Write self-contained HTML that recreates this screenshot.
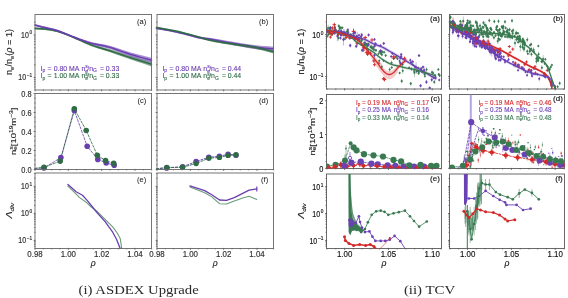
<!DOCTYPE html>
<html><head><meta charset="utf-8"><style>
html,body{margin:0;padding:0;background:#fff;width:568px;height:298px;overflow:hidden}
svg{display:block;filter:blur(0.4px)}
text{font-family:"Liberation Sans", sans-serif}
</style></head><body>
<svg width="568" height="298" viewBox="0 0 568 298">
<defs>
<clipPath id="cTa"><rect x="326.5" y="14.5" width="115" height="74.5"/></clipPath>
<clipPath id="cTb"><rect x="449.5" y="14.5" width="115" height="74.5"/></clipPath>
<clipPath id="cTc"><rect x="326.5" y="94.5" width="115" height="74"/></clipPath>
<clipPath id="cTd"><rect x="449.5" y="94.5" width="115" height="74"/></clipPath>
<clipPath id="cTe"><rect x="326.5" y="174" width="115" height="74.5"/></clipPath>
<clipPath id="cTf"><rect x="449.5" y="174" width="115" height="74.5"/></clipPath>
</defs>
<rect width="568" height="298" fill="#fff"/>
<polygon points="35.00,27.50 36.08,27.56 37.56,27.64 39.31,27.74 41.22,27.86 43.16,28.01 45.00,28.20 46.78,28.41 48.59,28.65 50.44,28.91 52.30,29.22 54.16,29.58 56.00,30.00 57.83,30.50 59.67,31.06 61.50,31.67 63.33,32.32 65.17,33.00 67.00,33.70 68.84,34.43 70.68,35.20 72.52,35.99 74.36,36.80 76.19,37.61 78.00,38.40 79.83,39.19 81.68,39.98 83.53,40.76 85.32,41.51 87.02,42.22 88.60,42.84 89.94,43.36 91.06,43.78 92.09,44.15 93.16,44.52 94.42,44.92 96.00,45.41 97.88,45.96 99.96,46.53 102.21,47.14 104.64,47.81 107.24,48.54 110.00,49.35 112.97,50.27 116.17,51.29 119.53,52.37 123.00,53.49 126.51,54.60 130.00,55.68 133.75,56.81 137.85,58.02 142.00,59.23 145.87,60.36 149.14,61.31 151.50,61.99 151.50,66.41 149.14,65.64 145.87,64.57 142.00,63.30 137.85,61.94 133.75,60.58 130.00,59.32 126.51,58.11 123.00,56.86 119.53,55.62 116.17,54.41 112.97,53.28 110.00,52.25 107.24,51.34 104.64,50.51 102.21,49.76 99.96,49.06 97.88,48.41 96.00,47.79 94.42,47.25 93.16,46.80 92.09,46.40 91.06,45.99 89.94,45.52 88.60,44.96 87.02,44.27 85.32,43.51 83.53,42.69 81.68,41.84 79.83,40.99 78.00,40.20 76.19,39.41 74.36,38.60 72.52,37.79 70.68,37.00 68.84,36.23 67.00,35.50 65.17,34.80 63.33,34.12 61.50,33.47 59.67,32.86 57.83,32.30 56.00,31.80 54.16,31.38 52.30,31.02 50.44,30.71 48.59,30.45 46.78,30.21 45.00,30.00 43.16,29.81 41.22,29.66 39.31,29.54 37.56,29.44 36.08,29.36 35.00,29.30" fill="#2f6b45" fill-opacity="0.4" stroke="none"/>
<polyline points="35.00,27.86 36.08,27.92 37.56,28.00 39.31,28.10 41.22,28.22 43.16,28.37 45.00,28.56 46.78,28.77 48.59,29.01 50.44,29.27 52.30,29.58 54.16,29.94 56.00,30.36 57.83,30.86 59.67,31.42 61.50,32.03 63.33,32.68 65.17,33.36 67.00,34.06 68.84,34.79 70.68,35.56 72.52,36.35 74.36,37.16 76.19,37.97 78.00,38.76 79.83,39.55 81.68,40.35 83.53,41.15 85.32,41.91 87.02,42.63 88.60,43.27 89.94,43.79 91.06,44.22 92.09,44.60 93.16,44.97 94.42,45.39 96.00,45.88 97.88,46.45 99.96,47.04 102.21,47.67 104.64,48.35 107.24,49.10 110.00,49.93 112.97,50.87 116.17,51.91 119.53,53.02 123.00,54.16 126.51,55.30 130.00,56.41 133.75,57.56 137.85,58.81 142.00,60.05 145.87,61.20 149.14,62.17 151.50,62.87" fill="none" stroke="#2f6b45" stroke-width="0.8" stroke-linejoin="round" stroke-linecap="round" stroke-opacity="0.45"/>
<polyline points="35.00,28.94 36.08,29.00 37.56,29.08 39.31,29.18 41.22,29.30 43.16,29.45 45.00,29.64 46.78,29.85 48.59,30.09 50.44,30.35 52.30,30.66 54.16,31.02 56.00,31.44 57.83,31.94 59.67,32.50 61.50,33.11 63.33,33.76 65.17,34.44 67.00,35.14 68.84,35.87 70.68,36.64 72.52,37.43 74.36,38.24 76.19,39.05 78.00,39.84 79.83,40.63 81.68,41.47 83.53,42.30 85.32,43.11 87.02,43.86 88.60,44.53 89.94,45.09 91.06,45.55 92.09,45.95 93.16,46.34 94.42,46.78 96.00,47.32 97.88,47.92 99.96,48.56 102.21,49.23 104.64,49.97 107.24,50.78 110.00,51.67 112.97,52.67 116.17,53.79 119.53,54.97 123.00,56.19 126.51,57.41 130.00,58.59 133.75,59.82 137.85,61.16 142.00,62.49 145.87,63.73 149.14,64.77 151.50,65.53" fill="none" stroke="#2f6b45" stroke-width="0.8" stroke-linejoin="round" stroke-linecap="round" stroke-opacity="0.45"/>
<polygon points="35.00,24.20 36.08,24.47 37.56,24.84 39.31,25.29 41.22,25.77 43.16,26.25 45.00,26.70 46.78,27.11 48.59,27.50 50.44,27.89 52.30,28.31 54.16,28.77 56.00,29.30 57.83,29.91 59.67,30.58 61.50,31.29 63.33,32.03 65.17,32.78 67.00,33.50 68.84,34.22 70.68,34.95 72.52,35.68 74.36,36.41 76.19,37.12 78.00,37.80 79.83,38.47 81.68,39.11 83.53,39.72 85.32,40.30 87.02,40.84 88.60,41.31 89.94,41.68 91.06,41.97 92.09,42.22 93.16,42.45 94.42,42.71 96.00,43.04 97.88,43.40 99.96,43.76 102.21,44.14 104.64,44.59 107.24,45.14 110.00,45.82 112.97,46.69 116.17,47.71 119.53,48.83 123.00,49.99 126.51,51.12 130.00,52.17 133.75,53.20 137.85,54.28 142.00,55.33 145.87,56.29 149.14,57.10 151.50,57.69 151.50,62.71 149.14,62.01 145.87,61.06 142.00,59.92 137.85,58.69 133.75,57.43 130.00,56.23 126.51,55.02 123.00,53.72 119.53,52.41 116.17,51.14 112.97,49.97 110.00,48.98 107.24,48.17 104.64,47.50 102.21,46.94 99.96,46.46 97.88,46.01 96.00,45.56 94.42,45.16 93.16,44.84 92.09,44.56 91.06,44.27 89.94,43.93 88.60,43.49 87.02,42.95 85.32,42.34 83.53,41.68 81.68,40.98 79.83,40.27 78.00,39.60 76.19,38.92 74.36,38.21 72.52,37.48 70.68,36.75 68.84,36.02 67.00,35.30 65.17,34.58 63.33,33.83 61.50,33.09 59.67,32.38 57.83,31.71 56.00,31.10 54.16,30.57 52.30,30.11 50.44,29.69 48.59,29.30 46.78,28.91 45.00,28.50 43.16,28.05 41.22,27.57 39.31,27.09 37.56,26.64 36.08,26.27 35.00,26.00" fill="#6a3db0" fill-opacity="0.4" stroke="none"/>
<polyline points="35.00,24.56 36.08,24.83 37.56,25.20 39.31,25.65 41.22,26.13 43.16,26.61 45.00,27.06 46.78,27.47 48.59,27.86 50.44,28.25 52.30,28.67 54.16,29.13 56.00,29.66 57.83,30.27 59.67,30.94 61.50,31.65 63.33,32.39 65.17,33.14 67.00,33.86 68.84,34.58 70.68,35.31 72.52,36.04 74.36,36.77 76.19,37.48 78.00,38.16 79.83,38.83 81.68,39.48 83.53,40.11 85.32,40.71 87.02,41.26 88.60,41.74 89.94,42.13 91.06,42.43 92.09,42.68 93.16,42.93 94.42,43.20 96.00,43.54 97.88,43.92 99.96,44.30 102.21,44.70 104.64,45.17 107.24,45.75 110.00,46.45 112.97,47.34 116.17,48.39 119.53,49.54 123.00,50.73 126.51,51.90 130.00,52.98 133.75,54.05 137.85,55.16 142.00,56.25 145.87,57.24 149.14,58.08 151.50,58.69" fill="none" stroke="#6a3db0" stroke-width="0.8" stroke-linejoin="round" stroke-linecap="round" stroke-opacity="0.45"/>
<polyline points="35.00,25.64 36.08,25.91 37.56,26.28 39.31,26.73 41.22,27.21 43.16,27.69 45.00,28.14 46.78,28.55 48.59,28.94 50.44,29.33 52.30,29.75 54.16,30.21 56.00,30.74 57.83,31.35 59.67,32.02 61.50,32.73 63.33,33.47 65.17,34.22 67.00,34.94 68.84,35.66 70.68,36.39 72.52,37.12 74.36,37.85 76.19,38.56 78.00,39.24 79.83,39.91 81.68,40.61 83.53,41.29 85.32,41.93 87.02,42.53 88.60,43.06 89.94,43.48 91.06,43.81 92.09,44.09 93.16,44.36 94.42,44.67 96.00,45.06 97.88,45.49 99.96,45.92 102.21,46.38 104.64,46.92 107.24,47.56 110.00,48.35 112.97,49.31 116.17,50.45 119.53,51.69 123.00,52.98 126.51,54.24 130.00,55.42 133.75,56.58 137.85,57.80 142.00,59.00 145.87,60.10 149.14,61.03 151.50,61.71" fill="none" stroke="#6a3db0" stroke-width="0.8" stroke-linejoin="round" stroke-linecap="round" stroke-opacity="0.45"/>
<polyline points="35.00,28.40 36.08,28.46 37.56,28.54 39.31,28.64 41.22,28.76 43.16,28.91 45.00,29.10 46.78,29.31 48.59,29.55 50.44,29.81 52.30,30.12 54.16,30.48 56.00,30.90 57.83,31.40 59.67,31.96 61.50,32.57 63.33,33.22 65.17,33.90 67.00,34.60 68.84,35.33 70.68,36.10 72.52,36.89 74.36,37.70 76.19,38.51 78.00,39.30 79.83,40.09 81.68,40.91 83.53,41.73 85.32,42.51 87.02,43.24 88.60,43.90 89.94,44.44 91.06,44.89 92.09,45.27 93.16,45.66 94.42,46.09 96.00,46.60 97.88,47.18 99.96,47.80 102.21,48.45 104.64,49.16 107.24,49.94 110.00,50.80 112.97,51.77 116.17,52.85 119.53,53.99 123.00,55.17 126.51,56.35 130.00,57.50 133.75,58.69 137.85,59.98 142.00,61.27 145.87,62.46 149.14,63.47 151.50,64.20" fill="none" stroke="#2f6b45" stroke-width="1.5" stroke-linejoin="round" stroke-linecap="round" />
<polyline points="35.00,25.10 36.08,25.37 37.56,25.74 39.31,26.19 41.22,26.67 43.16,27.15 45.00,27.60 46.78,28.01 48.59,28.40 50.44,28.79 52.30,29.21 54.16,29.67 56.00,30.20 57.83,30.81 59.67,31.48 61.50,32.19 63.33,32.93 65.17,33.68 67.00,34.40 68.84,35.12 70.68,35.85 72.52,36.58 74.36,37.31 76.19,38.02 78.00,38.70 79.83,39.37 81.68,40.04 83.53,40.70 85.32,41.32 87.02,41.89 88.60,42.40 89.94,42.81 91.06,43.12 92.09,43.39 93.16,43.64 94.42,43.93 96.00,44.30 97.88,44.70 99.96,45.11 102.21,45.54 104.64,46.05 107.24,46.66 110.00,47.40 112.97,48.33 116.17,49.42 119.53,50.62 123.00,51.86 126.51,53.07 130.00,54.20 133.75,55.32 137.85,56.48 142.00,57.63 145.87,58.67 149.14,59.56 151.50,60.20" fill="none" stroke="#6a3db0" stroke-width="1.5" stroke-linejoin="round" stroke-linecap="round" />
<polygon points="156.50,27.40 157.64,27.58 159.20,27.82 161.06,28.11 163.07,28.43 165.10,28.76 167.00,29.10 168.80,29.44 170.63,29.81 172.47,30.19 174.31,30.58 176.16,30.99 178.00,31.40 179.83,31.83 181.67,32.27 183.50,32.72 185.33,33.18 187.17,33.64 189.00,34.10 190.82,34.56 192.63,35.02 194.44,35.49 196.26,35.94 198.11,36.36 200.00,36.73 201.83,37.02 203.56,37.23 205.31,37.41 207.22,37.61 209.41,37.86 212.00,38.23 215.09,38.73 218.59,39.32 222.38,39.98 226.30,40.66 230.22,41.33 234.00,41.96 237.72,42.56 241.50,43.18 245.29,43.78 249.01,44.35 252.60,44.86 256.00,45.29 259.37,45.62 262.79,45.89 266.07,46.10 269.06,46.26 271.56,46.39 273.40,46.49 273.40,51.11 271.56,50.94 269.06,50.73 266.07,50.46 262.79,50.15 259.37,49.76 256.00,49.31 252.60,48.77 249.01,48.14 245.29,47.45 241.50,46.71 237.72,45.97 234.00,45.24 230.22,44.49 226.30,43.69 222.38,42.87 218.59,42.09 215.09,41.37 212.00,40.77 209.41,40.32 207.22,39.99 205.31,39.73 203.56,39.49 201.83,39.22 200.00,38.87 198.11,38.43 196.26,37.95 194.44,37.44 192.63,36.91 190.82,36.39 189.00,35.90 187.17,35.44 185.33,34.98 183.50,34.52 181.67,34.07 179.83,33.63 178.00,33.20 176.16,32.79 174.31,32.38 172.47,31.99 170.63,31.61 168.80,31.24 167.00,30.90 165.10,30.56 163.07,30.23 161.06,29.91 159.20,29.62 157.64,29.38 156.50,29.20" fill="#6a3db0" fill-opacity="0.4" stroke="none"/>
<polyline points="156.50,27.76 157.64,27.94 159.20,28.18 161.06,28.47 163.07,28.79 165.10,29.12 167.00,29.46 168.80,29.80 170.63,30.17 172.47,30.55 174.31,30.94 176.16,31.35 178.00,31.76 179.83,32.19 181.67,32.63 183.50,33.08 185.33,33.54 187.17,34.00 189.00,34.46 190.82,34.93 192.63,35.40 194.44,35.88 196.26,36.34 198.11,36.77 200.00,37.16 201.83,37.46 203.56,37.68 205.31,37.87 207.22,38.08 209.41,38.35 212.00,38.74 215.09,39.26 218.59,39.87 222.38,40.56 226.30,41.27 230.22,41.97 234.00,42.61 237.72,43.24 241.50,43.88 245.29,44.51 249.01,45.11 252.60,45.64 256.00,46.09 259.37,46.45 262.79,46.74 266.07,46.97 269.06,47.15 271.56,47.30 273.40,47.42" fill="none" stroke="#6a3db0" stroke-width="0.8" stroke-linejoin="round" stroke-linecap="round" stroke-opacity="0.45"/>
<polyline points="156.50,28.84 157.64,29.02 159.20,29.26 161.06,29.55 163.07,29.87 165.10,30.20 167.00,30.54 168.80,30.88 170.63,31.25 172.47,31.63 174.31,32.02 176.16,32.43 178.00,32.84 179.83,33.27 181.67,33.71 183.50,34.16 185.33,34.62 187.17,35.08 189.00,35.54 190.82,36.02 192.63,36.53 194.44,37.05 196.26,37.55 198.11,38.02 200.00,38.44 201.83,38.78 203.56,39.04 205.31,39.26 207.22,39.51 209.41,39.83 212.00,40.26 215.09,40.84 218.59,41.53 222.38,42.29 226.30,43.08 230.22,43.86 234.00,44.59 237.72,45.29 241.50,46.01 245.29,46.71 249.01,47.38 252.60,47.99 256.00,48.51 259.37,48.94 262.79,49.30 266.07,49.59 269.06,49.83 271.56,50.03 273.40,50.18" fill="none" stroke="#6a3db0" stroke-width="0.8" stroke-linejoin="round" stroke-linecap="round" stroke-opacity="0.45"/>
<polygon points="156.50,26.80 157.64,27.00 159.20,27.29 161.06,27.62 163.07,27.98 165.10,28.35 167.00,28.70 168.80,29.03 170.63,29.36 172.47,29.69 174.31,30.04 176.16,30.41 178.00,30.80 179.83,31.22 181.67,31.67 183.50,32.14 185.33,32.63 187.17,33.11 189.00,33.60 190.82,34.08 192.63,34.55 194.44,35.03 196.26,35.52 198.11,36.01 200.00,36.50 201.83,37.00 203.56,37.51 205.31,38.01 207.22,38.53 209.41,39.05 212.00,39.59 215.09,40.14 218.59,40.71 222.38,41.28 226.30,41.86 230.22,42.43 234.00,42.98 237.72,43.50 241.50,43.99 245.29,44.47 249.01,44.97 252.60,45.49 256.00,46.06 259.37,46.74 262.79,47.52 266.07,48.32 269.06,49.09 271.56,49.73 273.40,50.20 273.40,53.40 271.56,52.91 269.06,52.21 266.07,51.39 262.79,50.52 259.37,49.68 256.00,48.94 252.60,48.30 249.01,47.71 245.29,47.14 241.50,46.58 237.72,46.02 234.00,45.42 230.22,44.80 226.30,44.16 222.38,43.51 218.59,42.86 215.09,42.22 212.00,41.61 209.41,41.03 207.22,40.46 205.31,39.91 203.56,39.37 201.83,38.83 200.00,38.30 198.11,37.76 196.26,37.24 194.44,36.72 192.63,36.20 190.82,35.69 189.00,35.20 187.17,34.71 185.33,34.23 183.50,33.74 181.67,33.27 179.83,32.82 178.00,32.40 176.16,32.01 174.31,31.64 172.47,31.29 170.63,30.96 168.80,30.63 167.00,30.30 165.10,29.95 163.07,29.58 161.06,29.22 159.20,28.89 157.64,28.60 156.50,28.40" fill="#2f6b45" fill-opacity="0.4" stroke="none"/>
<polyline points="156.50,27.12 157.64,27.32 159.20,27.61 161.06,27.94 163.07,28.30 165.10,28.67 167.00,29.02 168.80,29.35 170.63,29.68 172.47,30.01 174.31,30.36 176.16,30.73 178.00,31.12 179.83,31.54 181.67,31.99 183.50,32.46 185.33,32.95 187.17,33.43 189.00,33.92 190.82,34.40 192.63,34.88 194.44,35.37 196.26,35.86 198.11,36.36 200.00,36.86 201.83,37.37 203.56,37.88 205.31,38.39 207.22,38.92 209.41,39.45 212.00,39.99 215.09,40.56 218.59,41.14 222.38,41.73 226.30,42.32 230.22,42.90 234.00,43.47 237.72,44.00 241.50,44.51 245.29,45.01 249.01,45.52 252.60,46.05 256.00,46.64 259.37,47.33 262.79,48.12 266.07,48.94 269.06,49.71 271.56,50.37 273.40,50.84" fill="none" stroke="#2f6b45" stroke-width="0.8" stroke-linejoin="round" stroke-linecap="round" stroke-opacity="0.45"/>
<polyline points="156.50,28.08 157.64,28.28 159.20,28.57 161.06,28.90 163.07,29.26 165.10,29.63 167.00,29.98 168.80,30.31 170.63,30.64 172.47,30.97 174.31,31.32 176.16,31.69 178.00,32.08 179.83,32.50 181.67,32.95 183.50,33.42 185.33,33.91 187.17,34.39 189.00,34.88 190.82,35.37 192.63,35.87 194.44,36.38 196.26,36.89 198.11,37.41 200.00,37.94 201.83,38.47 203.56,39.00 205.31,39.53 207.22,40.08 209.41,40.63 212.00,41.21 215.09,41.81 218.59,42.43 222.38,43.06 226.30,43.70 230.22,44.33 234.00,44.93 237.72,45.51 241.50,46.06 245.29,46.61 249.01,47.16 252.60,47.74 256.00,48.36 259.37,49.09 262.79,49.92 266.07,50.78 269.06,51.59 271.56,52.27 273.40,52.76" fill="none" stroke="#2f6b45" stroke-width="0.8" stroke-linejoin="round" stroke-linecap="round" stroke-opacity="0.45"/>
<polyline points="156.50,28.30 157.64,28.48 159.20,28.72 161.06,29.01 163.07,29.33 165.10,29.66 167.00,30.00 168.80,30.34 170.63,30.71 172.47,31.09 174.31,31.48 176.16,31.89 178.00,32.30 179.83,32.73 181.67,33.17 183.50,33.62 185.33,34.08 187.17,34.54 189.00,35.00 190.82,35.47 192.63,35.97 194.44,36.46 196.26,36.94 198.11,37.40 200.00,37.80 201.83,38.12 203.56,38.36 205.31,38.57 207.22,38.80 209.41,39.09 212.00,39.50 215.09,40.05 218.59,40.70 222.38,41.42 226.30,42.17 230.22,42.91 234.00,43.60 237.72,44.27 241.50,44.94 245.29,45.61 249.01,46.24 252.60,46.82 256.00,47.30 259.37,47.69 262.79,48.02 266.07,48.28 269.06,48.49 271.56,48.66 273.40,48.80" fill="none" stroke="#6a3db0" stroke-width="1.5" stroke-linejoin="round" stroke-linecap="round" />
<polyline points="156.50,27.60 157.64,27.80 159.20,28.09 161.06,28.42 163.07,28.78 165.10,29.15 167.00,29.50 168.80,29.83 170.63,30.16 172.47,30.49 174.31,30.84 176.16,31.21 178.00,31.60 179.83,32.02 181.67,32.47 183.50,32.94 185.33,33.43 187.17,33.91 189.00,34.40 190.82,34.89 192.63,35.38 194.44,35.87 196.26,36.38 198.11,36.89 200.00,37.40 201.83,37.92 203.56,38.44 205.31,38.96 207.22,39.50 209.41,40.04 212.00,40.60 215.09,41.18 218.59,41.78 222.38,42.39 226.30,43.01 230.22,43.61 234.00,44.20 237.72,44.76 241.50,45.29 245.29,45.81 249.01,46.34 252.60,46.90 256.00,47.50 259.37,48.21 262.79,49.02 266.07,49.86 269.06,50.65 271.56,51.32 273.40,51.80" fill="none" stroke="#2f6b45" stroke-width="1.5" stroke-linejoin="round" stroke-linecap="round" />
<polyline points="35.00,168.50 44.00,168.00 60.90,157.60 74.30,110.60 87.20,146.30 97.80,159.40 106.20,163.00 114.20,165.30" fill="none" stroke="#6a3db0" stroke-width="0.9" stroke-linejoin="round" stroke-linecap="round" stroke-dasharray="2.2,1.6" stroke-opacity="0.9"/>
<polyline points="35.00,168.30 44.00,167.30 60.20,161.10 74.30,108.70 86.20,130.50 97.30,155.20 105.50,160.60 113.70,163.40" fill="none" stroke="#2f6b45" stroke-width="0.9" stroke-linejoin="round" stroke-linecap="round" stroke-dasharray="2.2,1.6" stroke-opacity="0.9"/>
<circle cx="44.0" cy="168.0" r="2.8" fill="#6a3db0"/>
<circle cx="60.9" cy="157.6" r="2.8" fill="#6a3db0"/>
<circle cx="74.3" cy="110.6" r="2.8" fill="#6a3db0"/>
<circle cx="87.2" cy="146.3" r="2.8" fill="#6a3db0"/>
<circle cx="97.8" cy="159.4" r="2.8" fill="#6a3db0"/>
<circle cx="106.2" cy="163.0" r="2.8" fill="#6a3db0"/>
<circle cx="114.2" cy="165.3" r="2.8" fill="#6a3db0"/>
<circle cx="44.0" cy="167.3" r="2.8" fill="#2f6b45"/>
<circle cx="60.2" cy="161.1" r="2.8" fill="#2f6b45"/>
<circle cx="74.3" cy="108.7" r="2.8" fill="#2f6b45"/>
<circle cx="86.2" cy="130.5" r="2.8" fill="#2f6b45"/>
<circle cx="97.3" cy="155.2" r="2.8" fill="#2f6b45"/>
<circle cx="105.5" cy="160.6" r="2.8" fill="#2f6b45"/>
<circle cx="113.7" cy="163.4" r="2.8" fill="#2f6b45"/>
<polyline points="156.50,168.80 166.80,167.90 182.60,166.80 196.10,161.60 208.80,157.20 219.40,156.40 228.10,154.20 236.00,155.20" fill="none" stroke="#6a3db0" stroke-width="0.9" stroke-linejoin="round" stroke-linecap="round" stroke-dasharray="2.2,1.6"/>
<polyline points="156.50,168.80 166.80,167.40 182.60,167.30 196.10,163.50 208.80,158.20 219.40,157.40 228.10,155.40 236.00,154.70" fill="none" stroke="#2f6b45" stroke-width="0.9" stroke-linejoin="round" stroke-linecap="round" stroke-dasharray="2.2,1.6"/>
<circle cx="166.8" cy="167.9" r="2.8" fill="#6a3db0"/>
<circle cx="182.6" cy="166.8" r="2.8" fill="#6a3db0"/>
<circle cx="196.1" cy="161.6" r="2.8" fill="#6a3db0"/>
<circle cx="208.8" cy="157.2" r="2.8" fill="#6a3db0"/>
<circle cx="219.4" cy="156.4" r="2.8" fill="#6a3db0"/>
<circle cx="228.1" cy="154.2" r="2.8" fill="#6a3db0"/>
<circle cx="236.0" cy="155.2" r="2.8" fill="#6a3db0"/>
<circle cx="166.8" cy="167.4" r="2.7" fill="#2f6b45"/>
<circle cx="182.6" cy="167.3" r="2.7" fill="#2f6b45"/>
<circle cx="196.1" cy="163.5" r="2.7" fill="#2f6b45"/>
<circle cx="208.8" cy="158.2" r="2.7" fill="#2f6b45"/>
<circle cx="219.4" cy="157.4" r="2.7" fill="#2f6b45"/>
<circle cx="228.1" cy="155.4" r="2.7" fill="#2f6b45"/>
<circle cx="236.0" cy="154.7" r="2.7" fill="#2f6b45"/>
<polyline points="67.90,186.10 73.70,191.70 79.60,197.60 85.50,201.70 91.30,207.00 97.60,211.80 105.10,219.40 112.70,226.90 117.20,233.00 120.20,238.50 121.70,248.40" fill="none" stroke="#6a9a7c" stroke-width="1.1" stroke-linejoin="round" stroke-linecap="round" />
<polyline points="67.90,184.50 71.40,187.60 76.10,191.70 82.50,195.30 87.80,201.10 92.50,207.00 97.60,213.30 105.10,221.60 112.70,232.20 116.40,239.00 120.20,248.40" fill="none" stroke="#6a3db0" stroke-width="1.3" stroke-linejoin="round" stroke-linecap="round" />
<polyline points="189.90,187.00 204.70,192.70 211.80,196.90 219.50,203.70 226.50,204.00 234.30,201.10 242.70,198.00 249.10,196.20 256.80,199.40" fill="none" stroke="#6a9a7c" stroke-width="1.1" stroke-linejoin="round" stroke-linecap="round" />
<polyline points="189.90,185.90 204.70,190.60 211.80,194.80 219.50,200.00 226.50,200.40 234.30,197.60 242.70,193.40 249.10,190.10 256.80,188.90" fill="none" stroke="#6a3db0" stroke-width="1.3" stroke-linejoin="round" stroke-linecap="round" />
<line x1="256.80" y1="186.60" x2="256.80" y2="191.40" stroke="#6a3db0" stroke-width="1.1" />
<text font-size="6.9" fill="#6a3db0" stroke="#6a3db0" stroke-width="0.12" class="lg"><tspan x="40.50" y="70.80">I</tspan><tspan font-size="4.97" y="72.32">p</tspan><tspan x="47.50" y="70.80">=</tspan><tspan x="53.70" y="70.80">0.80</tspan><tspan x="69.00" y="70.80">MA</tspan><tspan x="81.40" y="70.80">n</tspan><tspan font-size="4.97" y="68.32">s</tspan><tspan font-size="4.97" x="85.24" y="72.59">e</tspan><tspan x="87.30" y="70.80">/n</tspan><tspan font-size="4.97" y="72.32">G</tspan><tspan x="100.10" y="70.80">=</tspan><tspan x="105.80" y="70.80">0.33</tspan></text>
<text font-size="6.9" fill="#2f6b45" stroke="#2f6b45" stroke-width="0.12" class="lg"><tspan x="40.50" y="78.40">I</tspan><tspan font-size="4.97" y="79.92">p</tspan><tspan x="47.50" y="78.40">=</tspan><tspan x="53.70" y="78.40">1.00</tspan><tspan x="69.00" y="78.40">MA</tspan><tspan x="81.40" y="78.40">n</tspan><tspan font-size="4.97" y="75.92">s</tspan><tspan font-size="4.97" x="85.24" y="80.19">e</tspan><tspan x="87.30" y="78.40">/n</tspan><tspan font-size="4.97" y="79.92">G</tspan><tspan x="100.10" y="78.40">=</tspan><tspan x="105.80" y="78.40">0.33</tspan></text>
<text font-size="6.9" fill="#6a3db0" stroke="#6a3db0" stroke-width="0.12" class="lg"><tspan x="162.40" y="70.80">I</tspan><tspan font-size="4.97" y="72.32">p</tspan><tspan x="169.40" y="70.80">=</tspan><tspan x="175.60" y="70.80">0.80</tspan><tspan x="190.90" y="70.80">MA</tspan><tspan x="203.30" y="70.80">n</tspan><tspan font-size="4.97" y="68.32">s</tspan><tspan font-size="4.97" x="207.14" y="72.59">e</tspan><tspan x="209.20" y="70.80">/n</tspan><tspan font-size="4.97" y="72.32">G</tspan><tspan x="222.00" y="70.80">=</tspan><tspan x="227.70" y="70.80">0.44</tspan></text>
<text font-size="6.9" fill="#2f6b45" stroke="#2f6b45" stroke-width="0.12" class="lg"><tspan x="162.40" y="78.40">I</tspan><tspan font-size="4.97" y="79.92">p</tspan><tspan x="169.40" y="78.40">=</tspan><tspan x="175.60" y="78.40">1.00</tspan><tspan x="190.90" y="78.40">MA</tspan><tspan x="203.30" y="78.40">n</tspan><tspan font-size="4.97" y="75.92">s</tspan><tspan font-size="4.97" x="207.14" y="80.19">e</tspan><tspan x="209.20" y="78.40">/n</tspan><tspan font-size="4.97" y="79.92">G</tspan><tspan x="222.00" y="78.40">=</tspan><tspan x="227.70" y="78.40">0.44</tspan></text>
<line x1="34.09" y1="86.93" x2="35.39" y2="86.93" stroke="#555" stroke-width="0.8" />
<line x1="34.09" y1="84.08" x2="35.39" y2="84.08" stroke="#555" stroke-width="0.8" />
<line x1="34.09" y1="81.62" x2="35.39" y2="81.62" stroke="#555" stroke-width="0.8" />
<line x1="34.09" y1="79.44" x2="35.39" y2="79.44" stroke="#555" stroke-width="0.8" />
<line x1="33.60" y1="77.50" x2="35.60" y2="77.50" stroke="#555" stroke-width="0.8" />
<line x1="34.09" y1="64.71" x2="35.39" y2="64.71" stroke="#555" stroke-width="0.8" />
<line x1="34.09" y1="57.22" x2="35.39" y2="57.22" stroke="#555" stroke-width="0.8" />
<line x1="34.09" y1="51.91" x2="35.39" y2="51.91" stroke="#555" stroke-width="0.8" />
<line x1="34.09" y1="47.79" x2="35.39" y2="47.79" stroke="#555" stroke-width="0.8" />
<line x1="34.09" y1="44.43" x2="35.39" y2="44.43" stroke="#555" stroke-width="0.8" />
<line x1="34.09" y1="41.58" x2="35.39" y2="41.58" stroke="#555" stroke-width="0.8" />
<line x1="34.09" y1="39.12" x2="35.39" y2="39.12" stroke="#555" stroke-width="0.8" />
<line x1="34.09" y1="36.94" x2="35.39" y2="36.94" stroke="#555" stroke-width="0.8" />
<line x1="33.60" y1="35.00" x2="35.60" y2="35.00" stroke="#555" stroke-width="0.8" />
<line x1="34.09" y1="22.21" x2="35.39" y2="22.21" stroke="#555" stroke-width="0.8" />
<text transform="translate(32.20,37.50) scale(1,1.2)" font-size="7.0" text-anchor="end" fill="#333" stroke="#333" stroke-width="0.16">10<tspan font-size="4.8" dx="0.7" dy="-2.7">0</tspan></text>
<text transform="translate(32.20,80.00) scale(1,1.2)" font-size="7.0" text-anchor="end" fill="#333" stroke="#333" stroke-width="0.16">10<tspan font-size="4.8" dx="0.7" dy="-2.7">&#8722;1</tspan></text>
<line x1="35.00" y1="91.40" x2="35.00" y2="89.40" stroke="#555" stroke-width="0.8" />
<line x1="43.33" y1="90.91" x2="43.33" y2="89.61" stroke="#555" stroke-width="0.8" />
<line x1="51.67" y1="90.91" x2="51.67" y2="89.61" stroke="#555" stroke-width="0.8" />
<line x1="60.00" y1="90.91" x2="60.00" y2="89.61" stroke="#555" stroke-width="0.8" />
<line x1="68.33" y1="91.40" x2="68.33" y2="89.40" stroke="#555" stroke-width="0.8" />
<line x1="76.67" y1="90.91" x2="76.67" y2="89.61" stroke="#555" stroke-width="0.8" />
<line x1="85.00" y1="90.91" x2="85.00" y2="89.61" stroke="#555" stroke-width="0.8" />
<line x1="93.33" y1="90.91" x2="93.33" y2="89.61" stroke="#555" stroke-width="0.8" />
<line x1="101.67" y1="91.40" x2="101.67" y2="89.40" stroke="#555" stroke-width="0.8" />
<line x1="110.00" y1="90.91" x2="110.00" y2="89.61" stroke="#555" stroke-width="0.8" />
<line x1="118.33" y1="90.91" x2="118.33" y2="89.61" stroke="#555" stroke-width="0.8" />
<line x1="126.67" y1="90.91" x2="126.67" y2="89.61" stroke="#555" stroke-width="0.8" />
<line x1="135.00" y1="91.40" x2="135.00" y2="89.40" stroke="#555" stroke-width="0.8" />
<line x1="143.33" y1="90.91" x2="143.33" y2="89.61" stroke="#555" stroke-width="0.8" />
<line x1="151.67" y1="90.91" x2="151.67" y2="89.61" stroke="#555" stroke-width="0.8" />
<rect x="35.0" y="14.5" width="116.50" height="75.50" fill="none" stroke="#666" stroke-width="0.9"/>
<line x1="33.60" y1="169.50" x2="35.60" y2="169.50" stroke="#555" stroke-width="0.8" />
<text transform="translate(31.60,172.90) scale(1,1.2)" font-size="7.4" text-anchor="end" fill="#333" stroke="#333" stroke-width="0.16" >0.0</text>
<line x1="34.09" y1="164.75" x2="35.39" y2="164.75" stroke="#555" stroke-width="0.8" />
<line x1="34.09" y1="160.00" x2="35.39" y2="160.00" stroke="#555" stroke-width="0.8" />
<line x1="34.09" y1="155.25" x2="35.39" y2="155.25" stroke="#555" stroke-width="0.8" />
<line x1="33.60" y1="150.50" x2="35.60" y2="150.50" stroke="#555" stroke-width="0.8" />
<text transform="translate(31.60,153.90) scale(1,1.2)" font-size="7.4" text-anchor="end" fill="#333" stroke="#333" stroke-width="0.16" >0.2</text>
<line x1="34.09" y1="145.75" x2="35.39" y2="145.75" stroke="#555" stroke-width="0.8" />
<line x1="34.09" y1="141.00" x2="35.39" y2="141.00" stroke="#555" stroke-width="0.8" />
<line x1="34.09" y1="136.25" x2="35.39" y2="136.25" stroke="#555" stroke-width="0.8" />
<line x1="33.60" y1="131.50" x2="35.60" y2="131.50" stroke="#555" stroke-width="0.8" />
<text transform="translate(31.60,134.90) scale(1,1.2)" font-size="7.4" text-anchor="end" fill="#333" stroke="#333" stroke-width="0.16" >0.4</text>
<line x1="34.09" y1="126.75" x2="35.39" y2="126.75" stroke="#555" stroke-width="0.8" />
<line x1="34.09" y1="122.00" x2="35.39" y2="122.00" stroke="#555" stroke-width="0.8" />
<line x1="34.09" y1="117.25" x2="35.39" y2="117.25" stroke="#555" stroke-width="0.8" />
<line x1="33.60" y1="112.50" x2="35.60" y2="112.50" stroke="#555" stroke-width="0.8" />
<text transform="translate(31.60,115.90) scale(1,1.2)" font-size="7.4" text-anchor="end" fill="#333" stroke="#333" stroke-width="0.16" >0.6</text>
<line x1="34.09" y1="107.75" x2="35.39" y2="107.75" stroke="#555" stroke-width="0.8" />
<line x1="34.09" y1="103.00" x2="35.39" y2="103.00" stroke="#555" stroke-width="0.8" />
<line x1="34.09" y1="98.25" x2="35.39" y2="98.25" stroke="#555" stroke-width="0.8" />
<line x1="33.60" y1="93.50" x2="35.60" y2="93.50" stroke="#555" stroke-width="0.8" />
<text transform="translate(31.60,96.90) scale(1,1.2)" font-size="7.4" text-anchor="end" fill="#333" stroke="#333" stroke-width="0.16" >0.8</text>
<line x1="35.00" y1="170.90" x2="35.00" y2="168.90" stroke="#555" stroke-width="0.8" />
<line x1="43.33" y1="170.41" x2="43.33" y2="169.11" stroke="#555" stroke-width="0.8" />
<line x1="51.67" y1="170.41" x2="51.67" y2="169.11" stroke="#555" stroke-width="0.8" />
<line x1="60.00" y1="170.41" x2="60.00" y2="169.11" stroke="#555" stroke-width="0.8" />
<line x1="68.33" y1="170.90" x2="68.33" y2="168.90" stroke="#555" stroke-width="0.8" />
<line x1="76.67" y1="170.41" x2="76.67" y2="169.11" stroke="#555" stroke-width="0.8" />
<line x1="85.00" y1="170.41" x2="85.00" y2="169.11" stroke="#555" stroke-width="0.8" />
<line x1="93.33" y1="170.41" x2="93.33" y2="169.11" stroke="#555" stroke-width="0.8" />
<line x1="101.67" y1="170.90" x2="101.67" y2="168.90" stroke="#555" stroke-width="0.8" />
<line x1="110.00" y1="170.41" x2="110.00" y2="169.11" stroke="#555" stroke-width="0.8" />
<line x1="118.33" y1="170.41" x2="118.33" y2="169.11" stroke="#555" stroke-width="0.8" />
<line x1="126.67" y1="170.41" x2="126.67" y2="169.11" stroke="#555" stroke-width="0.8" />
<line x1="135.00" y1="170.90" x2="135.00" y2="168.90" stroke="#555" stroke-width="0.8" />
<line x1="143.33" y1="170.41" x2="143.33" y2="169.11" stroke="#555" stroke-width="0.8" />
<line x1="151.67" y1="170.41" x2="151.67" y2="169.11" stroke="#555" stroke-width="0.8" />
<rect x="35.0" y="93.5" width="116.50" height="76.00" fill="none" stroke="#666" stroke-width="0.9"/>
<line x1="34.09" y1="246.39" x2="35.39" y2="246.39" stroke="#555" stroke-width="0.8" />
<line x1="34.09" y1="244.58" x2="35.39" y2="244.58" stroke="#555" stroke-width="0.8" />
<line x1="34.09" y1="243.02" x2="35.39" y2="243.02" stroke="#555" stroke-width="0.8" />
<line x1="34.09" y1="241.64" x2="35.39" y2="241.64" stroke="#555" stroke-width="0.8" />
<line x1="33.60" y1="240.40" x2="35.60" y2="240.40" stroke="#555" stroke-width="0.8" />
<line x1="34.09" y1="232.27" x2="35.39" y2="232.27" stroke="#555" stroke-width="0.8" />
<line x1="34.09" y1="227.52" x2="35.39" y2="227.52" stroke="#555" stroke-width="0.8" />
<line x1="34.09" y1="224.14" x2="35.39" y2="224.14" stroke="#555" stroke-width="0.8" />
<line x1="34.09" y1="221.53" x2="35.39" y2="221.53" stroke="#555" stroke-width="0.8" />
<line x1="34.09" y1="219.39" x2="35.39" y2="219.39" stroke="#555" stroke-width="0.8" />
<line x1="34.09" y1="217.58" x2="35.39" y2="217.58" stroke="#555" stroke-width="0.8" />
<line x1="34.09" y1="216.02" x2="35.39" y2="216.02" stroke="#555" stroke-width="0.8" />
<line x1="34.09" y1="214.64" x2="35.39" y2="214.64" stroke="#555" stroke-width="0.8" />
<line x1="33.60" y1="213.40" x2="35.60" y2="213.40" stroke="#555" stroke-width="0.8" />
<line x1="34.09" y1="205.27" x2="35.39" y2="205.27" stroke="#555" stroke-width="0.8" />
<line x1="34.09" y1="200.52" x2="35.39" y2="200.52" stroke="#555" stroke-width="0.8" />
<line x1="34.09" y1="197.14" x2="35.39" y2="197.14" stroke="#555" stroke-width="0.8" />
<line x1="34.09" y1="194.53" x2="35.39" y2="194.53" stroke="#555" stroke-width="0.8" />
<line x1="34.09" y1="192.39" x2="35.39" y2="192.39" stroke="#555" stroke-width="0.8" />
<line x1="34.09" y1="190.58" x2="35.39" y2="190.58" stroke="#555" stroke-width="0.8" />
<line x1="34.09" y1="189.02" x2="35.39" y2="189.02" stroke="#555" stroke-width="0.8" />
<line x1="34.09" y1="187.64" x2="35.39" y2="187.64" stroke="#555" stroke-width="0.8" />
<line x1="33.60" y1="186.40" x2="35.60" y2="186.40" stroke="#555" stroke-width="0.8" />
<line x1="34.09" y1="178.27" x2="35.39" y2="178.27" stroke="#555" stroke-width="0.8" />
<line x1="34.09" y1="173.52" x2="35.39" y2="173.52" stroke="#555" stroke-width="0.8" />
<text transform="translate(32.20,188.90) scale(1,1.2)" font-size="7.0" text-anchor="end" fill="#333" stroke="#333" stroke-width="0.16">10<tspan font-size="4.8" dx="0.7" dy="-2.7">1</tspan></text>
<text transform="translate(32.20,215.90) scale(1,1.2)" font-size="7.0" text-anchor="end" fill="#333" stroke="#333" stroke-width="0.16">10<tspan font-size="4.8" dx="0.7" dy="-2.7">0</tspan></text>
<text transform="translate(32.20,242.90) scale(1,1.2)" font-size="7.0" text-anchor="end" fill="#333" stroke="#333" stroke-width="0.16">10<tspan font-size="4.8" dx="0.7" dy="-2.7">&#8722;1</tspan></text>
<line x1="35.00" y1="249.90" x2="35.00" y2="247.90" stroke="#555" stroke-width="0.8" />
<text transform="translate(35.00,257.10) scale(1,1.15)" font-size="7.9" text-anchor="middle" fill="#333" stroke="#333" stroke-width="0.16" >0.98</text>
<line x1="43.33" y1="249.41" x2="43.33" y2="248.11" stroke="#555" stroke-width="0.8" />
<line x1="51.67" y1="249.41" x2="51.67" y2="248.11" stroke="#555" stroke-width="0.8" />
<line x1="60.00" y1="249.41" x2="60.00" y2="248.11" stroke="#555" stroke-width="0.8" />
<line x1="68.33" y1="249.90" x2="68.33" y2="247.90" stroke="#555" stroke-width="0.8" />
<text transform="translate(68.33,257.10) scale(1,1.15)" font-size="7.9" text-anchor="middle" fill="#333" stroke="#333" stroke-width="0.16" >1.00</text>
<line x1="76.67" y1="249.41" x2="76.67" y2="248.11" stroke="#555" stroke-width="0.8" />
<line x1="85.00" y1="249.41" x2="85.00" y2="248.11" stroke="#555" stroke-width="0.8" />
<line x1="93.33" y1="249.41" x2="93.33" y2="248.11" stroke="#555" stroke-width="0.8" />
<line x1="101.67" y1="249.90" x2="101.67" y2="247.90" stroke="#555" stroke-width="0.8" />
<text transform="translate(101.67,257.10) scale(1,1.15)" font-size="7.9" text-anchor="middle" fill="#333" stroke="#333" stroke-width="0.16" >1.02</text>
<line x1="110.00" y1="249.41" x2="110.00" y2="248.11" stroke="#555" stroke-width="0.8" />
<line x1="118.33" y1="249.41" x2="118.33" y2="248.11" stroke="#555" stroke-width="0.8" />
<line x1="126.67" y1="249.41" x2="126.67" y2="248.11" stroke="#555" stroke-width="0.8" />
<line x1="135.00" y1="249.90" x2="135.00" y2="247.90" stroke="#555" stroke-width="0.8" />
<text transform="translate(135.00,257.10) scale(1,1.15)" font-size="7.9" text-anchor="middle" fill="#333" stroke="#333" stroke-width="0.16" >1.04</text>
<line x1="143.33" y1="249.41" x2="143.33" y2="248.11" stroke="#555" stroke-width="0.8" />
<line x1="151.67" y1="249.41" x2="151.67" y2="248.11" stroke="#555" stroke-width="0.8" />
<rect x="35.0" y="173.0" width="116.50" height="75.50" fill="none" stroke="#666" stroke-width="0.9"/>
<line x1="156.09" y1="86.93" x2="157.39" y2="86.93" stroke="#555" stroke-width="0.8" />
<line x1="156.09" y1="84.08" x2="157.39" y2="84.08" stroke="#555" stroke-width="0.8" />
<line x1="156.09" y1="81.62" x2="157.39" y2="81.62" stroke="#555" stroke-width="0.8" />
<line x1="156.09" y1="79.44" x2="157.39" y2="79.44" stroke="#555" stroke-width="0.8" />
<line x1="155.60" y1="77.50" x2="157.60" y2="77.50" stroke="#555" stroke-width="0.8" />
<line x1="156.09" y1="64.71" x2="157.39" y2="64.71" stroke="#555" stroke-width="0.8" />
<line x1="156.09" y1="57.22" x2="157.39" y2="57.22" stroke="#555" stroke-width="0.8" />
<line x1="156.09" y1="51.91" x2="157.39" y2="51.91" stroke="#555" stroke-width="0.8" />
<line x1="156.09" y1="47.79" x2="157.39" y2="47.79" stroke="#555" stroke-width="0.8" />
<line x1="156.09" y1="44.43" x2="157.39" y2="44.43" stroke="#555" stroke-width="0.8" />
<line x1="156.09" y1="41.58" x2="157.39" y2="41.58" stroke="#555" stroke-width="0.8" />
<line x1="156.09" y1="39.12" x2="157.39" y2="39.12" stroke="#555" stroke-width="0.8" />
<line x1="156.09" y1="36.94" x2="157.39" y2="36.94" stroke="#555" stroke-width="0.8" />
<line x1="155.60" y1="35.00" x2="157.60" y2="35.00" stroke="#555" stroke-width="0.8" />
<line x1="156.09" y1="22.21" x2="157.39" y2="22.21" stroke="#555" stroke-width="0.8" />
<line x1="157.00" y1="91.40" x2="157.00" y2="89.40" stroke="#555" stroke-width="0.8" />
<line x1="165.33" y1="90.91" x2="165.33" y2="89.61" stroke="#555" stroke-width="0.8" />
<line x1="173.67" y1="90.91" x2="173.67" y2="89.61" stroke="#555" stroke-width="0.8" />
<line x1="182.00" y1="90.91" x2="182.00" y2="89.61" stroke="#555" stroke-width="0.8" />
<line x1="190.33" y1="91.40" x2="190.33" y2="89.40" stroke="#555" stroke-width="0.8" />
<line x1="198.67" y1="90.91" x2="198.67" y2="89.61" stroke="#555" stroke-width="0.8" />
<line x1="207.00" y1="90.91" x2="207.00" y2="89.61" stroke="#555" stroke-width="0.8" />
<line x1="215.33" y1="90.91" x2="215.33" y2="89.61" stroke="#555" stroke-width="0.8" />
<line x1="223.67" y1="91.40" x2="223.67" y2="89.40" stroke="#555" stroke-width="0.8" />
<line x1="232.00" y1="90.91" x2="232.00" y2="89.61" stroke="#555" stroke-width="0.8" />
<line x1="240.33" y1="90.91" x2="240.33" y2="89.61" stroke="#555" stroke-width="0.8" />
<line x1="248.67" y1="90.91" x2="248.67" y2="89.61" stroke="#555" stroke-width="0.8" />
<line x1="257.00" y1="91.40" x2="257.00" y2="89.40" stroke="#555" stroke-width="0.8" />
<line x1="265.33" y1="90.91" x2="265.33" y2="89.61" stroke="#555" stroke-width="0.8" />
<line x1="273.67" y1="90.91" x2="273.67" y2="89.61" stroke="#555" stroke-width="0.8" />
<rect x="157.0" y="14.5" width="116.50" height="75.50" fill="none" stroke="#666" stroke-width="0.9"/>
<line x1="155.60" y1="169.50" x2="157.60" y2="169.50" stroke="#555" stroke-width="0.8" />
<line x1="156.09" y1="164.75" x2="157.39" y2="164.75" stroke="#555" stroke-width="0.8" />
<line x1="156.09" y1="160.00" x2="157.39" y2="160.00" stroke="#555" stroke-width="0.8" />
<line x1="156.09" y1="155.25" x2="157.39" y2="155.25" stroke="#555" stroke-width="0.8" />
<line x1="155.60" y1="150.50" x2="157.60" y2="150.50" stroke="#555" stroke-width="0.8" />
<line x1="156.09" y1="145.75" x2="157.39" y2="145.75" stroke="#555" stroke-width="0.8" />
<line x1="156.09" y1="141.00" x2="157.39" y2="141.00" stroke="#555" stroke-width="0.8" />
<line x1="156.09" y1="136.25" x2="157.39" y2="136.25" stroke="#555" stroke-width="0.8" />
<line x1="155.60" y1="131.50" x2="157.60" y2="131.50" stroke="#555" stroke-width="0.8" />
<line x1="156.09" y1="126.75" x2="157.39" y2="126.75" stroke="#555" stroke-width="0.8" />
<line x1="156.09" y1="122.00" x2="157.39" y2="122.00" stroke="#555" stroke-width="0.8" />
<line x1="156.09" y1="117.25" x2="157.39" y2="117.25" stroke="#555" stroke-width="0.8" />
<line x1="155.60" y1="112.50" x2="157.60" y2="112.50" stroke="#555" stroke-width="0.8" />
<line x1="156.09" y1="107.75" x2="157.39" y2="107.75" stroke="#555" stroke-width="0.8" />
<line x1="156.09" y1="103.00" x2="157.39" y2="103.00" stroke="#555" stroke-width="0.8" />
<line x1="156.09" y1="98.25" x2="157.39" y2="98.25" stroke="#555" stroke-width="0.8" />
<line x1="155.60" y1="93.50" x2="157.60" y2="93.50" stroke="#555" stroke-width="0.8" />
<line x1="157.00" y1="170.90" x2="157.00" y2="168.90" stroke="#555" stroke-width="0.8" />
<line x1="165.33" y1="170.41" x2="165.33" y2="169.11" stroke="#555" stroke-width="0.8" />
<line x1="173.67" y1="170.41" x2="173.67" y2="169.11" stroke="#555" stroke-width="0.8" />
<line x1="182.00" y1="170.41" x2="182.00" y2="169.11" stroke="#555" stroke-width="0.8" />
<line x1="190.33" y1="170.90" x2="190.33" y2="168.90" stroke="#555" stroke-width="0.8" />
<line x1="198.67" y1="170.41" x2="198.67" y2="169.11" stroke="#555" stroke-width="0.8" />
<line x1="207.00" y1="170.41" x2="207.00" y2="169.11" stroke="#555" stroke-width="0.8" />
<line x1="215.33" y1="170.41" x2="215.33" y2="169.11" stroke="#555" stroke-width="0.8" />
<line x1="223.67" y1="170.90" x2="223.67" y2="168.90" stroke="#555" stroke-width="0.8" />
<line x1="232.00" y1="170.41" x2="232.00" y2="169.11" stroke="#555" stroke-width="0.8" />
<line x1="240.33" y1="170.41" x2="240.33" y2="169.11" stroke="#555" stroke-width="0.8" />
<line x1="248.67" y1="170.41" x2="248.67" y2="169.11" stroke="#555" stroke-width="0.8" />
<line x1="257.00" y1="170.90" x2="257.00" y2="168.90" stroke="#555" stroke-width="0.8" />
<line x1="265.33" y1="170.41" x2="265.33" y2="169.11" stroke="#555" stroke-width="0.8" />
<line x1="273.67" y1="170.41" x2="273.67" y2="169.11" stroke="#555" stroke-width="0.8" />
<rect x="157.0" y="93.5" width="116.50" height="76.00" fill="none" stroke="#666" stroke-width="0.9"/>
<line x1="156.09" y1="246.39" x2="157.39" y2="246.39" stroke="#555" stroke-width="0.8" />
<line x1="156.09" y1="244.58" x2="157.39" y2="244.58" stroke="#555" stroke-width="0.8" />
<line x1="156.09" y1="243.02" x2="157.39" y2="243.02" stroke="#555" stroke-width="0.8" />
<line x1="156.09" y1="241.64" x2="157.39" y2="241.64" stroke="#555" stroke-width="0.8" />
<line x1="155.60" y1="240.40" x2="157.60" y2="240.40" stroke="#555" stroke-width="0.8" />
<line x1="156.09" y1="232.27" x2="157.39" y2="232.27" stroke="#555" stroke-width="0.8" />
<line x1="156.09" y1="227.52" x2="157.39" y2="227.52" stroke="#555" stroke-width="0.8" />
<line x1="156.09" y1="224.14" x2="157.39" y2="224.14" stroke="#555" stroke-width="0.8" />
<line x1="156.09" y1="221.53" x2="157.39" y2="221.53" stroke="#555" stroke-width="0.8" />
<line x1="156.09" y1="219.39" x2="157.39" y2="219.39" stroke="#555" stroke-width="0.8" />
<line x1="156.09" y1="217.58" x2="157.39" y2="217.58" stroke="#555" stroke-width="0.8" />
<line x1="156.09" y1="216.02" x2="157.39" y2="216.02" stroke="#555" stroke-width="0.8" />
<line x1="156.09" y1="214.64" x2="157.39" y2="214.64" stroke="#555" stroke-width="0.8" />
<line x1="155.60" y1="213.40" x2="157.60" y2="213.40" stroke="#555" stroke-width="0.8" />
<line x1="156.09" y1="205.27" x2="157.39" y2="205.27" stroke="#555" stroke-width="0.8" />
<line x1="156.09" y1="200.52" x2="157.39" y2="200.52" stroke="#555" stroke-width="0.8" />
<line x1="156.09" y1="197.14" x2="157.39" y2="197.14" stroke="#555" stroke-width="0.8" />
<line x1="156.09" y1="194.53" x2="157.39" y2="194.53" stroke="#555" stroke-width="0.8" />
<line x1="156.09" y1="192.39" x2="157.39" y2="192.39" stroke="#555" stroke-width="0.8" />
<line x1="156.09" y1="190.58" x2="157.39" y2="190.58" stroke="#555" stroke-width="0.8" />
<line x1="156.09" y1="189.02" x2="157.39" y2="189.02" stroke="#555" stroke-width="0.8" />
<line x1="156.09" y1="187.64" x2="157.39" y2="187.64" stroke="#555" stroke-width="0.8" />
<line x1="155.60" y1="186.40" x2="157.60" y2="186.40" stroke="#555" stroke-width="0.8" />
<line x1="156.09" y1="178.27" x2="157.39" y2="178.27" stroke="#555" stroke-width="0.8" />
<line x1="156.09" y1="173.52" x2="157.39" y2="173.52" stroke="#555" stroke-width="0.8" />
<line x1="157.00" y1="249.90" x2="157.00" y2="247.90" stroke="#555" stroke-width="0.8" />
<text transform="translate(157.00,257.10) scale(1,1.15)" font-size="7.9" text-anchor="middle" fill="#333" stroke="#333" stroke-width="0.16" >0.98</text>
<line x1="165.33" y1="249.41" x2="165.33" y2="248.11" stroke="#555" stroke-width="0.8" />
<line x1="173.67" y1="249.41" x2="173.67" y2="248.11" stroke="#555" stroke-width="0.8" />
<line x1="182.00" y1="249.41" x2="182.00" y2="248.11" stroke="#555" stroke-width="0.8" />
<line x1="190.33" y1="249.90" x2="190.33" y2="247.90" stroke="#555" stroke-width="0.8" />
<text transform="translate(190.33,257.10) scale(1,1.15)" font-size="7.9" text-anchor="middle" fill="#333" stroke="#333" stroke-width="0.16" >1.00</text>
<line x1="198.67" y1="249.41" x2="198.67" y2="248.11" stroke="#555" stroke-width="0.8" />
<line x1="207.00" y1="249.41" x2="207.00" y2="248.11" stroke="#555" stroke-width="0.8" />
<line x1="215.33" y1="249.41" x2="215.33" y2="248.11" stroke="#555" stroke-width="0.8" />
<line x1="223.67" y1="249.90" x2="223.67" y2="247.90" stroke="#555" stroke-width="0.8" />
<text transform="translate(223.67,257.10) scale(1,1.15)" font-size="7.9" text-anchor="middle" fill="#333" stroke="#333" stroke-width="0.16" >1.02</text>
<line x1="232.00" y1="249.41" x2="232.00" y2="248.11" stroke="#555" stroke-width="0.8" />
<line x1="240.33" y1="249.41" x2="240.33" y2="248.11" stroke="#555" stroke-width="0.8" />
<line x1="248.67" y1="249.41" x2="248.67" y2="248.11" stroke="#555" stroke-width="0.8" />
<line x1="257.00" y1="249.90" x2="257.00" y2="247.90" stroke="#555" stroke-width="0.8" />
<text transform="translate(257.00,257.10) scale(1,1.15)" font-size="7.9" text-anchor="middle" fill="#333" stroke="#333" stroke-width="0.16" >1.04</text>
<line x1="265.33" y1="249.41" x2="265.33" y2="248.11" stroke="#555" stroke-width="0.8" />
<line x1="273.67" y1="249.41" x2="273.67" y2="248.11" stroke="#555" stroke-width="0.8" />
<rect x="157.0" y="173.0" width="116.50" height="75.50" fill="none" stroke="#666" stroke-width="0.9"/>
<text x="146.20" y="23.80" font-size="7.5" text-anchor="end" fill="#222" stroke="#222" stroke-width="0.05" >(a)</text>
<text x="146.20" y="102.80" font-size="7.5" text-anchor="end" fill="#222" stroke="#222" stroke-width="0.05" >(c)</text>
<text x="146.20" y="182.30" font-size="7.5" text-anchor="end" fill="#222" stroke="#222" stroke-width="0.05" >(e)</text>
<text x="268.20" y="23.80" font-size="7.5" text-anchor="end" fill="#222" stroke="#222" stroke-width="0.05" >(b)</text>
<text x="268.20" y="102.80" font-size="7.5" text-anchor="end" fill="#222" stroke="#222" stroke-width="0.05" >(d)</text>
<text x="268.20" y="182.30" font-size="7.5" text-anchor="end" fill="#222" stroke="#222" stroke-width="0.05" >(f)</text>
<text x="93.25" y="266.40" font-size="8.6" text-anchor="middle" fill="#222" stroke="#222" stroke-width="0.16" font-style="italic">&#961;</text>
<text x="215.25" y="266.40" font-size="8.6" text-anchor="middle" fill="#222" stroke="#222" stroke-width="0.16" font-style="italic">&#961;</text>
<text x="384.00" y="266.20" font-size="8.6" text-anchor="middle" fill="#111" stroke="#111" stroke-width="0.14" font-style="italic">&#961;</text>
<text x="507.00" y="266.20" font-size="8.6" text-anchor="middle" fill="#111" stroke="#111" stroke-width="0.14" font-style="italic">&#961;</text>
<text class="yl" transform="translate(12.30,52.00) rotate(-90)" font-size="8.3" text-anchor="middle" fill="#222" stroke="#222" stroke-width="0.12" textLength="46" lengthAdjust="spacingAndGlyphs">n<tspan font-size="5.4" dy="1.6">e</tspan><tspan dy="-1.6">/n</tspan><tspan font-size="5.4" dy="1.6">e</tspan><tspan dy="-1.6">(</tspan><tspan font-style="italic">&#961;</tspan> = 1)</text>
<text class="yl" transform="translate(15.50,131.20) rotate(-90)" font-size="7.7" text-anchor="middle" fill="#222" stroke="#222" stroke-width="0.12" textLength="47.4" lengthAdjust="spacingAndGlyphs">n<tspan font-size="5.4" dy="-3">s</tspan><tspan font-size="5.4" dx="-3.0" dy="4.6">e</tspan><tspan dy="-1.6">[10</tspan><tspan font-size="5.4" dy="-3">19</tspan><tspan dy="3">m</tspan><tspan font-size="5.4" dy="-3">&#8722;3</tspan><tspan dy="3">]</tspan></text>
<text class="yl" transform="translate(12.30,210.80) rotate(-90)" font-size="9" text-anchor="middle" fill="#222" stroke="#222" stroke-width="0.12" textLength="15.5" lengthAdjust="spacingAndGlyphs"><tspan font-style="italic">&#923;</tspan><tspan font-size="5.6" dy="1.6" font-style="italic">div</tspan></text>
<text class="yl" transform="translate(303.80,51.60) rotate(-90)" font-size="8.3" text-anchor="middle" fill="#111" stroke="#111" stroke-width="0.12" textLength="46" lengthAdjust="spacingAndGlyphs">n<tspan font-size="5.4" dy="1.6">e</tspan><tspan dy="-1.6">/n</tspan><tspan font-size="5.4" dy="1.6">e</tspan><tspan dy="-1.6">(</tspan><tspan font-style="italic">&#961;</tspan> = 1)</text>
<text class="yl" transform="translate(314.70,131.50) rotate(-90)" font-size="7.7" text-anchor="middle" fill="#111" stroke="#111" stroke-width="0.12" textLength="48" lengthAdjust="spacingAndGlyphs">n<tspan font-size="5.4" dy="-3">s</tspan><tspan font-size="5.4" dx="-3.0" dy="4.6">e</tspan><tspan dy="-1.6">[10</tspan><tspan font-size="5.4" dy="-3">19</tspan><tspan dy="3">m</tspan><tspan font-size="5.4" dy="-3">&#8722;3</tspan><tspan dy="3">]</tspan></text>
<text class="yl" transform="translate(304.10,211.10) rotate(-90)" font-size="9" text-anchor="middle" fill="#111" stroke="#111" stroke-width="0.12" textLength="15.5" lengthAdjust="spacingAndGlyphs"><tspan font-style="italic">&#923;</tspan><tspan font-size="5.6" dy="1.6" font-style="italic">div</tspan></text>
<line x1="325.59" y1="85.92" x2="326.89" y2="85.92" stroke="#444" stroke-width="0.8" />
<line x1="325.59" y1="83.11" x2="326.89" y2="83.11" stroke="#444" stroke-width="0.8" />
<line x1="325.59" y1="80.67" x2="326.89" y2="80.67" stroke="#444" stroke-width="0.8" />
<line x1="325.59" y1="78.52" x2="326.89" y2="78.52" stroke="#444" stroke-width="0.8" />
<line x1="325.10" y1="76.60" x2="327.10" y2="76.60" stroke="#444" stroke-width="0.8" />
<line x1="325.59" y1="63.96" x2="326.89" y2="63.96" stroke="#444" stroke-width="0.8" />
<line x1="325.59" y1="56.56" x2="326.89" y2="56.56" stroke="#444" stroke-width="0.8" />
<line x1="325.59" y1="51.31" x2="326.89" y2="51.31" stroke="#444" stroke-width="0.8" />
<line x1="325.59" y1="47.24" x2="326.89" y2="47.24" stroke="#444" stroke-width="0.8" />
<line x1="325.59" y1="43.92" x2="326.89" y2="43.92" stroke="#444" stroke-width="0.8" />
<line x1="325.59" y1="41.11" x2="326.89" y2="41.11" stroke="#444" stroke-width="0.8" />
<line x1="325.59" y1="38.67" x2="326.89" y2="38.67" stroke="#444" stroke-width="0.8" />
<line x1="325.59" y1="36.52" x2="326.89" y2="36.52" stroke="#444" stroke-width="0.8" />
<line x1="325.10" y1="34.60" x2="327.10" y2="34.60" stroke="#444" stroke-width="0.8" />
<line x1="325.59" y1="21.96" x2="326.89" y2="21.96" stroke="#444" stroke-width="0.8" />
<text transform="translate(323.40,37.80) scale(1,1.2)" font-size="7.0" text-anchor="end" fill="#111" stroke="#111" stroke-width="0.14">10<tspan font-size="4.8" dx="0.7" dy="-2.7">0</tspan></text>
<text transform="translate(323.40,79.80) scale(1,1.2)" font-size="7.0" text-anchor="end" fill="#111" stroke="#111" stroke-width="0.14">10<tspan font-size="4.8" dx="0.7" dy="-2.7">&#8722;1</tspan></text>
<line x1="327.08" y1="89.91" x2="327.08" y2="88.61" stroke="#444" stroke-width="0.8" />
<line x1="335.84" y1="89.91" x2="335.84" y2="88.61" stroke="#444" stroke-width="0.8" />
<line x1="344.60" y1="90.40" x2="344.60" y2="88.40" stroke="#444" stroke-width="0.8" />
<line x1="353.36" y1="89.91" x2="353.36" y2="88.61" stroke="#444" stroke-width="0.8" />
<line x1="362.12" y1="89.91" x2="362.12" y2="88.61" stroke="#444" stroke-width="0.8" />
<line x1="370.88" y1="89.91" x2="370.88" y2="88.61" stroke="#444" stroke-width="0.8" />
<line x1="379.64" y1="89.91" x2="379.64" y2="88.61" stroke="#444" stroke-width="0.8" />
<line x1="388.40" y1="90.40" x2="388.40" y2="88.40" stroke="#444" stroke-width="0.8" />
<line x1="397.16" y1="89.91" x2="397.16" y2="88.61" stroke="#444" stroke-width="0.8" />
<line x1="405.92" y1="89.91" x2="405.92" y2="88.61" stroke="#444" stroke-width="0.8" />
<line x1="414.68" y1="89.91" x2="414.68" y2="88.61" stroke="#444" stroke-width="0.8" />
<line x1="423.44" y1="89.91" x2="423.44" y2="88.61" stroke="#444" stroke-width="0.8" />
<line x1="432.20" y1="90.40" x2="432.20" y2="88.40" stroke="#444" stroke-width="0.8" />
<line x1="440.96" y1="89.91" x2="440.96" y2="88.61" stroke="#444" stroke-width="0.8" />
<rect x="326.5" y="14.5" width="115.00" height="74.50" fill="none" stroke="#5a5a5a" stroke-width="0.9"/>
<line x1="325.10" y1="168.30" x2="327.10" y2="168.30" stroke="#444" stroke-width="0.8" />
<text transform="translate(323.40,171.70) scale(1,1.2)" font-size="7.4" text-anchor="end" fill="#111" stroke="#111" stroke-width="0.14" >0</text>
<line x1="325.59" y1="161.54" x2="326.89" y2="161.54" stroke="#444" stroke-width="0.8" />
<line x1="325.59" y1="154.78" x2="326.89" y2="154.78" stroke="#444" stroke-width="0.8" />
<line x1="325.59" y1="148.02" x2="326.89" y2="148.02" stroke="#444" stroke-width="0.8" />
<line x1="325.59" y1="141.26" x2="326.89" y2="141.26" stroke="#444" stroke-width="0.8" />
<line x1="325.10" y1="134.50" x2="327.10" y2="134.50" stroke="#444" stroke-width="0.8" />
<text transform="translate(323.40,137.90) scale(1,1.2)" font-size="7.4" text-anchor="end" fill="#111" stroke="#111" stroke-width="0.14" >1</text>
<line x1="325.59" y1="127.74" x2="326.89" y2="127.74" stroke="#444" stroke-width="0.8" />
<line x1="325.59" y1="120.98" x2="326.89" y2="120.98" stroke="#444" stroke-width="0.8" />
<line x1="325.59" y1="114.22" x2="326.89" y2="114.22" stroke="#444" stroke-width="0.8" />
<line x1="325.59" y1="107.46" x2="326.89" y2="107.46" stroke="#444" stroke-width="0.8" />
<line x1="325.10" y1="100.70" x2="327.10" y2="100.70" stroke="#444" stroke-width="0.8" />
<text transform="translate(323.40,104.10) scale(1,1.2)" font-size="7.4" text-anchor="end" fill="#111" stroke="#111" stroke-width="0.14" >2</text>
<line x1="327.08" y1="169.41" x2="327.08" y2="168.11" stroke="#444" stroke-width="0.8" />
<line x1="335.84" y1="169.41" x2="335.84" y2="168.11" stroke="#444" stroke-width="0.8" />
<line x1="344.60" y1="169.90" x2="344.60" y2="167.90" stroke="#444" stroke-width="0.8" />
<line x1="353.36" y1="169.41" x2="353.36" y2="168.11" stroke="#444" stroke-width="0.8" />
<line x1="362.12" y1="169.41" x2="362.12" y2="168.11" stroke="#444" stroke-width="0.8" />
<line x1="370.88" y1="169.41" x2="370.88" y2="168.11" stroke="#444" stroke-width="0.8" />
<line x1="379.64" y1="169.41" x2="379.64" y2="168.11" stroke="#444" stroke-width="0.8" />
<line x1="388.40" y1="169.90" x2="388.40" y2="167.90" stroke="#444" stroke-width="0.8" />
<line x1="397.16" y1="169.41" x2="397.16" y2="168.11" stroke="#444" stroke-width="0.8" />
<line x1="405.92" y1="169.41" x2="405.92" y2="168.11" stroke="#444" stroke-width="0.8" />
<line x1="414.68" y1="169.41" x2="414.68" y2="168.11" stroke="#444" stroke-width="0.8" />
<line x1="423.44" y1="169.41" x2="423.44" y2="168.11" stroke="#444" stroke-width="0.8" />
<line x1="432.20" y1="169.90" x2="432.20" y2="167.90" stroke="#444" stroke-width="0.8" />
<line x1="440.96" y1="169.41" x2="440.96" y2="168.11" stroke="#444" stroke-width="0.8" />
<rect x="326.5" y="94.5" width="115.00" height="74.00" fill="none" stroke="#5a5a5a" stroke-width="0.9"/>
<line x1="325.59" y1="246.37" x2="326.89" y2="246.37" stroke="#444" stroke-width="0.8" />
<line x1="325.59" y1="244.57" x2="326.89" y2="244.57" stroke="#444" stroke-width="0.8" />
<line x1="325.59" y1="243.01" x2="326.89" y2="243.01" stroke="#444" stroke-width="0.8" />
<line x1="325.59" y1="241.63" x2="326.89" y2="241.63" stroke="#444" stroke-width="0.8" />
<line x1="325.10" y1="240.40" x2="327.10" y2="240.40" stroke="#444" stroke-width="0.8" />
<line x1="325.59" y1="232.30" x2="326.89" y2="232.30" stroke="#444" stroke-width="0.8" />
<line x1="325.59" y1="227.57" x2="326.89" y2="227.57" stroke="#444" stroke-width="0.8" />
<line x1="325.59" y1="224.20" x2="326.89" y2="224.20" stroke="#444" stroke-width="0.8" />
<line x1="325.59" y1="221.60" x2="326.89" y2="221.60" stroke="#444" stroke-width="0.8" />
<line x1="325.59" y1="219.47" x2="326.89" y2="219.47" stroke="#444" stroke-width="0.8" />
<line x1="325.59" y1="217.67" x2="326.89" y2="217.67" stroke="#444" stroke-width="0.8" />
<line x1="325.59" y1="216.11" x2="326.89" y2="216.11" stroke="#444" stroke-width="0.8" />
<line x1="325.59" y1="214.73" x2="326.89" y2="214.73" stroke="#444" stroke-width="0.8" />
<line x1="325.10" y1="213.50" x2="327.10" y2="213.50" stroke="#444" stroke-width="0.8" />
<line x1="325.59" y1="205.40" x2="326.89" y2="205.40" stroke="#444" stroke-width="0.8" />
<line x1="325.59" y1="200.67" x2="326.89" y2="200.67" stroke="#444" stroke-width="0.8" />
<line x1="325.59" y1="197.30" x2="326.89" y2="197.30" stroke="#444" stroke-width="0.8" />
<line x1="325.59" y1="194.70" x2="326.89" y2="194.70" stroke="#444" stroke-width="0.8" />
<line x1="325.59" y1="192.57" x2="326.89" y2="192.57" stroke="#444" stroke-width="0.8" />
<line x1="325.59" y1="190.77" x2="326.89" y2="190.77" stroke="#444" stroke-width="0.8" />
<line x1="325.59" y1="189.21" x2="326.89" y2="189.21" stroke="#444" stroke-width="0.8" />
<line x1="325.59" y1="187.83" x2="326.89" y2="187.83" stroke="#444" stroke-width="0.8" />
<line x1="325.10" y1="186.60" x2="327.10" y2="186.60" stroke="#444" stroke-width="0.8" />
<line x1="325.59" y1="178.50" x2="326.89" y2="178.50" stroke="#444" stroke-width="0.8" />
<text transform="translate(323.40,189.80) scale(1,1.2)" font-size="7.0" text-anchor="end" fill="#111" stroke="#111" stroke-width="0.14">10<tspan font-size="4.8" dx="0.7" dy="-2.7">1</tspan></text>
<text transform="translate(323.40,216.70) scale(1,1.2)" font-size="7.0" text-anchor="end" fill="#111" stroke="#111" stroke-width="0.14">10<tspan font-size="4.8" dx="0.7" dy="-2.7">0</tspan></text>
<text transform="translate(323.40,243.60) scale(1,1.2)" font-size="7.0" text-anchor="end" fill="#111" stroke="#111" stroke-width="0.14">10<tspan font-size="4.8" dx="0.7" dy="-2.7">&#8722;1</tspan></text>
<line x1="327.08" y1="249.41" x2="327.08" y2="248.11" stroke="#444" stroke-width="0.8" />
<line x1="335.84" y1="249.41" x2="335.84" y2="248.11" stroke="#444" stroke-width="0.8" />
<line x1="344.60" y1="249.90" x2="344.60" y2="247.90" stroke="#444" stroke-width="0.8" />
<text transform="translate(344.60,257.10) scale(1,1.15)" font-size="7.9" text-anchor="middle" fill="#111" stroke="#111" stroke-width="0.14" >1.00</text>
<line x1="353.36" y1="249.41" x2="353.36" y2="248.11" stroke="#444" stroke-width="0.8" />
<line x1="362.12" y1="249.41" x2="362.12" y2="248.11" stroke="#444" stroke-width="0.8" />
<line x1="370.88" y1="249.41" x2="370.88" y2="248.11" stroke="#444" stroke-width="0.8" />
<line x1="379.64" y1="249.41" x2="379.64" y2="248.11" stroke="#444" stroke-width="0.8" />
<line x1="388.40" y1="249.90" x2="388.40" y2="247.90" stroke="#444" stroke-width="0.8" />
<text transform="translate(388.40,257.10) scale(1,1.15)" font-size="7.9" text-anchor="middle" fill="#111" stroke="#111" stroke-width="0.14" >1.05</text>
<line x1="397.16" y1="249.41" x2="397.16" y2="248.11" stroke="#444" stroke-width="0.8" />
<line x1="405.92" y1="249.41" x2="405.92" y2="248.11" stroke="#444" stroke-width="0.8" />
<line x1="414.68" y1="249.41" x2="414.68" y2="248.11" stroke="#444" stroke-width="0.8" />
<line x1="423.44" y1="249.41" x2="423.44" y2="248.11" stroke="#444" stroke-width="0.8" />
<line x1="432.20" y1="249.90" x2="432.20" y2="247.90" stroke="#444" stroke-width="0.8" />
<text transform="translate(432.20,257.10) scale(1,1.15)" font-size="7.9" text-anchor="middle" fill="#111" stroke="#111" stroke-width="0.14" >1.10</text>
<line x1="440.96" y1="249.41" x2="440.96" y2="248.11" stroke="#444" stroke-width="0.8" />
<rect x="326.5" y="174.0" width="115.00" height="74.50" fill="none" stroke="#5a5a5a" stroke-width="0.9"/>
<line x1="448.59" y1="85.92" x2="449.89" y2="85.92" stroke="#444" stroke-width="0.8" />
<line x1="448.59" y1="83.11" x2="449.89" y2="83.11" stroke="#444" stroke-width="0.8" />
<line x1="448.59" y1="80.67" x2="449.89" y2="80.67" stroke="#444" stroke-width="0.8" />
<line x1="448.59" y1="78.52" x2="449.89" y2="78.52" stroke="#444" stroke-width="0.8" />
<line x1="448.10" y1="76.60" x2="450.10" y2="76.60" stroke="#444" stroke-width="0.8" />
<line x1="448.59" y1="63.96" x2="449.89" y2="63.96" stroke="#444" stroke-width="0.8" />
<line x1="448.59" y1="56.56" x2="449.89" y2="56.56" stroke="#444" stroke-width="0.8" />
<line x1="448.59" y1="51.31" x2="449.89" y2="51.31" stroke="#444" stroke-width="0.8" />
<line x1="448.59" y1="47.24" x2="449.89" y2="47.24" stroke="#444" stroke-width="0.8" />
<line x1="448.59" y1="43.92" x2="449.89" y2="43.92" stroke="#444" stroke-width="0.8" />
<line x1="448.59" y1="41.11" x2="449.89" y2="41.11" stroke="#444" stroke-width="0.8" />
<line x1="448.59" y1="38.67" x2="449.89" y2="38.67" stroke="#444" stroke-width="0.8" />
<line x1="448.59" y1="36.52" x2="449.89" y2="36.52" stroke="#444" stroke-width="0.8" />
<line x1="448.10" y1="34.60" x2="450.10" y2="34.60" stroke="#444" stroke-width="0.8" />
<line x1="448.59" y1="21.96" x2="449.89" y2="21.96" stroke="#444" stroke-width="0.8" />
<line x1="450.08" y1="89.91" x2="450.08" y2="88.61" stroke="#444" stroke-width="0.8" />
<line x1="458.84" y1="89.91" x2="458.84" y2="88.61" stroke="#444" stroke-width="0.8" />
<line x1="467.60" y1="90.40" x2="467.60" y2="88.40" stroke="#444" stroke-width="0.8" />
<line x1="476.36" y1="89.91" x2="476.36" y2="88.61" stroke="#444" stroke-width="0.8" />
<line x1="485.12" y1="89.91" x2="485.12" y2="88.61" stroke="#444" stroke-width="0.8" />
<line x1="493.88" y1="89.91" x2="493.88" y2="88.61" stroke="#444" stroke-width="0.8" />
<line x1="502.64" y1="89.91" x2="502.64" y2="88.61" stroke="#444" stroke-width="0.8" />
<line x1="511.40" y1="90.40" x2="511.40" y2="88.40" stroke="#444" stroke-width="0.8" />
<line x1="520.16" y1="89.91" x2="520.16" y2="88.61" stroke="#444" stroke-width="0.8" />
<line x1="528.92" y1="89.91" x2="528.92" y2="88.61" stroke="#444" stroke-width="0.8" />
<line x1="537.68" y1="89.91" x2="537.68" y2="88.61" stroke="#444" stroke-width="0.8" />
<line x1="546.44" y1="89.91" x2="546.44" y2="88.61" stroke="#444" stroke-width="0.8" />
<line x1="555.20" y1="90.40" x2="555.20" y2="88.40" stroke="#444" stroke-width="0.8" />
<line x1="563.96" y1="89.91" x2="563.96" y2="88.61" stroke="#444" stroke-width="0.8" />
<rect x="449.5" y="14.5" width="115.00" height="74.50" fill="none" stroke="#5a5a5a" stroke-width="0.9"/>
<line x1="448.10" y1="168.30" x2="450.10" y2="168.30" stroke="#444" stroke-width="0.8" />
<line x1="448.59" y1="161.54" x2="449.89" y2="161.54" stroke="#444" stroke-width="0.8" />
<line x1="448.59" y1="154.78" x2="449.89" y2="154.78" stroke="#444" stroke-width="0.8" />
<line x1="448.59" y1="148.02" x2="449.89" y2="148.02" stroke="#444" stroke-width="0.8" />
<line x1="448.59" y1="141.26" x2="449.89" y2="141.26" stroke="#444" stroke-width="0.8" />
<line x1="448.10" y1="134.50" x2="450.10" y2="134.50" stroke="#444" stroke-width="0.8" />
<line x1="448.59" y1="127.74" x2="449.89" y2="127.74" stroke="#444" stroke-width="0.8" />
<line x1="448.59" y1="120.98" x2="449.89" y2="120.98" stroke="#444" stroke-width="0.8" />
<line x1="448.59" y1="114.22" x2="449.89" y2="114.22" stroke="#444" stroke-width="0.8" />
<line x1="448.59" y1="107.46" x2="449.89" y2="107.46" stroke="#444" stroke-width="0.8" />
<line x1="448.10" y1="100.70" x2="450.10" y2="100.70" stroke="#444" stroke-width="0.8" />
<line x1="450.08" y1="169.41" x2="450.08" y2="168.11" stroke="#444" stroke-width="0.8" />
<line x1="458.84" y1="169.41" x2="458.84" y2="168.11" stroke="#444" stroke-width="0.8" />
<line x1="467.60" y1="169.90" x2="467.60" y2="167.90" stroke="#444" stroke-width="0.8" />
<line x1="476.36" y1="169.41" x2="476.36" y2="168.11" stroke="#444" stroke-width="0.8" />
<line x1="485.12" y1="169.41" x2="485.12" y2="168.11" stroke="#444" stroke-width="0.8" />
<line x1="493.88" y1="169.41" x2="493.88" y2="168.11" stroke="#444" stroke-width="0.8" />
<line x1="502.64" y1="169.41" x2="502.64" y2="168.11" stroke="#444" stroke-width="0.8" />
<line x1="511.40" y1="169.90" x2="511.40" y2="167.90" stroke="#444" stroke-width="0.8" />
<line x1="520.16" y1="169.41" x2="520.16" y2="168.11" stroke="#444" stroke-width="0.8" />
<line x1="528.92" y1="169.41" x2="528.92" y2="168.11" stroke="#444" stroke-width="0.8" />
<line x1="537.68" y1="169.41" x2="537.68" y2="168.11" stroke="#444" stroke-width="0.8" />
<line x1="546.44" y1="169.41" x2="546.44" y2="168.11" stroke="#444" stroke-width="0.8" />
<line x1="555.20" y1="169.90" x2="555.20" y2="167.90" stroke="#444" stroke-width="0.8" />
<line x1="563.96" y1="169.41" x2="563.96" y2="168.11" stroke="#444" stroke-width="0.8" />
<rect x="449.5" y="94.5" width="115.00" height="74.00" fill="none" stroke="#5a5a5a" stroke-width="0.9"/>
<line x1="448.59" y1="246.37" x2="449.89" y2="246.37" stroke="#444" stroke-width="0.8" />
<line x1="448.59" y1="244.57" x2="449.89" y2="244.57" stroke="#444" stroke-width="0.8" />
<line x1="448.59" y1="243.01" x2="449.89" y2="243.01" stroke="#444" stroke-width="0.8" />
<line x1="448.59" y1="241.63" x2="449.89" y2="241.63" stroke="#444" stroke-width="0.8" />
<line x1="448.10" y1="240.40" x2="450.10" y2="240.40" stroke="#444" stroke-width="0.8" />
<line x1="448.59" y1="232.30" x2="449.89" y2="232.30" stroke="#444" stroke-width="0.8" />
<line x1="448.59" y1="227.57" x2="449.89" y2="227.57" stroke="#444" stroke-width="0.8" />
<line x1="448.59" y1="224.20" x2="449.89" y2="224.20" stroke="#444" stroke-width="0.8" />
<line x1="448.59" y1="221.60" x2="449.89" y2="221.60" stroke="#444" stroke-width="0.8" />
<line x1="448.59" y1="219.47" x2="449.89" y2="219.47" stroke="#444" stroke-width="0.8" />
<line x1="448.59" y1="217.67" x2="449.89" y2="217.67" stroke="#444" stroke-width="0.8" />
<line x1="448.59" y1="216.11" x2="449.89" y2="216.11" stroke="#444" stroke-width="0.8" />
<line x1="448.59" y1="214.73" x2="449.89" y2="214.73" stroke="#444" stroke-width="0.8" />
<line x1="448.10" y1="213.50" x2="450.10" y2="213.50" stroke="#444" stroke-width="0.8" />
<line x1="448.59" y1="205.40" x2="449.89" y2="205.40" stroke="#444" stroke-width="0.8" />
<line x1="448.59" y1="200.67" x2="449.89" y2="200.67" stroke="#444" stroke-width="0.8" />
<line x1="448.59" y1="197.30" x2="449.89" y2="197.30" stroke="#444" stroke-width="0.8" />
<line x1="448.59" y1="194.70" x2="449.89" y2="194.70" stroke="#444" stroke-width="0.8" />
<line x1="448.59" y1="192.57" x2="449.89" y2="192.57" stroke="#444" stroke-width="0.8" />
<line x1="448.59" y1="190.77" x2="449.89" y2="190.77" stroke="#444" stroke-width="0.8" />
<line x1="448.59" y1="189.21" x2="449.89" y2="189.21" stroke="#444" stroke-width="0.8" />
<line x1="448.59" y1="187.83" x2="449.89" y2="187.83" stroke="#444" stroke-width="0.8" />
<line x1="448.10" y1="186.60" x2="450.10" y2="186.60" stroke="#444" stroke-width="0.8" />
<line x1="448.59" y1="178.50" x2="449.89" y2="178.50" stroke="#444" stroke-width="0.8" />
<line x1="450.08" y1="249.41" x2="450.08" y2="248.11" stroke="#444" stroke-width="0.8" />
<line x1="458.84" y1="249.41" x2="458.84" y2="248.11" stroke="#444" stroke-width="0.8" />
<line x1="467.60" y1="249.90" x2="467.60" y2="247.90" stroke="#444" stroke-width="0.8" />
<text transform="translate(467.60,257.10) scale(1,1.15)" font-size="7.9" text-anchor="middle" fill="#111" stroke="#111" stroke-width="0.14" >1.00</text>
<line x1="476.36" y1="249.41" x2="476.36" y2="248.11" stroke="#444" stroke-width="0.8" />
<line x1="485.12" y1="249.41" x2="485.12" y2="248.11" stroke="#444" stroke-width="0.8" />
<line x1="493.88" y1="249.41" x2="493.88" y2="248.11" stroke="#444" stroke-width="0.8" />
<line x1="502.64" y1="249.41" x2="502.64" y2="248.11" stroke="#444" stroke-width="0.8" />
<line x1="511.40" y1="249.90" x2="511.40" y2="247.90" stroke="#444" stroke-width="0.8" />
<text transform="translate(511.40,257.10) scale(1,1.15)" font-size="7.9" text-anchor="middle" fill="#111" stroke="#111" stroke-width="0.14" >1.05</text>
<line x1="520.16" y1="249.41" x2="520.16" y2="248.11" stroke="#444" stroke-width="0.8" />
<line x1="528.92" y1="249.41" x2="528.92" y2="248.11" stroke="#444" stroke-width="0.8" />
<line x1="537.68" y1="249.41" x2="537.68" y2="248.11" stroke="#444" stroke-width="0.8" />
<line x1="546.44" y1="249.41" x2="546.44" y2="248.11" stroke="#444" stroke-width="0.8" />
<line x1="555.20" y1="249.90" x2="555.20" y2="247.90" stroke="#444" stroke-width="0.8" />
<text transform="translate(555.20,257.10) scale(1,1.15)" font-size="7.9" text-anchor="middle" fill="#111" stroke="#111" stroke-width="0.14" >1.10</text>
<line x1="563.96" y1="249.41" x2="563.96" y2="248.11" stroke="#444" stroke-width="0.8" />
<rect x="449.5" y="174.0" width="115.00" height="74.50" fill="none" stroke="#5a5a5a" stroke-width="0.9"/>
<text x="439.80" y="21.10" font-size="8.0" text-anchor="end" fill="#111" stroke="#111" stroke-width="0.14" >(a)</text>
<text x="439.80" y="101.10" font-size="8.0" text-anchor="end" fill="#111" stroke="#111" stroke-width="0.14" >(c)</text>
<text x="439.80" y="180.60" font-size="8.0" text-anchor="end" fill="#111" stroke="#111" stroke-width="0.14" >(e)</text>
<text x="562.80" y="21.10" font-size="8.0" text-anchor="end" fill="#111" stroke="#111" stroke-width="0.14" >(b)</text>
<text x="562.80" y="101.10" font-size="8.0" text-anchor="end" fill="#111" stroke="#111" stroke-width="0.14" >(d)</text>
<text x="562.80" y="180.60" font-size="8.0" text-anchor="end" fill="#111" stroke="#111" stroke-width="0.14" >(f)</text>
<g clip-path="url(#cTa)">
<polygon points="326.50,28.20 328.00,28.45 330.09,28.77 332.56,29.17 335.19,29.61 337.74,30.10 340.00,30.60 342.02,31.14 344.00,31.73 345.91,32.35 347.72,33.00 349.43,33.65 351.00,34.30 352.41,34.93 353.67,35.55 354.82,36.17 355.90,36.83 356.95,37.53 358.00,38.30 359.03,39.13 360.01,40.01 360.95,40.94 361.88,41.92 362.82,42.94 363.80,44.00 364.81,45.12 365.83,46.29 366.86,47.51 367.90,48.76 368.95,50.02 370.00,51.30 371.08,52.61 372.19,52.97 373.30,54.35 374.39,55.72 375.44,57.05 376.40,58.30 377.28,59.49 378.09,60.65 378.85,61.77 379.58,62.84 380.29,63.85 381.00,64.80 381.70,65.69 382.38,66.54 383.04,67.33 383.69,68.06 384.34,68.72 385.00,69.30 385.67,69.82 386.33,70.28 387.00,70.67 387.67,70.99 388.33,71.20 389.00,71.30 389.67,71.28 390.35,71.14 391.03,70.90 391.70,70.59 392.36,70.21 393.00,69.80 393.61,69.33 394.20,68.77 394.78,68.15 395.35,67.50 395.92,66.84 396.50,66.20 397.08,65.56 397.65,64.91 398.22,65.25 398.80,64.59 399.39,63.94 400.00,63.30 400.66,62.66 401.37,62.01 402.09,61.37 402.80,60.76 403.44,60.20 404.00,59.70 404.47,59.26 404.89,58.87 405.25,58.52 405.56,58.23 405.81,57.99 406.00,57.80 406.00,62.20 405.81,62.39 405.56,62.63 405.25,62.92 404.89,63.27 404.47,63.66 404.00,64.10 403.44,64.60 402.80,65.16 402.09,65.77 401.37,66.41 400.66,67.06 400.00,67.70 399.39,68.34 398.80,68.99 398.22,69.65 397.65,72.81 397.08,73.46 396.50,74.10 395.92,74.74 395.35,75.40 394.78,76.05 394.20,76.67 393.61,77.23 393.00,77.70 392.36,78.11 391.70,78.49 391.03,78.80 390.35,79.04 389.67,79.18 389.00,79.20 388.33,79.10 387.67,78.89 387.00,78.58 386.33,78.18 385.67,77.72 385.00,77.20 384.34,76.62 383.69,75.96 383.04,75.23 382.38,74.44 381.70,73.59 381.00,72.70 380.29,71.75 379.58,70.74 378.85,69.67 378.09,68.55 377.28,67.39 376.40,66.20 375.44,64.95 374.39,63.62 373.30,62.25 372.19,60.87 371.08,57.01 370.00,55.70 368.95,54.42 367.90,53.16 366.86,51.91 365.83,50.69 364.81,49.52 363.80,48.40 362.82,47.34 361.88,46.32 360.95,45.34 360.01,44.41 359.03,43.53 358.00,42.70 356.95,41.93 355.90,41.23 354.82,40.57 353.67,39.95 352.41,39.33 351.00,38.70 349.43,38.05 347.72,37.40 345.91,36.75 344.00,36.13 342.02,35.54 340.00,35.00 337.74,34.50 335.19,34.01 332.56,33.57 330.09,33.17 328.00,32.85 326.50,32.60" fill="#d42a2a" fill-opacity="0.25" stroke="none"/>
<polygon points="326.50,28.60 328.00,28.82 330.09,29.11 332.56,29.47 335.19,29.86 337.74,30.28 340.00,30.70 341.95,31.13 343.78,31.57 345.53,32.04 347.28,32.54 349.08,33.06 351.00,33.60 353.10,34.17 355.33,34.78 357.62,35.41 359.89,36.06 362.04,36.72 364.00,37.40 365.73,38.11 367.30,38.86 368.75,39.62 370.15,40.39 371.55,41.12 373.00,41.80 374.51,42.41 376.04,42.97 377.56,43.49 379.07,44.02 380.56,44.58 382.00,45.20 383.39,45.88 384.73,46.60 386.04,47.36 387.34,48.13 388.66,48.91 390.00,49.70 391.38,50.49 392.77,51.30 394.18,52.13 395.59,52.95 397.00,53.78 398.40,54.60 399.79,55.42 401.18,56.23 402.56,57.04 403.94,57.86 405.32,58.68 406.70,59.50 407.98,60.27 409.14,60.98 410.29,61.69 411.56,62.47 413.06,63.38 414.90,64.50 417.29,65.95 420.19,67.71 423.32,69.60 426.40,71.46 429.15,73.12 431.30,74.40 432.81,75.29 433.91,75.90 434.68,76.32 435.21,76.60 435.62,76.80 436.00,77.00 436.00,80.60 435.62,80.40 435.21,80.20 434.68,79.92 433.91,79.50 432.81,78.89 431.30,78.00 429.15,76.72 426.40,75.06 423.32,73.20 420.19,71.31 417.29,69.55 414.90,68.10 413.06,66.98 411.56,66.07 410.29,65.29 409.14,64.58 407.98,63.87 406.70,63.10 405.32,62.28 403.94,61.46 402.56,60.64 401.18,59.83 399.79,59.02 398.40,58.20 397.00,57.38 395.59,56.55 394.18,55.73 392.77,54.90 391.38,54.09 390.00,53.30 388.66,52.51 387.34,51.73 386.04,50.96 384.73,50.20 383.39,49.48 382.00,48.80 380.56,48.18 379.07,47.62 377.56,47.09 376.04,46.57 374.51,46.01 373.00,45.40 371.55,44.72 370.15,43.99 368.75,43.22 367.30,42.46 365.73,41.71 364.00,41.00 362.04,40.32 359.89,39.66 357.62,39.01 355.33,38.38 353.10,37.77 351.00,37.20 349.08,36.66 347.28,36.14 345.53,35.64 343.78,35.17 341.95,34.73 340.00,34.30 337.74,33.88 335.19,33.46 332.56,33.07 330.09,32.71 328.00,32.42 326.50,32.20" fill="#6a42b4" fill-opacity="0.25" stroke="none"/>
<polygon points="326.50,28.90 328.00,29.16 330.09,29.51 332.56,29.94 335.19,30.42 337.74,30.94 340.00,31.50 342.05,32.10 344.07,32.77 346.03,33.48 347.87,34.22 349.54,34.96 351.00,35.70 352.14,36.43 352.99,37.16 353.66,37.89 354.30,38.64 355.04,39.41 356.00,40.20 357.20,41.02 358.55,41.86 359.99,42.72 361.47,43.59 362.96,44.45 364.40,45.30 365.80,46.12 367.20,46.91 368.60,47.70 370.00,48.51 371.40,49.37 372.80,50.30 374.20,51.34 375.60,52.47 377.00,53.64 378.40,54.82 379.80,55.96 381.20,57.00 382.60,57.97 384.00,58.92 385.40,59.82 386.80,60.66 388.20,61.42 389.60,62.10 391.00,62.66 392.41,63.12 393.83,63.50 395.23,63.84 396.62,64.16 398.00,64.50 399.35,64.85 400.66,65.18 401.97,65.49 403.28,65.80 404.62,66.10 406.00,66.40 407.34,66.66 408.62,66.86 409.93,67.06 411.34,67.30 412.97,67.63 414.90,68.10 417.35,68.78 420.28,69.64 423.42,70.59 426.50,71.54 429.21,72.37 431.30,73.00 432.69,73.40 433.61,73.66 434.18,73.81 434.51,73.89 434.74,73.94 435.00,74.00 435.00,77.00 434.74,76.94 434.51,76.89 434.18,76.81 433.61,76.66 432.69,76.40 431.30,76.00 429.21,75.37 426.50,74.54 423.42,73.59 420.28,72.64 417.35,71.78 414.90,71.10 412.97,70.63 411.34,70.30 409.93,70.06 408.62,69.86 407.34,69.66 406.00,69.40 404.62,69.10 403.28,68.80 401.97,68.49 400.66,68.18 399.35,67.85 398.00,67.50 396.62,67.16 395.23,66.84 393.83,66.50 392.41,66.12 391.00,65.66 389.60,65.10 388.20,64.42 386.80,63.66 385.40,62.82 384.00,61.92 382.60,60.97 381.20,60.00 379.80,58.96 378.40,57.82 377.00,56.64 375.60,55.47 374.20,54.34 372.80,53.30 371.40,52.37 370.00,51.51 368.60,50.70 367.20,49.91 365.80,49.12 364.40,48.30 362.96,47.45 361.47,46.59 359.99,45.72 358.55,44.86 357.20,44.02 356.00,43.20 355.04,42.41 354.30,41.64 353.66,40.89 352.99,40.16 352.14,39.43 351.00,38.70 349.54,37.96 347.87,37.22 346.03,36.48 344.07,35.77 342.05,35.10 340.00,34.50 337.74,33.94 335.19,33.42 332.56,32.94 330.09,32.51 328.00,32.16 326.50,31.90" fill="#3a7a52" fill-opacity="0.22" stroke="none"/>
<line x1="334.87" y1="26.11" x2="334.87" y2="28.61" stroke="#3a7a52" stroke-width="0.6" stroke-opacity="0.6"/>
<path d="M334.87,25.86L336.07,27.36L334.87,28.86L333.67,27.36Z" fill="#3a7a52" fill-opacity="1.0"/>
<path d="M335.11,27.64L336.31,29.14L335.11,30.64L333.91,29.14Z" fill="#3a7a52" fill-opacity="1.0"/>
<path d="M329.92,26.46L331.12,27.96L329.92,29.46L328.72,27.96Z" fill="#3a7a52" fill-opacity="1.0"/>
<path d="M341.17,33.50L342.37,35.00L341.17,36.50L339.97,35.00Z" fill="#3a7a52" fill-opacity="1.0"/>
<line x1="328.18" y1="29.81" x2="328.18" y2="34.11" stroke="#3a7a52" stroke-width="0.6" stroke-opacity="0.6"/>
<path d="M328.18,30.46L329.38,31.96L328.18,33.46L326.98,31.96Z" fill="#3a7a52" fill-opacity="1.0"/>
<path d="M327.27,34.70L328.47,36.20L327.27,37.70L326.07,36.20Z" fill="#3a7a52" fill-opacity="1.0"/>
<path d="M338.60,30.27L339.80,31.77L338.60,33.27L337.40,31.77Z" fill="#3a7a52" fill-opacity="1.0"/>
<path d="M326.78,28.19L327.98,29.69L326.78,31.19L325.58,29.69Z" fill="#3a7a52" fill-opacity="1.0"/>
<path d="M330.02,29.61L331.22,31.11L330.02,32.61L328.82,31.11Z" fill="#3a7a52" fill-opacity="1.0"/>
<line x1="335.08" y1="27.06" x2="335.08" y2="29.17" stroke="#3a7a52" stroke-width="0.6" stroke-opacity="0.6"/>
<path d="M335.08,26.62L336.28,28.12L335.08,29.62L333.88,28.12Z" fill="#3a7a52" fill-opacity="1.0"/>
<line x1="336.10" y1="29.24" x2="336.10" y2="31.97" stroke="#3a7a52" stroke-width="0.6" stroke-opacity="0.6"/>
<path d="M336.10,29.10L337.30,30.60L336.10,32.10L334.90,30.60Z" fill="#3a7a52" fill-opacity="1.0"/>
<path d="M338.76,29.55L339.96,31.05L338.76,32.55L337.56,31.05Z" fill="#3a7a52" fill-opacity="1.0"/>
<path d="M344.96,37.60L346.16,39.10L344.96,40.60L343.76,39.10Z" fill="#3a7a52" fill-opacity="1.0"/>
<line x1="339.59" y1="31.29" x2="339.59" y2="33.28" stroke="#3a7a52" stroke-width="0.6" stroke-opacity="0.6"/>
<path d="M339.59,30.79L340.79,32.29L339.59,33.79L338.39,32.29Z" fill="#3a7a52" fill-opacity="1.0"/>
<line x1="331.85" y1="33.73" x2="331.85" y2="35.91" stroke="#3a7a52" stroke-width="0.6" stroke-opacity="0.6"/>
<path d="M331.85,33.32L333.05,34.82L331.85,36.32L330.65,34.82Z" fill="#3a7a52" fill-opacity="1.0"/>
<line x1="333.91" y1="31.85" x2="333.91" y2="34.28" stroke="#3a7a52" stroke-width="0.6" stroke-opacity="0.6"/>
<path d="M333.91,31.57L335.11,33.07L333.91,34.57L332.71,33.07Z" fill="#3a7a52" fill-opacity="1.0"/>
<path d="M344.22,33.15L345.42,34.65L344.22,36.15L343.02,34.65Z" fill="#3a7a52" fill-opacity="1.0"/>
<line x1="330.38" y1="32.34" x2="330.38" y2="34.15" stroke="#3a7a52" stroke-width="0.6" stroke-opacity="0.6"/>
<path d="M330.38,31.74L331.58,33.24L330.38,34.74L329.18,33.24Z" fill="#3a7a52" fill-opacity="1.0"/>
<path d="M344.64,32.59L345.84,34.09L344.64,35.59L343.44,34.09Z" fill="#3a7a52" fill-opacity="1.0"/>
<line x1="338.14" y1="31.78" x2="338.14" y2="34.12" stroke="#3a7a52" stroke-width="0.6" stroke-opacity="0.6"/>
<path d="M338.14,31.45L339.34,32.95L338.14,34.45L336.94,32.95Z" fill="#3a7a52" fill-opacity="1.0"/>
<line x1="328.11" y1="24.54" x2="328.11" y2="31.26" stroke="#3a7a52" stroke-width="0.6" stroke-opacity="0.6"/>
<path d="M328.11,26.40L329.31,27.90L328.11,29.40L326.91,27.90Z" fill="#3a7a52" fill-opacity="1.0"/>
<path d="M340.52,32.92L341.72,34.42L340.52,35.92L339.32,34.42Z" fill="#3a7a52" fill-opacity="1.0"/>
<line x1="328.37" y1="33.43" x2="328.37" y2="35.40" stroke="#3a7a52" stroke-width="0.6" stroke-opacity="0.6"/>
<path d="M328.37,32.91L329.57,34.41L328.37,35.91L327.17,34.41Z" fill="#3a7a52" fill-opacity="1.0"/>
<path d="M329.79,27.30L330.99,28.80L329.79,30.30L328.59,28.80Z" fill="#3a7a52" fill-opacity="1.0"/>
<path d="M330.03,29.45L331.23,30.95L330.03,32.45L328.83,30.95Z" fill="#3a7a52" fill-opacity="1.0"/>
<line x1="338.41" y1="33.36" x2="338.41" y2="35.45" stroke="#3a7a52" stroke-width="0.6" stroke-opacity="0.6"/>
<path d="M338.41,32.90L339.61,34.40L338.41,35.90L337.21,34.40Z" fill="#3a7a52" fill-opacity="1.0"/>
<line x1="330.44" y1="26.47" x2="330.44" y2="34.39" stroke="#3a7a52" stroke-width="0.6" stroke-opacity="0.6"/>
<path d="M330.44,28.93L331.64,30.43L330.44,31.93L329.24,30.43Z" fill="#3a7a52" fill-opacity="1.0"/>
<line x1="341.36" y1="29.05" x2="341.36" y2="34.93" stroke="#3a7a52" stroke-width="0.6" stroke-opacity="0.6"/>
<path d="M341.36,30.49L342.56,31.99L341.36,33.49L340.16,31.99Z" fill="#3a7a52" fill-opacity="1.0"/>
<line x1="330.40" y1="25.94" x2="330.40" y2="29.57" stroke="#3a7a52" stroke-width="0.6" stroke-opacity="0.6"/>
<path d="M330.40,26.25L331.60,27.75L330.40,29.25L329.20,27.75Z" fill="#3a7a52" fill-opacity="1.0"/>
<line x1="338.37" y1="35.38" x2="338.37" y2="40.70" stroke="#3a7a52" stroke-width="0.6" stroke-opacity="0.6"/>
<path d="M338.37,36.54L339.57,38.04L338.37,39.54L337.17,38.04Z" fill="#3a7a52" fill-opacity="1.0"/>
<line x1="348.24" y1="30.17" x2="348.24" y2="34.30" stroke="#3a7a52" stroke-width="0.6" stroke-opacity="0.6"/>
<path d="M348.24,30.63L349.52,32.23L348.24,33.83L346.96,32.23Z" fill="#3a7a52" fill-opacity="1.0"/>
<path d="M353.79,34.33L355.07,35.93L353.79,37.53L352.51,35.93Z" fill="#3a7a52" fill-opacity="1.0"/>
<path d="M342.33,26.14L343.61,27.74L342.33,29.34L341.05,27.74Z" fill="#3a7a52" fill-opacity="1.0"/>
<line x1="366.86" y1="43.22" x2="366.86" y2="45.12" stroke="#3a7a52" stroke-width="0.6" stroke-opacity="0.6"/>
<path d="M366.86,42.57L368.14,44.17L366.86,45.77L365.58,44.17Z" fill="#3a7a52" fill-opacity="1.0"/>
<path d="M384.04,50.62L385.32,52.22L384.04,53.82L382.76,52.22Z" fill="#3a7a52" fill-opacity="1.0"/>
<path d="M379.59,49.93L380.87,51.53L379.59,53.13L378.31,51.53Z" fill="#3a7a52" fill-opacity="1.0"/>
<line x1="381.60" y1="51.79" x2="381.60" y2="53.44" stroke="#3a7a52" stroke-width="0.6" stroke-opacity="0.6"/>
<path d="M381.60,51.02L382.88,52.62L381.60,54.22L380.32,52.62Z" fill="#3a7a52" fill-opacity="1.0"/>
<line x1="347.11" y1="28.57" x2="347.11" y2="34.26" stroke="#3a7a52" stroke-width="0.6" stroke-opacity="0.6"/>
<path d="M347.11,29.82L348.39,31.42L347.11,33.02L345.83,31.42Z" fill="#3a7a52" fill-opacity="1.0"/>
<path d="M347.44,32.16L348.72,33.76L347.44,35.36L346.16,33.76Z" fill="#3a7a52" fill-opacity="1.0"/>
<path d="M366.97,42.97L368.25,44.57L366.97,46.17L365.69,44.57Z" fill="#3a7a52" fill-opacity="1.0"/>
<path d="M339.86,25.86L341.14,27.46L339.86,29.06L338.58,27.46Z" fill="#3a7a52" fill-opacity="1.0"/>
<line x1="371.82" y1="45.09" x2="371.82" y2="49.56" stroke="#3a7a52" stroke-width="0.6" stroke-opacity="0.6"/>
<path d="M371.82,45.73L373.10,47.33L371.82,48.93L370.54,47.33Z" fill="#3a7a52" fill-opacity="1.0"/>
<path d="M366.63,43.05L367.91,44.65L366.63,46.25L365.35,44.65Z" fill="#3a7a52" fill-opacity="1.0"/>
<path d="M372.58,46.84L373.86,48.44L372.58,50.04L371.30,48.44Z" fill="#3a7a52" fill-opacity="1.0"/>
<line x1="364.85" y1="43.21" x2="364.85" y2="45.86" stroke="#3a7a52" stroke-width="0.6" stroke-opacity="0.6"/>
<path d="M364.85,42.93L366.13,44.53L364.85,46.13L363.57,44.53Z" fill="#3a7a52" fill-opacity="1.0"/>
<path d="M351.45,33.45L352.73,35.05L351.45,36.65L350.17,35.05Z" fill="#3a7a52" fill-opacity="1.0"/>
<line x1="338.80" y1="24.61" x2="338.80" y2="27.19" stroke="#3a7a52" stroke-width="0.6" stroke-opacity="0.6"/>
<path d="M338.80,24.30L340.08,25.90L338.80,27.50L337.52,25.90Z" fill="#3a7a52" fill-opacity="1.0"/>
<line x1="340.90" y1="26.83" x2="340.90" y2="28.89" stroke="#3a7a52" stroke-width="0.6" stroke-opacity="0.6"/>
<path d="M340.90,26.26L342.18,27.86L340.90,29.46L339.62,27.86Z" fill="#3a7a52" fill-opacity="1.0"/>
<line x1="365.46" y1="43.93" x2="365.46" y2="45.61" stroke="#3a7a52" stroke-width="0.6" stroke-opacity="0.6"/>
<path d="M365.46,43.17L366.74,44.77L365.46,46.37L364.18,44.77Z" fill="#3a7a52" fill-opacity="1.0"/>
<path d="M380.77,51.73L382.05,53.33L380.77,54.93L379.49,53.33Z" fill="#3a7a52" fill-opacity="1.0"/>
<path d="M371.18,45.01L372.46,46.61L371.18,48.21L369.90,46.61Z" fill="#3a7a52" fill-opacity="1.0"/>
<path d="M339.68,27.20L340.96,28.80L339.68,30.40L338.40,28.80Z" fill="#3a7a52" fill-opacity="1.0"/>
<path d="M371.65,45.92L372.93,47.52L371.65,49.12L370.37,47.52Z" fill="#3a7a52" fill-opacity="1.0"/>
<path d="M368.54,42.56L369.82,44.16L368.54,45.76L367.26,44.16Z" fill="#3a7a52" fill-opacity="1.0"/>
<path d="M353.31,34.51L354.59,36.11L353.31,37.71L352.03,36.11Z" fill="#3a7a52" fill-opacity="1.0"/>
<line x1="364.21" y1="40.52" x2="364.21" y2="45.66" stroke="#3a7a52" stroke-width="0.6" stroke-opacity="0.6"/>
<path d="M364.21,41.49L365.49,43.09L364.21,44.69L362.93,43.09Z" fill="#3a7a52" fill-opacity="1.0"/>
<line x1="373.38" y1="45.64" x2="373.38" y2="49.72" stroke="#3a7a52" stroke-width="0.6" stroke-opacity="0.6"/>
<path d="M373.38,46.08L374.66,47.68L373.38,49.28L372.10,47.68Z" fill="#3a7a52" fill-opacity="1.0"/>
<line x1="381.92" y1="50.09" x2="381.92" y2="53.02" stroke="#3a7a52" stroke-width="0.6" stroke-opacity="0.6"/>
<path d="M381.92,49.95L383.20,51.55L381.92,53.15L380.64,51.55Z" fill="#3a7a52" fill-opacity="1.0"/>
<line x1="381.24" y1="51.93" x2="381.24" y2="53.74" stroke="#3a7a52" stroke-width="0.6" stroke-opacity="0.6"/>
<path d="M381.24,51.24L382.52,52.84L381.24,54.44L379.96,52.84Z" fill="#3a7a52" fill-opacity="1.0"/>
<line x1="375.95" y1="49.14" x2="375.95" y2="51.51" stroke="#3a7a52" stroke-width="0.6" stroke-opacity="0.6"/>
<path d="M375.95,48.73L377.23,50.33L375.95,51.93L374.67,50.33Z" fill="#3a7a52" fill-opacity="1.0"/>
<line x1="368.00" y1="43.45" x2="368.00" y2="45.59" stroke="#3a7a52" stroke-width="0.6" stroke-opacity="0.6"/>
<path d="M368.00,42.92L369.28,44.52L368.00,46.12L366.72,44.52Z" fill="#3a7a52" fill-opacity="1.0"/>
<line x1="367.23" y1="45.54" x2="367.23" y2="47.19" stroke="#3a7a52" stroke-width="0.6" stroke-opacity="0.6"/>
<path d="M367.23,44.76L368.51,46.36L367.23,47.96L365.95,46.36Z" fill="#3a7a52" fill-opacity="1.0"/>
<line x1="385.68" y1="54.19" x2="385.68" y2="56.84" stroke="#3a7a52" stroke-width="0.6" stroke-opacity="0.6"/>
<path d="M385.68,53.91L386.96,55.51L385.68,57.11L384.40,55.51Z" fill="#3a7a52" fill-opacity="1.0"/>
<line x1="356.64" y1="36.32" x2="356.64" y2="39.48" stroke="#3a7a52" stroke-width="0.6" stroke-opacity="0.6"/>
<path d="M356.64,36.30L357.92,37.90L356.64,39.50L355.36,37.90Z" fill="#3a7a52" fill-opacity="1.0"/>
<path d="M359.15,38.37L360.43,39.97L359.15,41.57L357.87,39.97Z" fill="#3a7a52" fill-opacity="1.0"/>
<path d="M374.01,48.24L375.29,49.84L374.01,51.44L372.73,49.84Z" fill="#3a7a52" fill-opacity="1.0"/>
<line x1="361.09" y1="39.45" x2="361.09" y2="43.13" stroke="#3a7a52" stroke-width="0.6" stroke-opacity="0.6"/>
<path d="M361.09,39.69L362.37,41.29L361.09,42.89L359.81,41.29Z" fill="#3a7a52" fill-opacity="1.0"/>
<line x1="361.87" y1="38.17" x2="361.87" y2="41.73" stroke="#3a7a52" stroke-width="0.6" stroke-opacity="0.6"/>
<path d="M361.87,38.35L363.15,39.95L361.87,41.55L360.59,39.95Z" fill="#3a7a52" fill-opacity="1.0"/>
<path d="M350.28,32.93L351.56,34.53L350.28,36.13L349.00,34.53Z" fill="#3a7a52" fill-opacity="1.0"/>
<path d="M370.55,45.35L371.83,46.95L370.55,48.55L369.27,46.95Z" fill="#3a7a52" fill-opacity="1.0"/>
<line x1="433.02" y1="71.12" x2="433.02" y2="74.76" stroke="#3a7a52" stroke-width="0.6" stroke-opacity="0.6"/>
<path d="M433.02,71.44L434.22,72.94L433.02,74.44L431.82,72.94Z" fill="#3a7a52" fill-opacity="1.0"/>
<line x1="431.99" y1="69.65" x2="431.99" y2="74.90" stroke="#3a7a52" stroke-width="0.6" stroke-opacity="0.6"/>
<path d="M431.99,70.78L433.19,72.28L431.99,73.78L430.79,72.28Z" fill="#3a7a52" fill-opacity="1.0"/>
<line x1="380.69" y1="50.82" x2="380.69" y2="53.87" stroke="#3a7a52" stroke-width="0.6" stroke-opacity="0.6"/>
<path d="M380.69,50.84L381.89,52.34L380.69,53.84L379.49,52.34Z" fill="#3a7a52" fill-opacity="1.0"/>
<line x1="433.65" y1="76.31" x2="433.65" y2="79.00" stroke="#3a7a52" stroke-width="0.6" stroke-opacity="0.6"/>
<path d="M433.65,76.15L434.85,77.65L433.65,79.15L432.45,77.65Z" fill="#3a7a52" fill-opacity="1.0"/>
<line x1="409.15" y1="66.74" x2="409.15" y2="68.72" stroke="#3a7a52" stroke-width="0.6" stroke-opacity="0.6"/>
<path d="M409.15,66.23L410.35,67.73L409.15,69.23L407.95,67.73Z" fill="#3a7a52" fill-opacity="1.0"/>
<line x1="402.74" y1="67.35" x2="402.74" y2="73.98" stroke="#3a7a52" stroke-width="0.6" stroke-opacity="0.6"/>
<path d="M402.74,69.16L403.94,70.66L402.74,72.16L401.54,70.66Z" fill="#3a7a52" fill-opacity="1.0"/>
<path d="M418.63,71.89L419.83,73.39L418.63,74.89L417.43,73.39Z" fill="#3a7a52" fill-opacity="1.0"/>
<path d="M378.52,52.18L379.72,53.68L378.52,55.18L377.32,53.68Z" fill="#3a7a52" fill-opacity="1.0"/>
<line x1="381.84" y1="53.24" x2="381.84" y2="56.12" stroke="#3a7a52" stroke-width="0.6" stroke-opacity="0.6"/>
<path d="M381.84,53.18L383.04,54.68L381.84,56.18L380.64,54.68Z" fill="#3a7a52" fill-opacity="1.0"/>
<line x1="402.55" y1="60.90" x2="402.55" y2="67.91" stroke="#3a7a52" stroke-width="0.6" stroke-opacity="0.6"/>
<path d="M402.55,62.91L403.75,64.41L402.55,65.91L401.35,64.41Z" fill="#3a7a52" fill-opacity="1.0"/>
<path d="M438.67,72.68L439.87,74.18L438.67,75.68L437.47,74.18Z" fill="#3a7a52" fill-opacity="1.0"/>
<path d="M368.33,48.35L369.53,49.85L368.33,51.35L367.13,49.85Z" fill="#3a7a52" fill-opacity="1.0"/>
<path d="M418.44,66.44L419.64,67.94L418.44,69.44L417.24,67.94Z" fill="#3a7a52" fill-opacity="1.0"/>
<path d="M424.57,72.87L425.77,74.37L424.57,75.87L423.37,74.37Z" fill="#3a7a52" fill-opacity="1.0"/>
<path d="M399.66,71.40L400.86,72.90L399.66,74.40L398.46,72.90Z" fill="#3a7a52" fill-opacity="1.0"/>
<path d="M383.57,59.13L384.77,60.63L383.57,62.13L382.37,60.63Z" fill="#3a7a52" fill-opacity="1.0"/>
<line x1="412.56" y1="63.56" x2="412.56" y2="65.42" stroke="#3a7a52" stroke-width="0.6" stroke-opacity="0.6"/>
<path d="M412.56,62.99L413.76,64.49L412.56,65.99L411.36,64.49Z" fill="#3a7a52" fill-opacity="1.0"/>
<line x1="414.47" y1="67.91" x2="414.47" y2="77.35" stroke="#3a7a52" stroke-width="0.6" stroke-opacity="0.6"/>
<path d="M414.47,71.13L415.67,72.63L414.47,74.13L413.27,72.63Z" fill="#3a7a52" fill-opacity="1.0"/>
<line x1="416.65" y1="69.21" x2="416.65" y2="73.52" stroke="#3a7a52" stroke-width="0.6" stroke-opacity="0.6"/>
<path d="M416.65,69.87L417.85,71.37L416.65,72.87L415.45,71.37Z" fill="#3a7a52" fill-opacity="1.0"/>
<path d="M379.22,59.37L380.42,60.87L379.22,62.37L378.02,60.87Z" fill="#3a7a52" fill-opacity="1.0"/>
<line x1="418.85" y1="70.54" x2="418.85" y2="73.42" stroke="#3a7a52" stroke-width="0.6" stroke-opacity="0.6"/>
<path d="M418.85,70.48L420.05,71.98L418.85,73.48L417.65,71.98Z" fill="#3a7a52" fill-opacity="1.0"/>
<line x1="391.58" y1="60.49" x2="391.58" y2="65.08" stroke="#3a7a52" stroke-width="0.6" stroke-opacity="0.6"/>
<path d="M391.58,61.29L392.78,62.79L391.58,64.29L390.38,62.79Z" fill="#3a7a52" fill-opacity="1.0"/>
<line x1="411.47" y1="67.08" x2="411.47" y2="71.08" stroke="#3a7a52" stroke-width="0.6" stroke-opacity="0.6"/>
<path d="M411.47,67.58L412.67,69.08L411.47,70.58L410.27,69.08Z" fill="#3a7a52" fill-opacity="1.0"/>
<path d="M424.60,72.24L425.80,73.74L424.60,75.24L423.40,73.74Z" fill="#3a7a52" fill-opacity="1.0"/>
<line x1="435.01" y1="74.14" x2="435.01" y2="76.22" stroke="#3a7a52" stroke-width="0.6" stroke-opacity="0.6"/>
<path d="M435.01,73.68L436.21,75.18L435.01,76.68L433.81,75.18Z" fill="#3a7a52" fill-opacity="1.0"/>
<line x1="399.56" y1="57.84" x2="399.56" y2="64.07" stroke="#3a7a52" stroke-width="0.6" stroke-opacity="0.6"/>
<path d="M399.56,59.46L400.76,60.96L399.56,62.46L398.36,60.96Z" fill="#3a7a52" fill-opacity="1.0"/>
<line x1="393.88" y1="56.56" x2="393.88" y2="60.01" stroke="#3a7a52" stroke-width="0.6" stroke-opacity="0.6"/>
<path d="M393.88,56.79L395.08,58.29L393.88,59.79L392.68,58.29Z" fill="#3a7a52" fill-opacity="1.0"/>
<path d="M424.96,74.78L426.16,76.28L424.96,77.78L423.76,76.28Z" fill="#3a7a52" fill-opacity="1.0"/>
<line x1="414.20" y1="67.96" x2="414.20" y2="74.10" stroke="#3a7a52" stroke-width="0.6" stroke-opacity="0.6"/>
<path d="M414.20,69.53L415.40,71.03L414.20,72.53L413.00,71.03Z" fill="#3a7a52" fill-opacity="1.0"/>
<line x1="426.56" y1="67.11" x2="426.56" y2="72.05" stroke="#3a7a52" stroke-width="0.6" stroke-opacity="0.6"/>
<path d="M426.56,68.08L427.76,69.58L426.56,71.08L425.36,69.58Z" fill="#3a7a52" fill-opacity="1.0"/>
<line x1="381.78" y1="63.50" x2="381.78" y2="70.10" stroke="#3a7a52" stroke-width="0.6" stroke-opacity="0.6"/>
<path d="M381.78,65.30L382.98,66.80L381.78,68.30L380.58,66.80Z" fill="#3a7a52" fill-opacity="1.0"/>
<line x1="438.32" y1="68.66" x2="438.32" y2="70.29" stroke="#3a7a52" stroke-width="0.6" stroke-opacity="0.6"/>
<path d="M438.32,67.98L439.52,69.48L438.32,70.98L437.12,69.48Z" fill="#3a7a52" fill-opacity="1.0"/>
<line x1="389.71" y1="67.34" x2="389.71" y2="71.56" stroke="#3a7a52" stroke-width="0.6" stroke-opacity="0.6"/>
<path d="M389.71,67.95L390.91,69.45L389.71,70.95L388.51,69.45Z" fill="#3a7a52" fill-opacity="1.0"/>
<line x1="391.79" y1="66.43" x2="391.79" y2="68.57" stroke="#3a7a52" stroke-width="0.6" stroke-opacity="0.6"/>
<path d="M391.79,66.00L392.99,67.50L391.79,69.00L390.59,67.50Z" fill="#3a7a52" fill-opacity="1.0"/>
<line x1="344.94" y1="31.83" x2="344.94" y2="36.43" stroke="#6a42b4" stroke-width="0.6" stroke-opacity="0.6"/>
<path d="M344.94,32.53L346.22,34.13L344.94,35.73L343.66,34.13Z" fill="#6a42b4" fill-opacity="1.0"/>
<path d="M327.45,29.28L328.73,30.88L327.45,32.48L326.17,30.88Z" fill="#6a42b4" fill-opacity="1.0"/>
<line x1="353.30" y1="35.52" x2="353.30" y2="38.72" stroke="#6a42b4" stroke-width="0.6" stroke-opacity="0.6"/>
<path d="M353.30,35.52L354.58,37.12L353.30,38.72L352.02,37.12Z" fill="#6a42b4" fill-opacity="1.0"/>
<line x1="352.89" y1="35.98" x2="352.89" y2="37.73" stroke="#6a42b4" stroke-width="0.6" stroke-opacity="0.6"/>
<path d="M352.89,35.25L354.17,36.85L352.89,38.45L351.61,36.85Z" fill="#6a42b4" fill-opacity="1.0"/>
<line x1="343.80" y1="28.94" x2="343.80" y2="36.49" stroke="#6a42b4" stroke-width="0.6" stroke-opacity="0.6"/>
<path d="M343.80,31.11L345.08,32.71L343.80,34.31L342.52,32.71Z" fill="#6a42b4" fill-opacity="1.0"/>
<path d="M349.59,36.17L350.87,37.77L349.59,39.37L348.31,37.77Z" fill="#6a42b4" fill-opacity="1.0"/>
<path d="M358.30,37.45L359.58,39.05L358.30,40.65L357.02,39.05Z" fill="#6a42b4" fill-opacity="1.0"/>
<line x1="344.14" y1="29.45" x2="344.14" y2="35.71" stroke="#6a42b4" stroke-width="0.6" stroke-opacity="0.6"/>
<path d="M344.14,30.98L345.42,32.58L344.14,34.18L342.86,32.58Z" fill="#6a42b4" fill-opacity="1.0"/>
<path d="M347.90,28.22L349.18,29.82L347.90,31.42L346.62,29.82Z" fill="#6a42b4" fill-opacity="1.0"/>
<line x1="345.26" y1="31.15" x2="345.26" y2="34.77" stroke="#6a42b4" stroke-width="0.6" stroke-opacity="0.6"/>
<path d="M345.26,31.36L346.54,32.96L345.26,34.56L343.98,32.96Z" fill="#6a42b4" fill-opacity="1.0"/>
<path d="M354.82,36.30L356.10,37.90L354.82,39.50L353.54,37.90Z" fill="#6a42b4" fill-opacity="1.0"/>
<path d="M355.00,37.96L356.28,39.56L355.00,41.16L353.72,39.56Z" fill="#6a42b4" fill-opacity="1.0"/>
<line x1="345.70" y1="32.58" x2="345.70" y2="37.30" stroke="#6a42b4" stroke-width="0.6" stroke-opacity="0.6"/>
<path d="M345.70,33.34L346.98,34.94L345.70,36.54L344.42,34.94Z" fill="#6a42b4" fill-opacity="1.0"/>
<path d="M343.36,31.32L344.64,32.92L343.36,34.52L342.08,32.92Z" fill="#6a42b4" fill-opacity="1.0"/>
<path d="M358.98,33.61L360.26,35.21L358.98,36.81L357.70,35.21Z" fill="#6a42b4" fill-opacity="1.0"/>
<line x1="353.34" y1="32.51" x2="353.34" y2="34.30" stroke="#6a42b4" stroke-width="0.6" stroke-opacity="0.6"/>
<path d="M353.34,31.80L354.62,33.40L353.34,35.00L352.06,33.40Z" fill="#6a42b4" fill-opacity="1.0"/>
<line x1="349.65" y1="36.89" x2="349.65" y2="38.89" stroke="#6a42b4" stroke-width="0.6" stroke-opacity="0.6"/>
<path d="M349.65,36.29L350.93,37.89L349.65,39.49L348.37,37.89Z" fill="#6a42b4" fill-opacity="1.0"/>
<line x1="340.36" y1="36.84" x2="340.36" y2="39.27" stroke="#6a42b4" stroke-width="0.6" stroke-opacity="0.6"/>
<path d="M340.36,36.46L341.64,38.06L340.36,39.66L339.08,38.06Z" fill="#6a42b4" fill-opacity="1.0"/>
<path d="M335.52,28.92L336.80,30.52L335.52,32.12L334.24,30.52Z" fill="#6a42b4" fill-opacity="1.0"/>
<line x1="341.03" y1="30.99" x2="341.03" y2="38.86" stroke="#6a42b4" stroke-width="0.6" stroke-opacity="0.6"/>
<path d="M341.03,33.33L342.31,34.93L341.03,36.53L339.75,34.93Z" fill="#6a42b4" fill-opacity="1.0"/>
<line x1="342.46" y1="31.29" x2="342.46" y2="33.67" stroke="#6a42b4" stroke-width="0.6" stroke-opacity="0.6"/>
<path d="M342.46,30.88L343.74,32.48L342.46,34.08L341.18,32.48Z" fill="#6a42b4" fill-opacity="1.0"/>
<path d="M347.20,33.97L348.48,35.57L347.20,37.17L345.92,35.57Z" fill="#6a42b4" fill-opacity="1.0"/>
<path d="M352.61,35.90L353.89,37.50L352.61,39.10L351.33,37.50Z" fill="#6a42b4" fill-opacity="1.0"/>
<line x1="334.11" y1="29.11" x2="334.11" y2="32.36" stroke="#6a42b4" stroke-width="0.6" stroke-opacity="0.6"/>
<path d="M334.11,29.13L335.39,30.73L334.11,32.33L332.83,30.73Z" fill="#6a42b4" fill-opacity="1.0"/>
<path d="M338.40,29.79L339.68,31.39L338.40,32.99L337.12,31.39Z" fill="#6a42b4" fill-opacity="1.0"/>
<line x1="350.98" y1="35.87" x2="350.98" y2="39.20" stroke="#6a42b4" stroke-width="0.6" stroke-opacity="0.6"/>
<path d="M350.98,35.94L352.26,37.54L350.98,39.14L349.70,37.54Z" fill="#6a42b4" fill-opacity="1.0"/>
<line x1="334.89" y1="30.37" x2="334.89" y2="35.02" stroke="#6a42b4" stroke-width="0.6" stroke-opacity="0.6"/>
<path d="M334.89,31.10L336.17,32.70L334.89,34.30L333.61,32.70Z" fill="#6a42b4" fill-opacity="1.0"/>
<line x1="341.13" y1="29.51" x2="341.13" y2="32.42" stroke="#6a42b4" stroke-width="0.6" stroke-opacity="0.6"/>
<path d="M341.13,29.36L342.41,30.96L341.13,32.56L339.85,30.96Z" fill="#6a42b4" fill-opacity="1.0"/>
<line x1="344.23" y1="33.38" x2="344.23" y2="35.66" stroke="#6a42b4" stroke-width="0.6" stroke-opacity="0.6"/>
<path d="M344.23,32.92L345.51,34.52L344.23,36.12L342.95,34.52Z" fill="#6a42b4" fill-opacity="1.0"/>
<line x1="347.65" y1="30.66" x2="347.65" y2="34.41" stroke="#6a42b4" stroke-width="0.6" stroke-opacity="0.6"/>
<path d="M347.65,30.94L348.93,32.54L347.65,34.14L346.37,32.54Z" fill="#6a42b4" fill-opacity="1.0"/>
<line x1="355.02" y1="30.26" x2="355.02" y2="35.36" stroke="#6a42b4" stroke-width="0.6" stroke-opacity="0.6"/>
<path d="M355.02,31.21L356.30,32.81L355.02,34.41L353.74,32.81Z" fill="#6a42b4" fill-opacity="1.0"/>
<line x1="334.29" y1="27.71" x2="334.29" y2="34.99" stroke="#6a42b4" stroke-width="0.6" stroke-opacity="0.6"/>
<path d="M334.29,29.75L335.57,31.35L334.29,32.95L333.01,31.35Z" fill="#6a42b4" fill-opacity="1.0"/>
<line x1="356.74" y1="34.61" x2="356.74" y2="37.80" stroke="#6a42b4" stroke-width="0.6" stroke-opacity="0.6"/>
<path d="M356.74,34.60L358.02,36.20L356.74,37.80L355.46,36.20Z" fill="#6a42b4" fill-opacity="1.0"/>
<line x1="357.41" y1="32.04" x2="357.41" y2="46.07" stroke="#6a42b4" stroke-width="0.6" stroke-opacity="0.6"/>
<path d="M357.41,37.45L358.69,39.05L357.41,40.65L356.13,39.05Z" fill="#6a42b4" fill-opacity="1.0"/>
<line x1="356.23" y1="37.06" x2="356.23" y2="39.26" stroke="#6a42b4" stroke-width="0.6" stroke-opacity="0.6"/>
<path d="M356.23,36.56L357.51,38.16L356.23,39.76L354.95,38.16Z" fill="#6a42b4" fill-opacity="1.0"/>
<line x1="350.84" y1="34.39" x2="350.84" y2="36.19" stroke="#6a42b4" stroke-width="0.6" stroke-opacity="0.6"/>
<path d="M350.84,33.69L352.12,35.29L350.84,36.89L349.56,35.29Z" fill="#6a42b4" fill-opacity="1.0"/>
<line x1="354.38" y1="30.83" x2="354.38" y2="34.17" stroke="#6a42b4" stroke-width="0.6" stroke-opacity="0.6"/>
<path d="M354.38,30.90L355.66,32.50L354.38,34.10L353.10,32.50Z" fill="#6a42b4" fill-opacity="1.0"/>
<line x1="330.72" y1="26.20" x2="330.72" y2="29.69" stroke="#6a42b4" stroke-width="0.6" stroke-opacity="0.6"/>
<path d="M330.72,26.34L332.00,27.94L330.72,29.54L329.44,27.94Z" fill="#6a42b4" fill-opacity="1.0"/>
<line x1="327.09" y1="28.76" x2="327.09" y2="34.53" stroke="#6a42b4" stroke-width="0.6" stroke-opacity="0.6"/>
<path d="M327.09,30.04L328.37,31.64L327.09,33.24L325.81,31.64Z" fill="#6a42b4" fill-opacity="1.0"/>
<path d="M357.03,36.78L358.31,38.38L357.03,39.98L355.75,38.38Z" fill="#6a42b4" fill-opacity="1.0"/>
<line x1="400.45" y1="55.43" x2="400.45" y2="60.16" stroke="#6a42b4" stroke-width="0.6" stroke-opacity="0.6"/>
<path d="M400.45,56.19L401.73,57.79L400.45,59.39L399.17,57.79Z" fill="#6a42b4" fill-opacity="1.0"/>
<path d="M414.85,65.10L416.13,66.70L414.85,68.30L413.57,66.70Z" fill="#6a42b4" fill-opacity="1.0"/>
<path d="M368.49,43.49L369.77,45.09L368.49,46.69L367.21,45.09Z" fill="#6a42b4" fill-opacity="1.0"/>
<path d="M401.19,54.91L402.47,56.51L401.19,58.11L399.91,56.51Z" fill="#6a42b4" fill-opacity="1.0"/>
<line x1="374.76" y1="42.24" x2="374.76" y2="49.58" stroke="#6a42b4" stroke-width="0.6" stroke-opacity="0.6"/>
<path d="M374.76,44.31L376.04,45.91L374.76,47.51L373.48,45.91Z" fill="#6a42b4" fill-opacity="1.0"/>
<path d="M439.22,78.40L440.50,80.00L439.22,81.60L437.94,80.00Z" fill="#6a42b4" fill-opacity="1.0"/>
<path d="M364.96,41.25L366.24,42.85L364.96,44.45L363.68,42.85Z" fill="#6a42b4" fill-opacity="1.0"/>
<line x1="421.18" y1="66.54" x2="421.18" y2="70.51" stroke="#6a42b4" stroke-width="0.6" stroke-opacity="0.6"/>
<path d="M421.18,66.93L422.46,68.53L421.18,70.13L419.90,68.53Z" fill="#6a42b4" fill-opacity="1.0"/>
<line x1="401.22" y1="53.23" x2="401.22" y2="55.54" stroke="#6a42b4" stroke-width="0.6" stroke-opacity="0.6"/>
<path d="M401.22,52.79L402.50,54.39L401.22,55.99L399.94,54.39Z" fill="#6a42b4" fill-opacity="1.0"/>
<line x1="361.06" y1="32.91" x2="361.06" y2="40.26" stroke="#6a42b4" stroke-width="0.6" stroke-opacity="0.6"/>
<path d="M361.06,34.99L362.34,36.59L361.06,38.19L359.78,36.59Z" fill="#6a42b4" fill-opacity="1.0"/>
<line x1="374.50" y1="38.52" x2="374.50" y2="40.39" stroke="#6a42b4" stroke-width="0.6" stroke-opacity="0.6"/>
<path d="M374.50,37.85L375.78,39.45L374.50,41.05L373.22,39.45Z" fill="#6a42b4" fill-opacity="1.0"/>
<line x1="392.42" y1="52.39" x2="392.42" y2="54.65" stroke="#6a42b4" stroke-width="0.6" stroke-opacity="0.6"/>
<path d="M392.42,51.92L393.70,53.52L392.42,55.12L391.14,53.52Z" fill="#6a42b4" fill-opacity="1.0"/>
<path d="M401.00,62.65L402.28,64.25L401.00,65.85L399.72,64.25Z" fill="#6a42b4" fill-opacity="1.0"/>
<line x1="424.14" y1="66.39" x2="424.14" y2="74.01" stroke="#6a42b4" stroke-width="0.6" stroke-opacity="0.6"/>
<path d="M424.14,68.60L425.42,70.20L424.14,71.80L422.86,70.20Z" fill="#6a42b4" fill-opacity="1.0"/>
<line x1="410.35" y1="58.65" x2="410.35" y2="61.70" stroke="#6a42b4" stroke-width="0.6" stroke-opacity="0.6"/>
<path d="M410.35,58.58L411.63,60.18L410.35,61.78L409.07,60.18Z" fill="#6a42b4" fill-opacity="1.0"/>
<path d="M400.34,61.34L401.62,62.94L400.34,64.54L399.06,62.94Z" fill="#6a42b4" fill-opacity="1.0"/>
<line x1="380.66" y1="48.95" x2="380.66" y2="52.45" stroke="#6a42b4" stroke-width="0.6" stroke-opacity="0.6"/>
<path d="M380.66,49.10L381.94,50.70L380.66,52.30L379.38,50.70Z" fill="#6a42b4" fill-opacity="1.0"/>
<line x1="422.24" y1="70.07" x2="422.24" y2="73.81" stroke="#6a42b4" stroke-width="0.6" stroke-opacity="0.6"/>
<path d="M422.24,70.34L423.52,71.94L422.24,73.54L420.96,71.94Z" fill="#6a42b4" fill-opacity="1.0"/>
<line x1="431.72" y1="77.69" x2="431.72" y2="81.91" stroke="#6a42b4" stroke-width="0.6" stroke-opacity="0.6"/>
<path d="M431.72,78.20L433.00,79.80L431.72,81.40L430.44,79.80Z" fill="#6a42b4" fill-opacity="1.0"/>
<line x1="421.38" y1="68.47" x2="421.38" y2="72.54" stroke="#6a42b4" stroke-width="0.6" stroke-opacity="0.6"/>
<path d="M421.38,68.91L422.66,70.51L421.38,72.11L420.10,70.51Z" fill="#6a42b4" fill-opacity="1.0"/>
<path d="M417.81,68.94L419.09,70.54L417.81,72.14L416.53,70.54Z" fill="#6a42b4" fill-opacity="1.0"/>
<path d="M397.51,57.09L398.79,58.69L397.51,60.29L396.23,58.69Z" fill="#6a42b4" fill-opacity="1.0"/>
<line x1="411.10" y1="61.41" x2="411.10" y2="63.45" stroke="#6a42b4" stroke-width="0.6" stroke-opacity="0.6"/>
<path d="M411.10,60.83L412.38,62.43L411.10,64.03L409.82,62.43Z" fill="#6a42b4" fill-opacity="1.0"/>
<line x1="435.57" y1="75.62" x2="435.57" y2="78.76" stroke="#6a42b4" stroke-width="0.6" stroke-opacity="0.6"/>
<path d="M435.57,75.59L436.85,77.19L435.57,78.79L434.29,77.19Z" fill="#6a42b4" fill-opacity="1.0"/>
<line x1="412.78" y1="60.61" x2="412.78" y2="62.70" stroke="#6a42b4" stroke-width="0.6" stroke-opacity="0.6"/>
<path d="M412.78,60.05L414.06,61.65L412.78,63.25L411.50,61.65Z" fill="#6a42b4" fill-opacity="1.0"/>
<path d="M391.17,54.88L392.45,56.48L391.17,58.08L389.89,56.48Z" fill="#6a42b4" fill-opacity="1.0"/>
<line x1="416.10" y1="62.06" x2="416.10" y2="73.23" stroke="#6a42b4" stroke-width="0.6" stroke-opacity="0.6"/>
<path d="M416.10,66.04L417.38,67.64L416.10,69.24L414.82,67.64Z" fill="#6a42b4" fill-opacity="1.0"/>
<line x1="361.83" y1="32.71" x2="361.83" y2="37.06" stroke="#6a42b4" stroke-width="0.6" stroke-opacity="0.6"/>
<path d="M361.83,33.29L363.11,34.89L361.83,36.49L360.55,34.89Z" fill="#6a42b4" fill-opacity="1.0"/>
<path d="M380.53,44.06L381.81,45.66L380.53,47.26L379.25,45.66Z" fill="#6a42b4" fill-opacity="1.0"/>
<path d="M375.64,42.03L376.92,43.63L375.64,45.23L374.36,43.63Z" fill="#6a42b4" fill-opacity="1.0"/>
<line x1="346.19" y1="36.44" x2="346.19" y2="38.56" stroke="#d42a2a" stroke-width="0.6" stroke-opacity="0.6"/>
<path d="M344.59,37.50H347.79M346.19,35.90V39.10" stroke="#d42a2a" stroke-width="0.9"/>
<path d="M364.76,52.39H367.96M366.36,50.79V53.99" stroke="#d42a2a" stroke-width="0.9"/>
<line x1="404.62" y1="56.29" x2="404.62" y2="60.45" stroke="#d42a2a" stroke-width="0.6" stroke-opacity="0.6"/>
<path d="M403.02,58.37H406.22M404.62,56.77V59.97" stroke="#d42a2a" stroke-width="0.9"/>
<line x1="332.48" y1="26.56" x2="332.48" y2="29.47" stroke="#d42a2a" stroke-width="0.6" stroke-opacity="0.6"/>
<path d="M330.88,28.01H334.08M332.48,26.41V29.61" stroke="#d42a2a" stroke-width="0.9"/>
<path d="M328.44,32.37H331.64M330.04,30.77V33.97" stroke="#d42a2a" stroke-width="0.9"/>
<line x1="363.53" y1="45.83" x2="363.53" y2="48.89" stroke="#d42a2a" stroke-width="0.6" stroke-opacity="0.6"/>
<path d="M361.93,47.36H365.13M363.53,45.76V48.96" stroke="#d42a2a" stroke-width="0.9"/>
<line x1="374.48" y1="63.42" x2="374.48" y2="66.02" stroke="#d42a2a" stroke-width="0.6" stroke-opacity="0.6"/>
<path d="M372.88,64.72H376.08M374.48,63.12V66.32" stroke="#d42a2a" stroke-width="0.9"/>
<path d="M357.93,38.67H361.13M359.53,37.07V40.27" stroke="#d42a2a" stroke-width="0.9"/>
<line x1="355.20" y1="35.95" x2="355.20" y2="40.22" stroke="#d42a2a" stroke-width="0.6" stroke-opacity="0.6"/>
<path d="M353.60,38.09H356.80M355.20,36.49V39.69" stroke="#d42a2a" stroke-width="0.9"/>
<line x1="370.51" y1="50.98" x2="370.51" y2="55.64" stroke="#d42a2a" stroke-width="0.6" stroke-opacity="0.6"/>
<path d="M368.91,53.31H372.11M370.51,51.71V54.91" stroke="#d42a2a" stroke-width="0.9"/>
<path d="M348.14,37.94H351.34M349.74,36.34V39.54" stroke="#d42a2a" stroke-width="0.9"/>
<line x1="329.86" y1="31.22" x2="329.86" y2="35.41" stroke="#d42a2a" stroke-width="0.6" stroke-opacity="0.6"/>
<path d="M328.26,33.32H331.46M329.86,31.72V34.92" stroke="#d42a2a" stroke-width="0.9"/>
<line x1="357.11" y1="41.82" x2="357.11" y2="44.81" stroke="#d42a2a" stroke-width="0.6" stroke-opacity="0.6"/>
<path d="M355.51,43.31H358.71M357.11,41.71V44.91" stroke="#d42a2a" stroke-width="0.9"/>
<path d="M328.84,37.10H332.04M330.44,35.50V38.70" stroke="#d42a2a" stroke-width="0.9"/>
<line x1="332.27" y1="32.73" x2="332.27" y2="34.51" stroke="#d42a2a" stroke-width="0.6" stroke-opacity="0.6"/>
<path d="M330.67,33.62H333.87M332.27,32.02V35.22" stroke="#d42a2a" stroke-width="0.9"/>
<path d="M362.39,48.27H365.59M363.99,46.67V49.87" stroke="#d42a2a" stroke-width="0.9"/>
<line x1="367.58" y1="53.43" x2="367.58" y2="55.27" stroke="#d42a2a" stroke-width="0.6" stroke-opacity="0.6"/>
<path d="M365.98,54.35H369.18M367.58,52.75V55.95" stroke="#d42a2a" stroke-width="0.9"/>
<path d="M361.67,50.24H364.87M363.27,48.64V51.84" stroke="#d42a2a" stroke-width="0.9"/>
<line x1="373.88" y1="59.59" x2="373.88" y2="62.37" stroke="#d42a2a" stroke-width="0.6" stroke-opacity="0.6"/>
<path d="M372.28,60.98H375.48M373.88,59.38V62.58" stroke="#d42a2a" stroke-width="0.9"/>
<path d="M360.67,44.93H363.87M362.27,43.33V46.53" stroke="#d42a2a" stroke-width="0.9"/>
<line x1="367.96" y1="51.87" x2="367.96" y2="54.16" stroke="#d42a2a" stroke-width="0.6" stroke-opacity="0.6"/>
<path d="M366.36,53.01H369.56M367.96,51.41V54.61" stroke="#d42a2a" stroke-width="0.9"/>
<path d="M377.33,63.20H380.53M378.93,61.60V64.80" stroke="#d42a2a" stroke-width="0.9"/>
<line x1="337.40" y1="31.10" x2="337.40" y2="41.10" stroke="#6a42b4" stroke-width="0.7" stroke-opacity="0.6"/>
<path d="M337.40,34.40L338.76,36.10L337.40,37.80L336.04,36.10Z" fill="#6a42b4" fill-opacity="1.0"/>
<line x1="343.40" y1="33.50" x2="343.40" y2="45.50" stroke="#6a42b4" stroke-width="0.7" stroke-opacity="0.6"/>
<path d="M343.40,37.80L344.76,39.50L343.40,41.20L342.04,39.50Z" fill="#6a42b4" fill-opacity="1.0"/>
<line x1="350.20" y1="43.50" x2="350.20" y2="47.50" stroke="#6a42b4" stroke-width="0.7" stroke-opacity="0.6"/>
<path d="M350.20,43.80L351.56,45.50L350.20,47.20L348.84,45.50Z" fill="#6a42b4" fill-opacity="1.0"/>
<line x1="356.20" y1="44.20" x2="356.20" y2="48.20" stroke="#6a42b4" stroke-width="0.7" stroke-opacity="0.6"/>
<path d="M356.20,44.50L357.56,46.20L356.20,47.90L354.84,46.20Z" fill="#6a42b4" fill-opacity="1.0"/>
<line x1="362.20" y1="48.20" x2="362.20" y2="52.20" stroke="#6a42b4" stroke-width="0.7" stroke-opacity="0.6"/>
<path d="M362.20,48.50L363.56,50.20L362.20,51.90L360.84,50.20Z" fill="#6a42b4" fill-opacity="1.0"/>
<line x1="374.50" y1="52.20" x2="374.50" y2="58.20" stroke="#6a42b4" stroke-width="0.7" stroke-opacity="0.6"/>
<path d="M374.50,53.50L375.86,55.20L374.50,56.90L373.14,55.20Z" fill="#6a42b4" fill-opacity="1.0"/>
<line x1="419.00" y1="54.60" x2="419.00" y2="56.60" stroke="#6a42b4" stroke-width="0.7" stroke-opacity="0.6"/>
<path d="M419.00,53.90L420.36,55.60L419.00,57.30L417.64,55.60Z" fill="#6a42b4" fill-opacity="1.0"/>
<line x1="423.00" y1="65.60" x2="423.00" y2="68.60" stroke="#6a42b4" stroke-width="0.7" stroke-opacity="0.6"/>
<path d="M423.00,65.40L424.36,67.10L423.00,68.80L421.64,67.10Z" fill="#6a42b4" fill-opacity="1.0"/>
<line x1="426.40" y1="80.00" x2="426.40" y2="84.00" stroke="#6a42b4" stroke-width="0.7" stroke-opacity="0.6"/>
<path d="M426.40,80.30L427.76,82.00L426.40,83.70L425.04,82.00Z" fill="#6a42b4" fill-opacity="1.0"/>
<line x1="420.60" y1="84.20" x2="420.60" y2="87.20" stroke="#6a42b4" stroke-width="0.7" stroke-opacity="0.6"/>
<path d="M420.60,84.00L421.96,85.70L420.60,87.40L419.24,85.70Z" fill="#6a42b4" fill-opacity="1.0"/>
<line x1="429.70" y1="87.00" x2="429.70" y2="89.00" stroke="#6a42b4" stroke-width="0.7" stroke-opacity="0.6"/>
<path d="M429.70,86.30L431.06,88.00L429.70,89.70L428.34,88.00Z" fill="#6a42b4" fill-opacity="1.0"/>
<line x1="383.70" y1="42.40" x2="383.70" y2="44.40" stroke="#6a42b4" stroke-width="0.7" stroke-opacity="0.6"/>
<path d="M383.70,41.70L385.06,43.40L383.70,45.10L382.34,43.40Z" fill="#6a42b4" fill-opacity="1.0"/>
<line x1="368.60" y1="34.00" x2="368.60" y2="36.00" stroke="#6a42b4" stroke-width="0.7" stroke-opacity="0.6"/>
<path d="M368.60,33.30L369.96,35.00L368.60,36.70L367.24,35.00Z" fill="#6a42b4" fill-opacity="1.0"/>
<line x1="401.70" y1="79.10" x2="401.70" y2="83.10" stroke="#3a7a52" stroke-width="0.7" stroke-opacity="0.6"/>
<path d="M401.70,79.50L402.98,81.10L401.70,82.70L400.42,81.10Z" fill="#3a7a52" fill-opacity="1.0"/>
<line x1="410.80" y1="81.60" x2="410.80" y2="85.60" stroke="#3a7a52" stroke-width="0.7" stroke-opacity="0.6"/>
<path d="M410.80,82.00L412.08,83.60L410.80,85.20L409.52,83.60Z" fill="#3a7a52" fill-opacity="1.0"/>
<line x1="439.60" y1="73.40" x2="439.60" y2="77.40" stroke="#3a7a52" stroke-width="0.7" stroke-opacity="0.6"/>
<path d="M439.60,73.80L440.88,75.40L439.60,77.00L438.32,75.40Z" fill="#3a7a52" fill-opacity="1.0"/>
<line x1="434.30" y1="80.00" x2="434.30" y2="84.00" stroke="#3a7a52" stroke-width="0.7" stroke-opacity="0.6"/>
<path d="M434.30,80.40L435.58,82.00L434.30,83.60L433.02,82.00Z" fill="#3a7a52" fill-opacity="1.0"/>
<line x1="396.00" y1="55.00" x2="396.00" y2="59.00" stroke="#3a7a52" stroke-width="0.7" stroke-opacity="0.6"/>
<path d="M396.00,55.40L397.28,57.00L396.00,58.60L394.72,57.00Z" fill="#3a7a52" fill-opacity="1.0"/>
<path d="M332.00,32.60L333.20,34.10L332.00,35.60L330.80,34.10Z" fill="#d42a2a" fill-opacity="1.0"/>
<path d="M338.00,33.30L339.20,34.80L338.00,36.30L336.80,34.80Z" fill="#d42a2a" fill-opacity="1.0"/>
<path d="M342.00,33.30L343.20,34.80L342.00,36.30L340.80,34.80Z" fill="#d42a2a" fill-opacity="1.0"/>
<path d="M332.50,24.70H336.10M334.30,22.90V26.50" stroke="#d42a2a" stroke-width="1.0"/>
<path d="M351.70,31.40H355.30M353.50,29.60V33.20" stroke="#d42a2a" stroke-width="1.0"/>
<path d="M363.40,37.60H367.00M365.20,35.80V39.40" stroke="#d42a2a" stroke-width="1.0"/>
<path d="M370.20,40.00H373.80M372.00,38.20V41.80" stroke="#d42a2a" stroke-width="1.0"/>
<path d="M392.00,56.80H395.60M393.80,55.00V58.60" stroke="#d42a2a" stroke-width="1.0"/>
<path d="M381.90,78.70H385.50M383.70,76.90V80.50" stroke="#d42a2a" stroke-width="1.0"/>
<path d="M382.70,79.50H386.30M384.50,77.70V81.30" stroke="#d42a2a" stroke-width="1.0"/>
<path d="M391.70,58.10H395.30M393.50,56.30V59.90" stroke="#d42a2a" stroke-width="1.0"/>
<line x1="334.30" y1="24.70" x2="334.30" y2="31.00" stroke="#d42a2a" stroke-width="0.7" stroke-opacity="0.8"/>
<line x1="353.50" y1="28.40" x2="353.50" y2="34.40" stroke="#d42a2a" stroke-width="0.7" stroke-opacity="0.8"/>
<polyline points="326.50,30.40 328.00,30.62 330.09,30.91 332.56,31.27 335.19,31.66 337.74,32.08 340.00,32.50 341.95,32.93 343.78,33.37 345.53,33.84 347.28,34.34 349.08,34.86 351.00,35.40 353.10,35.97 355.33,36.58 357.62,37.21 359.89,37.86 362.04,38.52 364.00,39.20 365.73,39.91 367.30,40.66 368.75,41.42 370.15,42.19 371.55,42.92 373.00,43.60 374.51,44.21 376.04,44.77 377.56,45.29 379.07,45.82 380.56,46.38 382.00,47.00 383.39,47.68 384.73,48.40 386.04,49.16 387.34,49.93 388.66,50.71 390.00,51.50 391.38,52.29 392.77,53.10 394.18,53.93 395.59,54.75 397.00,55.58 398.40,56.40 399.79,57.22 401.18,58.03 402.56,58.84 403.94,59.66 405.32,60.48 406.70,61.30 407.98,62.07 409.14,62.78 410.29,63.49 411.56,64.27 413.06,65.18 414.90,66.30 417.29,67.75 420.19,69.51 423.32,71.40 426.40,73.26 429.15,74.92 431.30,76.20 432.81,77.09 433.91,77.70 434.68,78.12 435.21,78.40 435.62,78.60 436.00,78.80" fill="none" stroke="#6a42b4" stroke-width="1.3" stroke-linejoin="round" stroke-linecap="round" />
<polyline points="326.50,30.40 328.00,30.66 330.09,31.01 332.56,31.44 335.19,31.92 337.74,32.44 340.00,33.00 342.05,33.60 344.07,34.27 346.03,34.98 347.87,35.72 349.54,36.46 351.00,37.20 352.14,37.93 352.99,38.66 353.66,39.39 354.30,40.14 355.04,40.91 356.00,41.70 357.20,42.52 358.55,43.36 359.99,44.22 361.47,45.09 362.96,45.95 364.40,46.80 365.80,47.62 367.20,48.41 368.60,49.20 370.00,50.01 371.40,50.87 372.80,51.80 374.20,52.84 375.60,53.97 377.00,55.14 378.40,56.32 379.80,57.46 381.20,58.50 382.60,59.47 384.00,60.42 385.40,61.32 386.80,62.16 388.20,62.92 389.60,63.60 391.00,64.16 392.41,64.62 393.83,65.00 395.23,65.34 396.62,65.66 398.00,66.00 399.35,66.35 400.66,66.68 401.97,66.99 403.28,67.30 404.62,67.60 406.00,67.90 407.34,68.16 408.62,68.36 409.93,68.56 411.34,68.80 412.97,69.13 414.90,69.60 417.35,70.28 420.28,71.14 423.42,72.09 426.50,73.04 429.21,73.87 431.30,74.50 432.69,74.90 433.61,75.16 434.18,75.31 434.51,75.39 434.74,75.44 435.00,75.50" fill="none" stroke="#3a7a52" stroke-width="1.3" stroke-linejoin="round" stroke-linecap="round" />
<polyline points="326.50,30.40 328.00,30.65 330.09,30.97 332.56,31.37 335.19,31.81 337.74,32.30 340.00,32.80 342.02,33.34 344.00,33.93 345.91,34.55 347.72,35.20 349.43,35.85 351.00,36.50 352.41,37.13 353.67,37.75 354.82,38.37 355.90,39.03 356.95,39.73 358.00,40.50 359.03,41.33 360.01,42.21 360.95,43.14 361.88,44.12 362.82,45.14 363.80,46.20 364.81,47.32 365.83,48.49 366.86,49.71 367.90,50.96 368.95,52.22 370.00,53.50 371.08,54.81 372.19,56.17 373.30,57.55 374.39,58.92 375.44,60.25 376.40,61.50 377.28,62.69 378.09,63.85 378.85,64.97 379.58,66.04 380.29,67.05 381.00,68.00 381.70,68.89 382.38,69.74 383.04,70.53 383.69,71.26 384.34,71.92 385.00,72.50 385.67,73.02 386.33,73.48 387.00,73.88 387.67,74.19 388.33,74.40 389.00,74.50 389.67,74.48 390.35,74.34 391.03,74.10 391.70,73.79 392.36,73.41 393.00,73.00 393.61,72.53 394.20,71.97 394.78,71.35 395.35,70.70 395.92,70.04 396.50,69.40 397.08,68.76 397.65,68.11 398.22,67.45 398.80,66.79 399.39,66.14 400.00,65.50 400.66,64.86 401.37,64.21 402.09,63.57 402.80,62.96 403.44,62.40 404.00,61.90 404.47,61.46 404.89,61.07 405.25,60.72 405.56,60.43 405.81,60.19 406.00,60.00" fill="none" stroke="#d42a2a" stroke-width="1.3" stroke-linejoin="round" stroke-linecap="round" />
</g>
<g clip-path="url(#cTb)">
<polygon points="449.40,24.20 450.56,24.83 452.17,25.70 454.07,26.72 456.12,27.84 458.15,28.95 460.00,30.00 461.73,31.01 463.47,32.04 465.19,33.08 466.87,34.10 468.48,35.08 470.00,36.00 471.41,36.83 472.72,37.60 473.96,38.32 475.17,39.03 476.37,39.75 477.60,40.50 478.84,41.27 480.07,42.04 481.29,42.83 482.52,43.62 483.75,44.44 485.00,45.30 486.27,46.21 487.56,47.16 488.85,48.14 490.14,49.13 491.43,50.09 492.70,51.00 493.95,51.87 495.18,52.70 496.40,53.52 497.62,54.32 498.85,55.11 500.10,55.90 501.37,56.69 502.66,57.49 503.95,58.27 505.24,59.04 506.53,59.79 507.80,60.50 509.05,61.17 510.28,61.80 511.50,62.40 512.72,62.99 513.95,63.59 515.20,64.20 516.47,64.84 517.76,65.49 519.05,66.14 520.34,66.79 521.63,67.41 522.90,68.00 524.07,68.54 525.12,69.03 526.16,69.50 527.30,69.97 528.65,70.46 530.30,71.00 532.44,71.61 535.02,72.27 537.80,72.95 540.55,73.62 543.03,74.25 545.00,74.80 546.42,75.23 547.46,75.56 548.23,75.84 548.84,76.13 549.39,76.50 550.00,77.00 550.62,77.65 551.17,78.40 551.66,79.22 552.12,80.09 552.56,80.96 553.00,81.80 553.46,82.66 553.91,83.57 554.35,84.49 554.76,85.37 555.11,86.16 555.40,86.80 555.61,87.29 555.76,87.67 555.85,87.96 555.91,88.18 555.96,88.35 556.00,88.50 556.00,91.50 555.96,91.35 555.91,91.18 555.85,90.96 555.76,90.67 555.61,90.29 555.40,89.80 555.11,89.16 554.76,88.37 554.35,87.49 553.91,86.57 553.46,85.66 553.00,84.80 552.56,83.96 552.12,83.09 551.66,82.22 551.17,81.40 550.62,80.65 550.00,80.00 549.39,79.50 548.84,79.13 548.23,78.84 547.46,78.56 546.42,78.23 545.00,77.80 543.03,77.25 540.55,76.62 537.80,75.95 535.02,75.27 532.44,74.61 530.30,74.00 528.65,73.46 527.30,72.97 526.16,72.50 525.12,72.03 524.07,71.54 522.90,71.00 521.63,70.41 520.34,69.79 519.05,69.14 517.76,68.49 516.47,67.84 515.20,67.20 513.95,66.59 512.72,65.99 511.50,65.40 510.28,64.80 509.05,64.17 507.80,63.50 506.53,62.79 505.24,62.04 503.95,61.27 502.66,60.49 501.37,59.69 500.10,58.90 498.85,58.11 497.62,57.32 496.40,56.52 495.18,55.70 493.95,54.87 492.70,54.00 491.43,53.09 490.14,52.13 488.85,51.14 487.56,50.16 486.27,49.21 485.00,48.30 483.75,47.44 482.52,46.62 481.29,45.83 480.07,45.04 478.84,44.27 477.60,43.50 476.37,42.75 475.17,42.03 473.96,41.32 472.72,40.60 471.41,39.83 470.00,39.00 468.48,38.08 466.87,37.10 465.19,36.08 463.47,35.04 461.73,34.01 460.00,33.00 458.15,31.95 456.12,30.84 454.07,29.72 452.17,28.70 450.56,27.83 449.40,27.20" fill="#6a42b4" fill-opacity="0.22" stroke="none"/>
<polygon points="449.40,24.20 451.24,25.00 453.82,26.12 456.86,27.44 460.07,28.86 463.14,30.25 465.80,31.50 468.08,32.66 470.24,33.84 472.26,34.99 474.16,36.09 475.94,37.10 477.60,38.00 479.00,38.72 480.11,39.27 481.09,39.73 482.13,40.20 483.37,40.76 485.00,41.50 487.07,42.42 489.46,43.47 492.07,44.60 494.78,45.80 497.49,47.04 500.10,48.30 502.62,49.60 505.13,50.96 507.65,52.36 510.17,53.78 512.68,55.20 515.20,56.60 517.78,58.03 520.42,59.50 523.07,60.98 525.64,62.41 528.08,63.73 530.30,64.90 532.30,65.88 534.15,66.71 535.85,67.44 537.43,68.11 538.91,68.78 540.30,69.50 541.59,70.23 542.77,70.93 543.84,71.63 544.83,72.36 545.74,73.14 546.60,74.00 547.39,74.98 548.11,76.07 548.76,77.22 549.34,78.37 549.85,79.48 550.30,80.50 550.67,81.44 550.94,82.35 551.16,83.22 551.32,84.04 551.46,84.80 551.60,85.50 551.72,86.15 551.81,86.76 551.88,87.31 551.93,87.80 551.97,88.20 552.00,88.50 552.00,91.50 551.97,91.20 551.93,90.80 551.88,90.31 551.81,89.76 551.72,89.15 551.60,88.50 551.46,87.80 551.32,87.04 551.16,86.22 550.94,85.35 550.67,84.44 550.30,83.50 549.85,82.48 549.34,81.37 548.76,80.22 548.11,79.07 547.39,77.98 546.60,77.00 545.74,76.14 544.83,75.36 543.84,74.63 542.77,73.93 541.59,73.23 540.30,72.50 538.91,71.78 537.43,71.11 535.85,70.44 534.15,69.71 532.30,68.88 530.30,67.90 528.08,66.73 525.64,65.41 523.07,63.98 520.42,62.50 517.78,61.03 515.20,59.60 512.68,58.20 510.17,56.78 507.65,55.36 505.13,53.96 502.62,52.60 500.10,51.30 497.49,50.04 494.78,48.80 492.07,47.60 489.46,46.47 487.07,45.42 485.00,44.50 483.37,43.76 482.13,43.20 481.09,42.73 480.11,42.27 479.00,41.72 477.60,41.00 475.94,40.10 474.16,39.09 472.26,37.99 470.24,36.84 468.08,35.66 465.80,34.50 463.14,33.25 460.07,31.86 456.86,30.44 453.82,29.12 451.24,28.00 449.40,27.20" fill="#d42a2a" fill-opacity="0.22" stroke="none"/>
<polygon points="449.40,24.20 451.21,24.69 453.73,25.37 456.71,26.18 459.89,27.02 463.00,27.82 465.80,28.50 468.30,29.08 470.73,29.63 473.09,30.13 475.41,30.59 477.71,30.98 480.00,31.30 482.28,31.52 484.53,31.63 486.75,31.69 488.96,31.72 491.18,31.78 493.40,31.90 495.69,32.08 498.06,32.29 500.43,32.51 502.73,32.76 504.87,33.02 506.80,33.30 508.49,33.58 510.01,33.88 511.39,34.19 512.64,34.52 513.80,34.89 514.90,35.30 515.89,35.75 516.73,36.23 517.47,36.74 518.19,37.29 518.91,37.88 519.70,38.50 520.55,39.17 521.43,39.90 522.32,40.67 523.21,41.45 524.11,42.23 525.00,43.00 525.87,43.73 526.71,44.43 527.56,45.12 528.43,45.85 529.34,46.63 530.30,47.50 531.32,48.46 532.38,49.49 533.48,50.58 534.62,51.71 535.79,52.85 537.00,54.00 538.30,55.15 539.72,56.31 541.17,57.49 542.58,58.69 543.88,59.93 545.00,61.20 545.91,62.52 546.67,63.88 547.31,65.27 547.89,66.68 548.44,68.09 549.00,69.50 549.56,70.92 550.09,72.36 550.59,73.80 551.07,75.23 551.54,76.64 552.00,78.00 552.46,79.36 552.93,80.74 553.38,82.09 553.80,83.37 554.18,84.52 554.50,85.50 554.77,86.30 554.98,86.94 555.16,87.47 555.30,87.89 555.41,88.23 555.50,88.50 555.50,91.50 555.41,91.23 555.30,90.89 555.16,90.47 554.98,89.94 554.77,89.30 554.50,88.50 554.18,87.52 553.80,86.37 553.38,85.09 552.93,83.74 552.46,82.36 552.00,81.00 551.54,79.64 551.07,78.23 550.59,76.80 550.09,75.36 549.56,73.92 549.00,72.50 548.44,71.09 547.89,69.68 547.31,68.27 546.67,66.88 545.91,65.52 545.00,64.20 543.88,62.93 542.58,61.69 541.17,60.49 539.72,59.31 538.30,58.15 537.00,57.00 535.79,55.85 534.62,54.71 533.48,53.58 532.38,52.49 531.32,51.46 530.30,50.50 529.34,49.63 528.43,48.85 527.56,48.12 526.71,47.43 525.87,46.73 525.00,46.00 524.11,45.23 523.21,44.45 522.32,43.67 521.43,42.90 520.55,42.17 519.70,41.50 518.91,40.88 518.19,40.29 517.47,39.74 516.73,39.23 515.89,38.75 514.90,38.30 513.80,37.89 512.64,37.52 511.39,37.19 510.01,36.88 508.49,36.58 506.80,36.30 504.87,36.02 502.73,35.76 500.43,35.51 498.06,35.29 495.69,35.08 493.40,34.90 491.18,34.78 488.96,34.72 486.75,34.69 484.53,34.63 482.28,34.52 480.00,34.30 477.71,33.98 475.41,33.59 473.09,33.13 470.73,32.63 468.30,32.08 465.80,31.50 463.00,30.82 459.89,30.02 456.71,29.18 453.73,28.37 451.21,27.69 449.40,27.20" fill="#3a7a52" fill-opacity="0.22" stroke="none"/>
<polyline points="449.40,25.70 451.24,26.50 453.82,27.62 456.86,28.94 460.07,30.36 463.14,31.75 465.80,33.00 468.08,34.16 470.24,35.34 472.26,36.49 474.16,37.59 475.94,38.60 477.60,39.50 479.00,40.22 480.11,40.77 481.09,41.23 482.13,41.70 483.37,42.26 485.00,43.00 487.07,43.92 489.46,44.97 492.07,46.10 494.78,47.30 497.49,48.54 500.10,49.80 502.62,51.10 505.13,52.46 507.65,53.86 510.17,55.28 512.68,56.70 515.20,58.10 517.78,59.53 520.42,61.00 523.07,62.48 525.64,63.91 528.08,65.23 530.30,66.40 532.30,67.38 534.15,68.21 535.85,68.94 537.43,69.61 538.91,70.28 540.30,71.00 541.59,71.73 542.77,72.43 543.84,73.13 544.83,73.86 545.74,74.64 546.60,75.50 547.39,76.48 548.11,77.57 548.76,78.72 549.34,79.87 549.85,80.98 550.30,82.00 550.67,82.94 550.94,83.85 551.16,84.72 551.32,85.54 551.46,86.30 551.60,87.00 551.72,87.65 551.81,88.26 551.88,88.81 551.93,89.30 551.97,89.70 552.00,90.00" fill="none" stroke="#d42a2a" stroke-width="1.3" stroke-linejoin="round" stroke-linecap="round" />
<line x1="478.86" y1="35.56" x2="478.86" y2="38.58" stroke="#6a42b4" stroke-width="0.6" stroke-opacity="0.6"/>
<path d="M478.86,35.47L480.14,37.07L478.86,38.67L477.58,37.07Z" fill="#6a42b4" fill-opacity="1.0"/>
<path d="M476.26,45.02L477.54,46.62L476.26,48.22L474.98,46.62Z" fill="#6a42b4" fill-opacity="1.0"/>
<line x1="486.55" y1="45.67" x2="486.55" y2="47.43" stroke="#6a42b4" stroke-width="0.6" stroke-opacity="0.6"/>
<path d="M486.55,44.95L487.83,46.55L486.55,48.15L485.27,46.55Z" fill="#6a42b4" fill-opacity="1.0"/>
<line x1="494.57" y1="50.61" x2="494.57" y2="55.54" stroke="#6a42b4" stroke-width="0.6" stroke-opacity="0.6"/>
<path d="M494.57,51.48L495.85,53.08L494.57,54.68L493.29,53.08Z" fill="#6a42b4" fill-opacity="1.0"/>
<line x1="467.57" y1="31.26" x2="467.57" y2="36.68" stroke="#6a42b4" stroke-width="0.6" stroke-opacity="0.6"/>
<path d="M467.57,32.37L468.85,33.97L467.57,35.57L466.29,33.97Z" fill="#6a42b4" fill-opacity="1.0"/>
<line x1="477.98" y1="36.04" x2="477.98" y2="38.81" stroke="#6a42b4" stroke-width="0.6" stroke-opacity="0.6"/>
<path d="M477.98,35.82L479.26,37.42L477.98,39.02L476.70,37.42Z" fill="#6a42b4" fill-opacity="1.0"/>
<line x1="487.52" y1="46.68" x2="487.52" y2="49.21" stroke="#6a42b4" stroke-width="0.6" stroke-opacity="0.6"/>
<path d="M487.52,46.35L488.80,47.95L487.52,49.55L486.24,47.95Z" fill="#6a42b4" fill-opacity="1.0"/>
<line x1="498.97" y1="58.25" x2="498.97" y2="61.99" stroke="#6a42b4" stroke-width="0.6" stroke-opacity="0.6"/>
<path d="M498.97,58.52L500.25,60.12L498.97,61.72L497.69,60.12Z" fill="#6a42b4" fill-opacity="1.0"/>
<path d="M451.40,25.76L452.68,27.36L451.40,28.96L450.12,27.36Z" fill="#6a42b4" fill-opacity="1.0"/>
<path d="M470.91,34.01L472.19,35.61L470.91,37.21L469.63,35.61Z" fill="#6a42b4" fill-opacity="1.0"/>
<path d="M476.81,39.50L478.09,41.10L476.81,42.70L475.53,41.10Z" fill="#6a42b4" fill-opacity="1.0"/>
<path d="M483.62,39.05L484.90,40.65L483.62,42.25L482.34,40.65Z" fill="#6a42b4" fill-opacity="1.0"/>
<path d="M468.28,31.46L469.56,33.06L468.28,34.66L467.00,33.06Z" fill="#6a42b4" fill-opacity="1.0"/>
<line x1="466.79" y1="30.47" x2="466.79" y2="37.34" stroke="#6a42b4" stroke-width="0.6" stroke-opacity="0.6"/>
<path d="M466.79,32.30L468.07,33.90L466.79,35.50L465.51,33.90Z" fill="#6a42b4" fill-opacity="1.0"/>
<line x1="453.16" y1="27.74" x2="453.16" y2="32.22" stroke="#6a42b4" stroke-width="0.6" stroke-opacity="0.6"/>
<path d="M453.16,28.38L454.44,29.98L453.16,31.58L451.88,29.98Z" fill="#6a42b4" fill-opacity="1.0"/>
<line x1="480.96" y1="41.67" x2="480.96" y2="44.15" stroke="#6a42b4" stroke-width="0.6" stroke-opacity="0.6"/>
<path d="M480.96,41.31L482.24,42.91L480.96,44.51L479.68,42.91Z" fill="#6a42b4" fill-opacity="1.0"/>
<line x1="470.87" y1="32.98" x2="470.87" y2="39.53" stroke="#6a42b4" stroke-width="0.6" stroke-opacity="0.6"/>
<path d="M470.87,34.66L472.15,36.26L470.87,37.86L469.59,36.26Z" fill="#6a42b4" fill-opacity="1.0"/>
<line x1="468.07" y1="25.59" x2="468.07" y2="34.50" stroke="#6a42b4" stroke-width="0.6" stroke-opacity="0.6"/>
<path d="M468.07,28.45L469.35,30.05L468.07,31.65L466.79,30.05Z" fill="#6a42b4" fill-opacity="1.0"/>
<line x1="465.86" y1="28.20" x2="465.86" y2="29.99" stroke="#6a42b4" stroke-width="0.6" stroke-opacity="0.6"/>
<path d="M465.86,27.50L467.14,29.10L465.86,30.70L464.58,29.10Z" fill="#6a42b4" fill-opacity="1.0"/>
<path d="M495.99,49.17L497.27,50.77L495.99,52.37L494.71,50.77Z" fill="#6a42b4" fill-opacity="1.0"/>
<path d="M454.31,26.09L455.59,27.69L454.31,29.29L453.03,27.69Z" fill="#6a42b4" fill-opacity="1.0"/>
<line x1="453.60" y1="22.72" x2="453.60" y2="24.35" stroke="#6a42b4" stroke-width="0.6" stroke-opacity="0.6"/>
<path d="M453.60,21.93L454.88,23.53L453.60,25.13L452.32,23.53Z" fill="#6a42b4" fill-opacity="1.0"/>
<line x1="484.08" y1="40.27" x2="484.08" y2="46.20" stroke="#6a42b4" stroke-width="0.6" stroke-opacity="0.6"/>
<path d="M484.08,41.64L485.36,43.24L484.08,44.84L482.80,43.24Z" fill="#6a42b4" fill-opacity="1.0"/>
<line x1="453.25" y1="24.67" x2="453.25" y2="29.83" stroke="#6a42b4" stroke-width="0.6" stroke-opacity="0.6"/>
<path d="M453.25,25.65L454.53,27.25L453.25,28.85L451.97,27.25Z" fill="#6a42b4" fill-opacity="1.0"/>
<line x1="453.53" y1="22.24" x2="453.53" y2="27.70" stroke="#6a42b4" stroke-width="0.6" stroke-opacity="0.6"/>
<path d="M453.53,23.37L454.81,24.97L453.53,26.57L452.25,24.97Z" fill="#6a42b4" fill-opacity="1.0"/>
<line x1="484.52" y1="43.69" x2="484.52" y2="45.64" stroke="#6a42b4" stroke-width="0.6" stroke-opacity="0.6"/>
<path d="M484.52,43.07L485.80,44.67L484.52,46.27L483.24,44.67Z" fill="#6a42b4" fill-opacity="1.0"/>
<line x1="467.50" y1="32.40" x2="467.50" y2="35.80" stroke="#6a42b4" stroke-width="0.6" stroke-opacity="0.6"/>
<path d="M467.50,32.50L468.78,34.10L467.50,35.70L466.22,34.10Z" fill="#6a42b4" fill-opacity="1.0"/>
<line x1="455.34" y1="24.27" x2="455.34" y2="28.79" stroke="#6a42b4" stroke-width="0.6" stroke-opacity="0.6"/>
<path d="M455.34,24.93L456.62,26.53L455.34,28.13L454.06,26.53Z" fill="#6a42b4" fill-opacity="1.0"/>
<line x1="495.88" y1="57.40" x2="495.88" y2="60.33" stroke="#6a42b4" stroke-width="0.6" stroke-opacity="0.6"/>
<path d="M495.88,57.26L497.16,58.86L495.88,60.46L494.60,58.86Z" fill="#6a42b4" fill-opacity="1.0"/>
<line x1="471.56" y1="36.26" x2="471.56" y2="39.16" stroke="#6a42b4" stroke-width="0.6" stroke-opacity="0.6"/>
<path d="M471.56,36.11L472.84,37.71L471.56,39.31L470.28,37.71Z" fill="#6a42b4" fill-opacity="1.0"/>
<line x1="465.47" y1="25.52" x2="465.47" y2="30.48" stroke="#6a42b4" stroke-width="0.6" stroke-opacity="0.6"/>
<path d="M465.47,26.40L466.75,28.00L465.47,29.60L464.19,28.00Z" fill="#6a42b4" fill-opacity="1.0"/>
<line x1="494.67" y1="50.63" x2="494.67" y2="54.04" stroke="#6a42b4" stroke-width="0.6" stroke-opacity="0.6"/>
<path d="M494.67,50.73L495.95,52.33L494.67,53.93L493.39,52.33Z" fill="#6a42b4" fill-opacity="1.0"/>
<line x1="467.90" y1="31.54" x2="467.90" y2="34.27" stroke="#6a42b4" stroke-width="0.6" stroke-opacity="0.6"/>
<path d="M467.90,31.30L469.18,32.90L467.90,34.50L466.62,32.90Z" fill="#6a42b4" fill-opacity="1.0"/>
<line x1="469.01" y1="34.45" x2="469.01" y2="38.81" stroke="#6a42b4" stroke-width="0.6" stroke-opacity="0.6"/>
<path d="M469.01,35.03L470.29,36.63L469.01,38.23L467.73,36.63Z" fill="#6a42b4" fill-opacity="1.0"/>
<line x1="489.73" y1="42.78" x2="489.73" y2="44.51" stroke="#6a42b4" stroke-width="0.6" stroke-opacity="0.6"/>
<path d="M489.73,42.05L491.01,43.65L489.73,45.25L488.45,43.65Z" fill="#6a42b4" fill-opacity="1.0"/>
<line x1="477.88" y1="40.06" x2="477.88" y2="45.50" stroke="#6a42b4" stroke-width="0.6" stroke-opacity="0.6"/>
<path d="M477.88,41.18L479.16,42.78L477.88,44.38L476.60,42.78Z" fill="#6a42b4" fill-opacity="1.0"/>
<path d="M493.97,50.13L495.25,51.73L493.97,53.33L492.69,51.73Z" fill="#6a42b4" fill-opacity="1.0"/>
<path d="M475.49,34.17L476.77,35.77L475.49,37.37L474.21,35.77Z" fill="#6a42b4" fill-opacity="1.0"/>
<line x1="498.30" y1="49.12" x2="498.30" y2="54.41" stroke="#6a42b4" stroke-width="0.6" stroke-opacity="0.6"/>
<path d="M498.30,50.17L499.58,51.77L498.30,53.37L497.02,51.77Z" fill="#6a42b4" fill-opacity="1.0"/>
<line x1="452.64" y1="20.33" x2="452.64" y2="22.17" stroke="#6a42b4" stroke-width="0.6" stroke-opacity="0.6"/>
<path d="M452.64,19.65L453.92,21.25L452.64,22.85L451.36,21.25Z" fill="#6a42b4" fill-opacity="1.0"/>
<line x1="453.65" y1="29.07" x2="453.65" y2="31.96" stroke="#6a42b4" stroke-width="0.6" stroke-opacity="0.6"/>
<path d="M453.65,28.91L454.93,30.51L453.65,32.11L452.37,30.51Z" fill="#6a42b4" fill-opacity="1.0"/>
<line x1="494.89" y1="54.58" x2="494.89" y2="57.17" stroke="#6a42b4" stroke-width="0.6" stroke-opacity="0.6"/>
<path d="M494.89,54.27L496.17,55.87L494.89,57.47L493.61,55.87Z" fill="#6a42b4" fill-opacity="1.0"/>
<line x1="456.68" y1="25.47" x2="456.68" y2="30.68" stroke="#6a42b4" stroke-width="0.6" stroke-opacity="0.6"/>
<path d="M456.68,26.48L457.96,28.08L456.68,29.68L455.40,28.08Z" fill="#6a42b4" fill-opacity="1.0"/>
<line x1="461.82" y1="28.96" x2="461.82" y2="34.98" stroke="#6a42b4" stroke-width="0.6" stroke-opacity="0.6"/>
<path d="M461.82,30.37L463.10,31.97L461.82,33.57L460.54,31.97Z" fill="#6a42b4" fill-opacity="1.0"/>
<line x1="475.79" y1="37.89" x2="475.79" y2="41.48" stroke="#6a42b4" stroke-width="0.6" stroke-opacity="0.6"/>
<path d="M475.79,38.09L477.07,39.69L475.79,41.29L474.51,39.69Z" fill="#6a42b4" fill-opacity="1.0"/>
<path d="M466.49,36.40L467.77,38.00L466.49,39.60L465.21,38.00Z" fill="#6a42b4" fill-opacity="1.0"/>
<path d="M474.38,32.64L475.66,34.24L474.38,35.84L473.10,34.24Z" fill="#6a42b4" fill-opacity="1.0"/>
<line x1="485.23" y1="47.01" x2="485.23" y2="48.89" stroke="#6a42b4" stroke-width="0.6" stroke-opacity="0.6"/>
<path d="M485.23,46.35L486.51,47.95L485.23,49.55L483.95,47.95Z" fill="#6a42b4" fill-opacity="1.0"/>
<line x1="491.21" y1="44.10" x2="491.21" y2="50.21" stroke="#6a42b4" stroke-width="0.6" stroke-opacity="0.6"/>
<path d="M491.21,45.55L492.49,47.15L491.21,48.75L489.93,47.15Z" fill="#6a42b4" fill-opacity="1.0"/>
<line x1="490.18" y1="48.82" x2="490.18" y2="55.34" stroke="#6a42b4" stroke-width="0.6" stroke-opacity="0.6"/>
<path d="M490.18,50.48L491.46,52.08L490.18,53.68L488.90,52.08Z" fill="#6a42b4" fill-opacity="1.0"/>
<line x1="497.86" y1="50.56" x2="497.86" y2="53.94" stroke="#6a42b4" stroke-width="0.6" stroke-opacity="0.6"/>
<path d="M497.86,50.65L499.14,52.25L497.86,53.85L496.58,52.25Z" fill="#6a42b4" fill-opacity="1.0"/>
<line x1="485.33" y1="44.71" x2="485.33" y2="48.27" stroke="#6a42b4" stroke-width="0.6" stroke-opacity="0.6"/>
<path d="M485.33,44.89L486.61,46.49L485.33,48.09L484.05,46.49Z" fill="#6a42b4" fill-opacity="1.0"/>
<line x1="470.68" y1="36.84" x2="470.68" y2="41.55" stroke="#6a42b4" stroke-width="0.6" stroke-opacity="0.6"/>
<path d="M470.68,37.59L471.96,39.19L470.68,40.79L469.40,39.19Z" fill="#6a42b4" fill-opacity="1.0"/>
<path d="M499.55,52.73L500.83,54.33L499.55,55.93L498.27,54.33Z" fill="#6a42b4" fill-opacity="1.0"/>
<path d="M459.74,26.19L461.02,27.79L459.74,29.39L458.46,27.79Z" fill="#6a42b4" fill-opacity="1.0"/>
<path d="M498.47,55.46L499.75,57.06L498.47,58.66L497.19,57.06Z" fill="#6a42b4" fill-opacity="1.0"/>
<line x1="455.21" y1="21.99" x2="455.21" y2="26.98" stroke="#6a42b4" stroke-width="0.6" stroke-opacity="0.6"/>
<path d="M455.21,22.88L456.49,24.48L455.21,26.08L453.93,24.48Z" fill="#6a42b4" fill-opacity="1.0"/>
<path d="M458.48,30.44L459.76,32.04L458.48,33.64L457.20,32.04Z" fill="#6a42b4" fill-opacity="1.0"/>
<path d="M478.95,40.42L480.23,42.02L478.95,43.62L477.67,42.02Z" fill="#6a42b4" fill-opacity="1.0"/>
<line x1="454.90" y1="26.84" x2="454.90" y2="29.15" stroke="#6a42b4" stroke-width="0.6" stroke-opacity="0.6"/>
<path d="M454.90,26.39L456.18,27.99L454.90,29.59L453.62,27.99Z" fill="#6a42b4" fill-opacity="1.0"/>
<line x1="461.31" y1="27.65" x2="461.31" y2="32.39" stroke="#6a42b4" stroke-width="0.6" stroke-opacity="0.6"/>
<path d="M461.31,28.42L462.59,30.02L461.31,31.62L460.03,30.02Z" fill="#6a42b4" fill-opacity="1.0"/>
<line x1="460.73" y1="30.00" x2="460.73" y2="32.68" stroke="#6a42b4" stroke-width="0.6" stroke-opacity="0.6"/>
<path d="M460.73,29.74L462.01,31.34L460.73,32.94L459.45,31.34Z" fill="#6a42b4" fill-opacity="1.0"/>
<line x1="458.13" y1="27.54" x2="458.13" y2="30.64" stroke="#6a42b4" stroke-width="0.6" stroke-opacity="0.6"/>
<path d="M458.13,27.49L459.41,29.09L458.13,30.69L456.85,29.09Z" fill="#6a42b4" fill-opacity="1.0"/>
<line x1="477.14" y1="39.66" x2="477.14" y2="43.41" stroke="#6a42b4" stroke-width="0.6" stroke-opacity="0.6"/>
<path d="M477.14,39.94L478.42,41.54L477.14,43.14L475.86,41.54Z" fill="#6a42b4" fill-opacity="1.0"/>
<line x1="462.58" y1="33.67" x2="462.58" y2="38.86" stroke="#6a42b4" stroke-width="0.6" stroke-opacity="0.6"/>
<path d="M462.58,34.66L463.86,36.26L462.58,37.86L461.30,36.26Z" fill="#6a42b4" fill-opacity="1.0"/>
<line x1="466.71" y1="25.99" x2="466.71" y2="28.63" stroke="#6a42b4" stroke-width="0.6" stroke-opacity="0.6"/>
<path d="M466.71,25.71L467.99,27.31L466.71,28.91L465.43,27.31Z" fill="#6a42b4" fill-opacity="1.0"/>
<path d="M473.82,36.82L475.10,38.42L473.82,40.02L472.54,38.42Z" fill="#6a42b4" fill-opacity="1.0"/>
<line x1="497.34" y1="53.27" x2="497.34" y2="56.63" stroke="#6a42b4" stroke-width="0.6" stroke-opacity="0.6"/>
<path d="M497.34,53.35L498.62,54.95L497.34,56.55L496.06,54.95Z" fill="#6a42b4" fill-opacity="1.0"/>
<path d="M476.10,35.78L477.38,37.38L476.10,38.98L474.82,37.38Z" fill="#6a42b4" fill-opacity="1.0"/>
<line x1="499.51" y1="53.27" x2="499.51" y2="55.48" stroke="#6a42b4" stroke-width="0.6" stroke-opacity="0.6"/>
<path d="M499.51,52.78L500.79,54.38L499.51,55.98L498.23,54.38Z" fill="#6a42b4" fill-opacity="1.0"/>
<path d="M449.95,20.24L451.23,21.84L449.95,23.44L448.67,21.84Z" fill="#6a42b4" fill-opacity="1.0"/>
<line x1="489.72" y1="45.53" x2="489.72" y2="50.31" stroke="#6a42b4" stroke-width="0.6" stroke-opacity="0.6"/>
<path d="M489.72,46.32L491.00,47.92L489.72,49.52L488.44,47.92Z" fill="#6a42b4" fill-opacity="1.0"/>
<line x1="457.36" y1="28.59" x2="457.36" y2="31.24" stroke="#6a42b4" stroke-width="0.6" stroke-opacity="0.6"/>
<path d="M457.36,28.32L458.64,29.92L457.36,31.52L456.08,29.92Z" fill="#6a42b4" fill-opacity="1.0"/>
<line x1="462.53" y1="32.23" x2="462.53" y2="35.40" stroke="#6a42b4" stroke-width="0.6" stroke-opacity="0.6"/>
<path d="M462.53,32.21L463.81,33.81L462.53,35.41L461.25,33.81Z" fill="#6a42b4" fill-opacity="1.0"/>
<path d="M481.63,43.72L482.91,45.32L481.63,46.92L480.35,45.32Z" fill="#6a42b4" fill-opacity="1.0"/>
<line x1="476.45" y1="40.12" x2="476.45" y2="45.13" stroke="#6a42b4" stroke-width="0.6" stroke-opacity="0.6"/>
<path d="M476.45,41.03L477.73,42.63L476.45,44.23L475.17,42.63Z" fill="#6a42b4" fill-opacity="1.0"/>
<line x1="449.47" y1="23.45" x2="449.47" y2="29.73" stroke="#6a42b4" stroke-width="0.6" stroke-opacity="0.6"/>
<path d="M449.47,24.99L450.75,26.59L449.47,28.19L448.19,26.59Z" fill="#6a42b4" fill-opacity="1.0"/>
<path d="M491.00,50.07L492.28,51.67L491.00,53.27L489.72,51.67Z" fill="#6a42b4" fill-opacity="1.0"/>
<line x1="485.66" y1="47.23" x2="485.66" y2="49.59" stroke="#6a42b4" stroke-width="0.6" stroke-opacity="0.6"/>
<path d="M485.66,46.81L486.94,48.41L485.66,50.01L484.38,48.41Z" fill="#6a42b4" fill-opacity="1.0"/>
<path d="M473.11,39.82L474.39,41.42L473.11,43.02L471.83,41.42Z" fill="#6a42b4" fill-opacity="1.0"/>
<line x1="492.78" y1="46.42" x2="492.78" y2="52.42" stroke="#6a42b4" stroke-width="0.6" stroke-opacity="0.6"/>
<path d="M492.78,47.82L494.06,49.42L492.78,51.02L491.50,49.42Z" fill="#6a42b4" fill-opacity="1.0"/>
<path d="M470.50,35.75L471.78,37.35L470.50,38.95L469.22,37.35Z" fill="#6a42b4" fill-opacity="1.0"/>
<line x1="491.21" y1="48.63" x2="491.21" y2="52.98" stroke="#6a42b4" stroke-width="0.6" stroke-opacity="0.6"/>
<path d="M491.21,49.20L492.49,50.80L491.21,52.40L489.93,50.80Z" fill="#6a42b4" fill-opacity="1.0"/>
<line x1="476.00" y1="39.61" x2="476.00" y2="45.30" stroke="#6a42b4" stroke-width="0.6" stroke-opacity="0.6"/>
<path d="M476.00,40.85L477.28,42.45L476.00,44.05L474.72,42.45Z" fill="#6a42b4" fill-opacity="1.0"/>
<path d="M465.16,31.08L466.44,32.68L465.16,34.28L463.88,32.68Z" fill="#6a42b4" fill-opacity="1.0"/>
<path d="M464.87,26.98L466.15,28.58L464.87,30.18L463.59,28.58Z" fill="#6a42b4" fill-opacity="1.0"/>
<path d="M467.60,32.45L468.88,34.05L467.60,35.65L466.32,34.05Z" fill="#6a42b4" fill-opacity="1.0"/>
<line x1="469.35" y1="27.39" x2="469.35" y2="29.63" stroke="#6a42b4" stroke-width="0.6" stroke-opacity="0.6"/>
<path d="M469.35,26.91L470.63,28.51L469.35,30.11L468.07,28.51Z" fill="#6a42b4" fill-opacity="1.0"/>
<path d="M491.38,48.18L492.66,49.78L491.38,51.38L490.10,49.78Z" fill="#6a42b4" fill-opacity="1.0"/>
<line x1="468.48" y1="33.29" x2="468.48" y2="35.86" stroke="#6a42b4" stroke-width="0.6" stroke-opacity="0.6"/>
<path d="M468.48,32.98L469.76,34.58L468.48,36.18L467.20,34.58Z" fill="#6a42b4" fill-opacity="1.0"/>
<path d="M477.94,38.73L479.22,40.33L477.94,41.93L476.66,40.33Z" fill="#6a42b4" fill-opacity="1.0"/>
<line x1="499.58" y1="54.97" x2="499.58" y2="57.30" stroke="#6a42b4" stroke-width="0.6" stroke-opacity="0.6"/>
<path d="M499.58,54.54L500.86,56.14L499.58,57.74L498.30,56.14Z" fill="#6a42b4" fill-opacity="1.0"/>
<line x1="480.57" y1="40.05" x2="480.57" y2="43.44" stroke="#6a42b4" stroke-width="0.6" stroke-opacity="0.6"/>
<path d="M480.57,40.15L481.85,41.75L480.57,43.35L479.29,41.75Z" fill="#6a42b4" fill-opacity="1.0"/>
<line x1="476.71" y1="37.66" x2="476.71" y2="40.78" stroke="#6a42b4" stroke-width="0.6" stroke-opacity="0.6"/>
<path d="M476.71,37.62L477.99,39.22L476.71,40.82L475.43,39.22Z" fill="#6a42b4" fill-opacity="1.0"/>
<line x1="469.25" y1="33.27" x2="469.25" y2="35.67" stroke="#6a42b4" stroke-width="0.6" stroke-opacity="0.6"/>
<path d="M469.25,32.87L470.53,34.47L469.25,36.07L467.97,34.47Z" fill="#6a42b4" fill-opacity="1.0"/>
<line x1="459.52" y1="27.85" x2="459.52" y2="31.04" stroke="#6a42b4" stroke-width="0.6" stroke-opacity="0.6"/>
<path d="M459.52,27.84L460.80,29.44L459.52,31.04L458.24,29.44Z" fill="#6a42b4" fill-opacity="1.0"/>
<line x1="497.22" y1="48.74" x2="497.22" y2="50.96" stroke="#6a42b4" stroke-width="0.6" stroke-opacity="0.6"/>
<path d="M497.22,48.25L498.50,49.85L497.22,51.45L495.94,49.85Z" fill="#6a42b4" fill-opacity="1.0"/>
<path d="M466.18,32.68L467.46,34.28L466.18,35.88L464.90,34.28Z" fill="#6a42b4" fill-opacity="1.0"/>
<line x1="456.53" y1="30.08" x2="456.53" y2="33.11" stroke="#6a42b4" stroke-width="0.6" stroke-opacity="0.6"/>
<path d="M456.53,29.99L457.81,31.59L456.53,33.19L455.25,31.59Z" fill="#6a42b4" fill-opacity="1.0"/>
<line x1="485.24" y1="45.04" x2="485.24" y2="48.34" stroke="#6a42b4" stroke-width="0.6" stroke-opacity="0.6"/>
<path d="M485.24,45.09L486.52,46.69L485.24,48.29L483.96,46.69Z" fill="#6a42b4" fill-opacity="1.0"/>
<path d="M491.75,47.68L493.03,49.28L491.75,50.88L490.47,49.28Z" fill="#6a42b4" fill-opacity="1.0"/>
<path d="M460.87,29.71L462.15,31.31L460.87,32.91L459.59,31.31Z" fill="#6a42b4" fill-opacity="1.0"/>
<line x1="469.99" y1="39.86" x2="469.99" y2="43.44" stroke="#6a42b4" stroke-width="0.6" stroke-opacity="0.6"/>
<path d="M469.99,40.05L471.27,41.65L469.99,43.25L468.71,41.65Z" fill="#6a42b4" fill-opacity="1.0"/>
<path d="M471.01,30.96L472.29,32.56L471.01,34.16L469.73,32.56Z" fill="#6a42b4" fill-opacity="1.0"/>
<line x1="488.20" y1="47.26" x2="488.20" y2="50.47" stroke="#6a42b4" stroke-width="0.6" stroke-opacity="0.6"/>
<path d="M488.20,47.27L489.48,48.87L488.20,50.47L486.92,48.87Z" fill="#6a42b4" fill-opacity="1.0"/>
<path d="M466.17,31.68L467.45,33.28L466.17,34.88L464.89,33.28Z" fill="#6a42b4" fill-opacity="1.0"/>
<line x1="469.68" y1="28.50" x2="469.68" y2="38.20" stroke="#6a42b4" stroke-width="0.6" stroke-opacity="0.6"/>
<path d="M469.68,31.75L470.96,33.35L469.68,34.95L468.40,33.35Z" fill="#6a42b4" fill-opacity="1.0"/>
<line x1="489.36" y1="44.39" x2="489.36" y2="48.56" stroke="#6a42b4" stroke-width="0.6" stroke-opacity="0.6"/>
<path d="M489.36,44.88L490.64,46.48L489.36,48.08L488.08,46.48Z" fill="#6a42b4" fill-opacity="1.0"/>
<line x1="450.34" y1="22.03" x2="450.34" y2="24.90" stroke="#6a42b4" stroke-width="0.6" stroke-opacity="0.6"/>
<path d="M450.34,21.86L451.62,23.46L450.34,25.06L449.06,23.46Z" fill="#6a42b4" fill-opacity="1.0"/>
<line x1="482.33" y1="44.62" x2="482.33" y2="46.79" stroke="#6a42b4" stroke-width="0.6" stroke-opacity="0.6"/>
<path d="M482.33,44.11L483.61,45.71L482.33,47.31L481.05,45.71Z" fill="#6a42b4" fill-opacity="1.0"/>
<line x1="475.17" y1="37.05" x2="475.17" y2="43.58" stroke="#6a42b4" stroke-width="0.6" stroke-opacity="0.6"/>
<path d="M475.17,38.72L476.45,40.32L475.17,41.92L473.89,40.32Z" fill="#6a42b4" fill-opacity="1.0"/>
<line x1="480.34" y1="42.30" x2="480.34" y2="47.45" stroke="#6a42b4" stroke-width="0.6" stroke-opacity="0.6"/>
<path d="M480.34,43.28L481.62,44.88L480.34,46.48L479.06,44.88Z" fill="#6a42b4" fill-opacity="1.0"/>
<path d="M495.09,48.49L496.37,50.09L495.09,51.69L493.81,50.09Z" fill="#6a42b4" fill-opacity="1.0"/>
<line x1="474.72" y1="39.37" x2="474.72" y2="43.79" stroke="#6a42b4" stroke-width="0.6" stroke-opacity="0.6"/>
<path d="M474.72,39.98L476.00,41.58L474.72,43.18L473.44,41.58Z" fill="#6a42b4" fill-opacity="1.0"/>
<path d="M499.33,49.37L500.61,50.97L499.33,52.57L498.05,50.97Z" fill="#6a42b4" fill-opacity="1.0"/>
<line x1="491.68" y1="48.34" x2="491.68" y2="56.54" stroke="#6a42b4" stroke-width="0.6" stroke-opacity="0.6"/>
<path d="M491.68,50.84L492.96,52.44L491.68,54.04L490.40,52.44Z" fill="#6a42b4" fill-opacity="1.0"/>
<path d="M481.13,41.57L482.41,43.17L481.13,44.77L479.85,43.17Z" fill="#6a42b4" fill-opacity="1.0"/>
<line x1="461.78" y1="25.94" x2="461.78" y2="28.51" stroke="#6a42b4" stroke-width="0.6" stroke-opacity="0.6"/>
<path d="M461.78,25.63L463.06,27.23L461.78,28.83L460.50,27.23Z" fill="#6a42b4" fill-opacity="1.0"/>
<path d="M466.06,34.43L467.34,36.03L466.06,37.63L464.78,36.03Z" fill="#6a42b4" fill-opacity="1.0"/>
<line x1="472.83" y1="39.64" x2="472.83" y2="46.46" stroke="#6a42b4" stroke-width="0.6" stroke-opacity="0.6"/>
<path d="M472.83,41.45L474.11,43.05L472.83,44.65L471.55,43.05Z" fill="#6a42b4" fill-opacity="1.0"/>
<line x1="456.26" y1="29.56" x2="456.26" y2="32.12" stroke="#6a42b4" stroke-width="0.6" stroke-opacity="0.6"/>
<path d="M456.26,29.24L457.54,30.84L456.26,32.44L454.98,30.84Z" fill="#6a42b4" fill-opacity="1.0"/>
<path d="M477.77,36.97L479.05,38.57L477.77,40.17L476.49,38.57Z" fill="#6a42b4" fill-opacity="1.0"/>
<path d="M495.41,56.35L496.69,57.95L495.41,59.55L494.13,57.95Z" fill="#6a42b4" fill-opacity="1.0"/>
<line x1="479.84" y1="43.36" x2="479.84" y2="48.04" stroke="#6a42b4" stroke-width="0.6" stroke-opacity="0.6"/>
<path d="M479.84,44.10L481.12,45.70L479.84,47.30L478.56,45.70Z" fill="#6a42b4" fill-opacity="1.0"/>
<line x1="464.00" y1="33.25" x2="464.00" y2="34.87" stroke="#6a42b4" stroke-width="0.6" stroke-opacity="0.6"/>
<path d="M464.00,32.46L465.28,34.06L464.00,35.66L462.72,34.06Z" fill="#6a42b4" fill-opacity="1.0"/>
<line x1="478.42" y1="40.90" x2="478.42" y2="42.91" stroke="#6a42b4" stroke-width="0.6" stroke-opacity="0.6"/>
<path d="M478.42,40.31L479.70,41.91L478.42,43.51L477.14,41.91Z" fill="#6a42b4" fill-opacity="1.0"/>
<path d="M477.12,39.25L478.40,40.85L477.12,42.45L475.84,40.85Z" fill="#6a42b4" fill-opacity="1.0"/>
<path d="M458.51,34.19L459.79,35.79L458.51,37.39L457.23,35.79Z" fill="#6a42b4" fill-opacity="1.0"/>
<line x1="482.71" y1="39.83" x2="482.71" y2="44.85" stroke="#6a42b4" stroke-width="0.6" stroke-opacity="0.6"/>
<path d="M482.71,40.74L483.99,42.34L482.71,43.94L481.43,42.34Z" fill="#6a42b4" fill-opacity="1.0"/>
<line x1="486.73" y1="42.19" x2="486.73" y2="45.45" stroke="#6a42b4" stroke-width="0.6" stroke-opacity="0.6"/>
<path d="M486.73,42.22L488.01,43.82L486.73,45.42L485.45,43.82Z" fill="#6a42b4" fill-opacity="1.0"/>
<path d="M490.07,49.31L491.35,50.91L490.07,52.51L488.79,50.91Z" fill="#6a42b4" fill-opacity="1.0"/>
<line x1="473.08" y1="38.16" x2="473.08" y2="40.94" stroke="#6a42b4" stroke-width="0.6" stroke-opacity="0.6"/>
<path d="M473.08,37.95L474.36,39.55L473.08,41.15L471.80,39.55Z" fill="#6a42b4" fill-opacity="1.0"/>
<line x1="478.22" y1="40.53" x2="478.22" y2="44.40" stroke="#6a42b4" stroke-width="0.6" stroke-opacity="0.6"/>
<path d="M478.22,40.87L479.50,42.47L478.22,44.07L476.94,42.47Z" fill="#6a42b4" fill-opacity="1.0"/>
<path d="M462.74,27.76L464.02,29.36L462.74,30.96L461.46,29.36Z" fill="#6a42b4" fill-opacity="1.0"/>
<path d="M481.87,45.73L483.15,47.33L481.87,48.93L480.59,47.33Z" fill="#6a42b4" fill-opacity="1.0"/>
<path d="M456.72,30.28L458.00,31.88L456.72,33.48L455.44,31.88Z" fill="#6a42b4" fill-opacity="1.0"/>
<line x1="473.18" y1="33.23" x2="473.18" y2="35.89" stroke="#6a42b4" stroke-width="0.6" stroke-opacity="0.6"/>
<path d="M473.18,32.96L474.46,34.56L473.18,36.16L471.90,34.56Z" fill="#6a42b4" fill-opacity="1.0"/>
<line x1="484.28" y1="42.07" x2="484.28" y2="48.07" stroke="#6a42b4" stroke-width="0.6" stroke-opacity="0.6"/>
<path d="M484.28,43.47L485.56,45.07L484.28,46.67L483.00,45.07Z" fill="#6a42b4" fill-opacity="1.0"/>
<path d="M473.98,42.10L475.26,43.70L473.98,45.30L472.70,43.70Z" fill="#6a42b4" fill-opacity="1.0"/>
<line x1="492.67" y1="47.42" x2="492.67" y2="49.50" stroke="#6a42b4" stroke-width="0.6" stroke-opacity="0.6"/>
<path d="M492.67,46.86L493.95,48.46L492.67,50.06L491.39,48.46Z" fill="#6a42b4" fill-opacity="1.0"/>
<line x1="478.04" y1="42.38" x2="478.04" y2="44.85" stroke="#6a42b4" stroke-width="0.6" stroke-opacity="0.6"/>
<path d="M478.04,42.02L479.32,43.62L478.04,45.22L476.76,43.62Z" fill="#6a42b4" fill-opacity="1.0"/>
<line x1="475.97" y1="32.40" x2="475.97" y2="35.62" stroke="#6a42b4" stroke-width="0.6" stroke-opacity="0.6"/>
<path d="M475.97,32.41L477.25,34.01L475.97,35.61L474.69,34.01Z" fill="#6a42b4" fill-opacity="1.0"/>
<line x1="465.63" y1="36.64" x2="465.63" y2="38.59" stroke="#6a42b4" stroke-width="0.6" stroke-opacity="0.6"/>
<path d="M465.63,36.02L466.91,37.62L465.63,39.22L464.35,37.62Z" fill="#6a42b4" fill-opacity="1.0"/>
<line x1="494.95" y1="49.65" x2="494.95" y2="54.47" stroke="#6a42b4" stroke-width="0.6" stroke-opacity="0.6"/>
<path d="M494.95,50.46L496.23,52.06L494.95,53.66L493.67,52.06Z" fill="#6a42b4" fill-opacity="1.0"/>
<line x1="487.45" y1="43.57" x2="487.45" y2="48.12" stroke="#6a42b4" stroke-width="0.6" stroke-opacity="0.6"/>
<path d="M487.45,44.24L488.73,45.84L487.45,47.44L486.17,45.84Z" fill="#6a42b4" fill-opacity="1.0"/>
<line x1="452.93" y1="26.91" x2="452.93" y2="29.68" stroke="#6a42b4" stroke-width="0.6" stroke-opacity="0.6"/>
<path d="M452.93,26.69L454.21,28.29L452.93,29.89L451.65,28.29Z" fill="#6a42b4" fill-opacity="1.0"/>
<path d="M474.83,36.53L476.11,38.13L474.83,39.73L473.55,38.13Z" fill="#6a42b4" fill-opacity="1.0"/>
<path d="M484.56,41.37L485.84,42.97L484.56,44.57L483.28,42.97Z" fill="#6a42b4" fill-opacity="1.0"/>
<line x1="464.90" y1="30.51" x2="464.90" y2="32.12" stroke="#6a42b4" stroke-width="0.6" stroke-opacity="0.6"/>
<path d="M464.90,29.71L466.18,31.31L464.90,32.91L463.62,31.31Z" fill="#6a42b4" fill-opacity="1.0"/>
<line x1="452.86" y1="29.81" x2="452.86" y2="34.77" stroke="#6a42b4" stroke-width="0.6" stroke-opacity="0.6"/>
<path d="M452.86,30.69L454.14,32.29L452.86,33.89L451.58,32.29Z" fill="#6a42b4" fill-opacity="1.0"/>
<line x1="483.08" y1="44.61" x2="483.08" y2="47.42" stroke="#6a42b4" stroke-width="0.6" stroke-opacity="0.6"/>
<path d="M483.08,44.42L484.36,46.02L483.08,47.62L481.80,46.02Z" fill="#6a42b4" fill-opacity="1.0"/>
<line x1="490.15" y1="46.99" x2="490.15" y2="52.86" stroke="#6a42b4" stroke-width="0.6" stroke-opacity="0.6"/>
<path d="M490.15,48.33L491.43,49.93L490.15,51.53L488.87,49.93Z" fill="#6a42b4" fill-opacity="1.0"/>
<path d="M478.08,40.26L479.36,41.86L478.08,43.46L476.80,41.86Z" fill="#6a42b4" fill-opacity="1.0"/>
<line x1="489.49" y1="49.53" x2="489.49" y2="52.67" stroke="#6a42b4" stroke-width="0.6" stroke-opacity="0.6"/>
<path d="M489.49,49.50L490.77,51.10L489.49,52.70L488.21,51.10Z" fill="#6a42b4" fill-opacity="1.0"/>
<path d="M497.52,54.69L498.80,56.29L497.52,57.89L496.24,56.29Z" fill="#6a42b4" fill-opacity="1.0"/>
<path d="M464.54,30.67L465.82,32.27L464.54,33.87L463.26,32.27Z" fill="#6a42b4" fill-opacity="1.0"/>
<line x1="494.69" y1="51.79" x2="494.69" y2="55.11" stroke="#6a42b4" stroke-width="0.6" stroke-opacity="0.6"/>
<path d="M494.69,51.85L495.97,53.45L494.69,55.05L493.41,53.45Z" fill="#6a42b4" fill-opacity="1.0"/>
<path d="M467.44,32.13L468.72,33.73L467.44,35.33L466.16,33.73Z" fill="#6a42b4" fill-opacity="1.0"/>
<line x1="450.98" y1="26.07" x2="450.98" y2="27.91" stroke="#6a42b4" stroke-width="0.6" stroke-opacity="0.6"/>
<path d="M450.98,25.39L452.26,26.99L450.98,28.59L449.70,26.99Z" fill="#6a42b4" fill-opacity="1.0"/>
<line x1="474.62" y1="43.79" x2="474.62" y2="47.78" stroke="#6a42b4" stroke-width="0.6" stroke-opacity="0.6"/>
<path d="M474.62,44.18L475.90,45.78L474.62,47.38L473.34,45.78Z" fill="#6a42b4" fill-opacity="1.0"/>
<line x1="473.32" y1="37.15" x2="473.32" y2="40.05" stroke="#6a42b4" stroke-width="0.6" stroke-opacity="0.6"/>
<path d="M473.32,37.00L474.60,38.60L473.32,40.20L472.04,38.60Z" fill="#6a42b4" fill-opacity="1.0"/>
<path d="M496.09,53.11L497.37,54.71L496.09,56.31L494.81,54.71Z" fill="#6a42b4" fill-opacity="1.0"/>
<line x1="491.80" y1="46.79" x2="491.80" y2="50.02" stroke="#6a42b4" stroke-width="0.6" stroke-opacity="0.6"/>
<path d="M491.80,46.81L493.08,48.41L491.80,50.01L490.52,48.41Z" fill="#6a42b4" fill-opacity="1.0"/>
<line x1="458.10" y1="31.59" x2="458.10" y2="39.70" stroke="#6a42b4" stroke-width="0.6" stroke-opacity="0.6"/>
<path d="M458.10,34.04L459.38,35.64L458.10,37.24L456.82,35.64Z" fill="#6a42b4" fill-opacity="1.0"/>
<line x1="459.62" y1="27.70" x2="459.62" y2="29.43" stroke="#6a42b4" stroke-width="0.6" stroke-opacity="0.6"/>
<path d="M459.62,26.96L460.90,28.56L459.62,30.16L458.34,28.56Z" fill="#6a42b4" fill-opacity="1.0"/>
<path d="M493.94,51.48L495.22,53.08L493.94,54.68L492.66,53.08Z" fill="#6a42b4" fill-opacity="1.0"/>
<line x1="486.12" y1="40.25" x2="486.12" y2="47.38" stroke="#6a42b4" stroke-width="0.6" stroke-opacity="0.6"/>
<path d="M486.12,42.21L487.40,43.81L486.12,45.41L484.84,43.81Z" fill="#6a42b4" fill-opacity="1.0"/>
<line x1="493.40" y1="50.18" x2="493.40" y2="52.06" stroke="#6a42b4" stroke-width="0.6" stroke-opacity="0.6"/>
<path d="M493.40,49.52L494.68,51.12L493.40,52.72L492.12,51.12Z" fill="#6a42b4" fill-opacity="1.0"/>
<path d="M484.62,46.26L485.90,47.86L484.62,49.46L483.34,47.86Z" fill="#6a42b4" fill-opacity="1.0"/>
<line x1="453.40" y1="25.27" x2="453.40" y2="28.31" stroke="#6a42b4" stroke-width="0.6" stroke-opacity="0.6"/>
<path d="M453.40,25.19L454.68,26.79L453.40,28.39L452.12,26.79Z" fill="#6a42b4" fill-opacity="1.0"/>
<line x1="503.12" y1="32.47" x2="503.12" y2="34.86" stroke="#3a7a52" stroke-width="0.6" stroke-opacity="0.6"/>
<path d="M503.12,32.07L504.40,33.67L503.12,35.27L501.84,33.67Z" fill="#3a7a52" fill-opacity="1.0"/>
<line x1="467.20" y1="22.48" x2="467.20" y2="28.56" stroke="#3a7a52" stroke-width="0.6" stroke-opacity="0.6"/>
<path d="M467.20,23.92L468.48,25.52L467.20,27.12L465.92,25.52Z" fill="#3a7a52" fill-opacity="1.0"/>
<line x1="477.56" y1="23.36" x2="477.56" y2="30.43" stroke="#3a7a52" stroke-width="0.6" stroke-opacity="0.6"/>
<path d="M477.56,25.29L478.84,26.89L477.56,28.49L476.28,26.89Z" fill="#3a7a52" fill-opacity="1.0"/>
<line x1="494.00" y1="30.69" x2="494.00" y2="34.04" stroke="#3a7a52" stroke-width="0.6" stroke-opacity="0.6"/>
<path d="M494.00,30.76L495.28,32.36L494.00,33.96L492.72,32.36Z" fill="#3a7a52" fill-opacity="1.0"/>
<line x1="519.46" y1="35.50" x2="519.46" y2="38.29" stroke="#3a7a52" stroke-width="0.6" stroke-opacity="0.6"/>
<path d="M519.46,35.30L520.74,36.90L519.46,38.50L518.18,36.90Z" fill="#3a7a52" fill-opacity="1.0"/>
<line x1="497.78" y1="37.98" x2="497.78" y2="44.10" stroke="#3a7a52" stroke-width="0.6" stroke-opacity="0.6"/>
<path d="M497.78,39.44L499.06,41.04L497.78,42.64L496.50,41.04Z" fill="#3a7a52" fill-opacity="1.0"/>
<path d="M482.69,25.46L483.97,27.06L482.69,28.66L481.41,27.06Z" fill="#3a7a52" fill-opacity="1.0"/>
<line x1="452.83" y1="21.75" x2="452.83" y2="23.67" stroke="#3a7a52" stroke-width="0.6" stroke-opacity="0.6"/>
<path d="M452.83,21.11L454.11,22.71L452.83,24.31L451.55,22.71Z" fill="#3a7a52" fill-opacity="1.0"/>
<line x1="468.37" y1="28.70" x2="468.37" y2="30.32" stroke="#3a7a52" stroke-width="0.6" stroke-opacity="0.6"/>
<path d="M468.37,27.91L469.65,29.51L468.37,31.11L467.09,29.51Z" fill="#3a7a52" fill-opacity="1.0"/>
<line x1="470.96" y1="28.11" x2="470.96" y2="31.12" stroke="#3a7a52" stroke-width="0.6" stroke-opacity="0.6"/>
<path d="M470.96,28.01L472.24,29.61L470.96,31.21L469.68,29.61Z" fill="#3a7a52" fill-opacity="1.0"/>
<path d="M470.50,25.62L471.78,27.22L470.50,28.82L469.22,27.22Z" fill="#3a7a52" fill-opacity="1.0"/>
<path d="M517.22,36.18L518.50,37.78L517.22,39.38L515.94,37.78Z" fill="#3a7a52" fill-opacity="1.0"/>
<line x1="484.30" y1="29.53" x2="484.30" y2="33.48" stroke="#3a7a52" stroke-width="0.6" stroke-opacity="0.6"/>
<path d="M484.30,29.91L485.58,31.51L484.30,33.11L483.02,31.51Z" fill="#3a7a52" fill-opacity="1.0"/>
<path d="M519.65,34.60L520.93,36.20L519.65,37.80L518.37,36.20Z" fill="#3a7a52" fill-opacity="1.0"/>
<line x1="491.43" y1="28.24" x2="491.43" y2="31.22" stroke="#3a7a52" stroke-width="0.6" stroke-opacity="0.6"/>
<path d="M491.43,28.13L492.71,29.73L491.43,31.33L490.15,29.73Z" fill="#3a7a52" fill-opacity="1.0"/>
<line x1="499.16" y1="31.04" x2="499.16" y2="35.76" stroke="#3a7a52" stroke-width="0.6" stroke-opacity="0.6"/>
<path d="M499.16,31.80L500.44,33.40L499.16,35.00L497.88,33.40Z" fill="#3a7a52" fill-opacity="1.0"/>
<line x1="487.63" y1="32.22" x2="487.63" y2="37.23" stroke="#3a7a52" stroke-width="0.6" stroke-opacity="0.6"/>
<path d="M487.63,33.13L488.91,34.73L487.63,36.33L486.35,34.73Z" fill="#3a7a52" fill-opacity="1.0"/>
<path d="M488.75,32.21L490.03,33.81L488.75,35.41L487.47,33.81Z" fill="#3a7a52" fill-opacity="1.0"/>
<line x1="508.34" y1="33.83" x2="508.34" y2="38.54" stroke="#3a7a52" stroke-width="0.6" stroke-opacity="0.6"/>
<path d="M508.34,34.58L509.62,36.18L508.34,37.78L507.06,36.18Z" fill="#3a7a52" fill-opacity="1.0"/>
<line x1="467.19" y1="21.74" x2="467.19" y2="24.26" stroke="#3a7a52" stroke-width="0.6" stroke-opacity="0.6"/>
<path d="M467.19,21.40L468.47,23.00L467.19,24.60L465.91,23.00Z" fill="#3a7a52" fill-opacity="1.0"/>
<line x1="508.86" y1="33.07" x2="508.86" y2="35.90" stroke="#3a7a52" stroke-width="0.6" stroke-opacity="0.6"/>
<path d="M508.86,32.88L510.14,34.48L508.86,36.08L507.58,34.48Z" fill="#3a7a52" fill-opacity="1.0"/>
<line x1="486.38" y1="29.85" x2="486.38" y2="35.03" stroke="#3a7a52" stroke-width="0.6" stroke-opacity="0.6"/>
<path d="M486.38,30.84L487.66,32.44L486.38,34.04L485.10,32.44Z" fill="#3a7a52" fill-opacity="1.0"/>
<path d="M487.12,34.75L488.40,36.35L487.12,37.95L485.84,36.35Z" fill="#3a7a52" fill-opacity="1.0"/>
<line x1="503.43" y1="24.59" x2="503.43" y2="28.18" stroke="#3a7a52" stroke-width="0.6" stroke-opacity="0.6"/>
<path d="M503.43,24.78L504.71,26.38L503.43,27.98L502.15,26.38Z" fill="#3a7a52" fill-opacity="1.0"/>
<path d="M463.01,26.56L464.29,28.16L463.01,29.76L461.73,28.16Z" fill="#3a7a52" fill-opacity="1.0"/>
<line x1="486.91" y1="27.18" x2="486.91" y2="28.91" stroke="#3a7a52" stroke-width="0.6" stroke-opacity="0.6"/>
<path d="M486.91,26.45L488.19,28.05L486.91,29.65L485.63,28.05Z" fill="#3a7a52" fill-opacity="1.0"/>
<path d="M469.28,28.01L470.56,29.61L469.28,31.21L468.00,29.61Z" fill="#3a7a52" fill-opacity="1.0"/>
<line x1="517.99" y1="32.22" x2="517.99" y2="34.32" stroke="#3a7a52" stroke-width="0.6" stroke-opacity="0.6"/>
<path d="M517.99,31.67L519.27,33.27L517.99,34.87L516.71,33.27Z" fill="#3a7a52" fill-opacity="1.0"/>
<line x1="509.25" y1="32.94" x2="509.25" y2="35.18" stroke="#3a7a52" stroke-width="0.6" stroke-opacity="0.6"/>
<path d="M509.25,32.46L510.53,34.06L509.25,35.66L507.97,34.06Z" fill="#3a7a52" fill-opacity="1.0"/>
<path d="M472.91,31.32L474.19,32.92L472.91,34.52L471.63,32.92Z" fill="#3a7a52" fill-opacity="1.0"/>
<path d="M496.36,27.82L497.64,29.42L496.36,31.02L495.08,29.42Z" fill="#3a7a52" fill-opacity="1.0"/>
<line x1="493.91" y1="35.66" x2="493.91" y2="39.58" stroke="#3a7a52" stroke-width="0.6" stroke-opacity="0.6"/>
<path d="M493.91,36.02L495.19,37.62L493.91,39.22L492.63,37.62Z" fill="#3a7a52" fill-opacity="1.0"/>
<line x1="462.37" y1="26.36" x2="462.37" y2="28.72" stroke="#3a7a52" stroke-width="0.6" stroke-opacity="0.6"/>
<path d="M462.37,25.94L463.65,27.54L462.37,29.14L461.09,27.54Z" fill="#3a7a52" fill-opacity="1.0"/>
<line x1="501.61" y1="32.77" x2="501.61" y2="38.91" stroke="#3a7a52" stroke-width="0.6" stroke-opacity="0.6"/>
<path d="M501.61,34.24L502.89,35.84L501.61,37.44L500.33,35.84Z" fill="#3a7a52" fill-opacity="1.0"/>
<line x1="454.02" y1="21.50" x2="454.02" y2="23.52" stroke="#3a7a52" stroke-width="0.6" stroke-opacity="0.6"/>
<path d="M454.02,20.91L455.30,22.51L454.02,24.11L452.74,22.51Z" fill="#3a7a52" fill-opacity="1.0"/>
<path d="M465.76,27.93L467.04,29.53L465.76,31.13L464.48,29.53Z" fill="#3a7a52" fill-opacity="1.0"/>
<line x1="486.41" y1="26.49" x2="486.41" y2="38.17" stroke="#3a7a52" stroke-width="0.6" stroke-opacity="0.6"/>
<path d="M486.41,30.73L487.69,32.33L486.41,33.93L485.13,32.33Z" fill="#3a7a52" fill-opacity="1.0"/>
<line x1="460.33" y1="20.43" x2="460.33" y2="22.26" stroke="#3a7a52" stroke-width="0.6" stroke-opacity="0.6"/>
<path d="M460.33,19.75L461.61,21.35L460.33,22.95L459.05,21.35Z" fill="#3a7a52" fill-opacity="1.0"/>
<line x1="452.37" y1="21.23" x2="452.37" y2="29.62" stroke="#3a7a52" stroke-width="0.6" stroke-opacity="0.6"/>
<path d="M452.37,23.82L453.65,25.42L452.37,27.02L451.09,25.42Z" fill="#3a7a52" fill-opacity="1.0"/>
<line x1="460.10" y1="23.59" x2="460.10" y2="25.69" stroke="#3a7a52" stroke-width="0.6" stroke-opacity="0.6"/>
<path d="M460.10,23.04L461.38,24.64L460.10,26.24L458.82,24.64Z" fill="#3a7a52" fill-opacity="1.0"/>
<path d="M481.49,30.61L482.77,32.21L481.49,33.81L480.21,32.21Z" fill="#3a7a52" fill-opacity="1.0"/>
<line x1="524.71" y1="40.00" x2="524.71" y2="46.48" stroke="#3a7a52" stroke-width="0.6" stroke-opacity="0.6"/>
<path d="M524.71,41.64L525.99,43.24L524.71,44.84L523.43,43.24Z" fill="#3a7a52" fill-opacity="1.0"/>
<line x1="466.78" y1="26.07" x2="466.78" y2="31.13" stroke="#3a7a52" stroke-width="0.6" stroke-opacity="0.6"/>
<path d="M466.78,27.00L468.06,28.60L466.78,30.20L465.50,28.60Z" fill="#3a7a52" fill-opacity="1.0"/>
<line x1="467.67" y1="19.64" x2="467.67" y2="21.86" stroke="#3a7a52" stroke-width="0.6" stroke-opacity="0.6"/>
<path d="M467.67,19.15L468.95,20.75L467.67,22.35L466.39,20.75Z" fill="#3a7a52" fill-opacity="1.0"/>
<line x1="476.92" y1="20.59" x2="476.92" y2="30.23" stroke="#3a7a52" stroke-width="0.6" stroke-opacity="0.6"/>
<path d="M476.92,23.81L478.20,25.41L476.92,27.01L475.64,25.41Z" fill="#3a7a52" fill-opacity="1.0"/>
<path d="M495.58,34.07L496.86,35.67L495.58,37.27L494.30,35.67Z" fill="#3a7a52" fill-opacity="1.0"/>
<path d="M498.52,33.92L499.80,35.52L498.52,37.12L497.24,35.52Z" fill="#3a7a52" fill-opacity="1.0"/>
<line x1="501.92" y1="33.95" x2="501.92" y2="37.97" stroke="#3a7a52" stroke-width="0.6" stroke-opacity="0.6"/>
<path d="M501.92,34.36L503.20,35.96L501.92,37.56L500.64,35.96Z" fill="#3a7a52" fill-opacity="1.0"/>
<path d="M516.41,31.21L517.69,32.81L516.41,34.41L515.13,32.81Z" fill="#3a7a52" fill-opacity="1.0"/>
<line x1="513.13" y1="27.89" x2="513.13" y2="32.63" stroke="#3a7a52" stroke-width="0.6" stroke-opacity="0.6"/>
<path d="M513.13,28.66L514.41,30.26L513.13,31.86L511.85,30.26Z" fill="#3a7a52" fill-opacity="1.0"/>
<line x1="465.68" y1="26.11" x2="465.68" y2="28.19" stroke="#3a7a52" stroke-width="0.6" stroke-opacity="0.6"/>
<path d="M465.68,25.55L466.96,27.15L465.68,28.75L464.40,27.15Z" fill="#3a7a52" fill-opacity="1.0"/>
<line x1="490.95" y1="31.88" x2="490.95" y2="34.20" stroke="#3a7a52" stroke-width="0.6" stroke-opacity="0.6"/>
<path d="M490.95,31.44L492.23,33.04L490.95,34.64L489.67,33.04Z" fill="#3a7a52" fill-opacity="1.0"/>
<path d="M465.61,23.82L466.89,25.42L465.61,27.02L464.33,25.42Z" fill="#3a7a52" fill-opacity="1.0"/>
<path d="M483.20,35.27L484.48,36.87L483.20,38.47L481.92,36.87Z" fill="#3a7a52" fill-opacity="1.0"/>
<line x1="514.62" y1="34.34" x2="514.62" y2="38.11" stroke="#3a7a52" stroke-width="0.6" stroke-opacity="0.6"/>
<path d="M514.62,34.63L515.90,36.23L514.62,37.83L513.34,36.23Z" fill="#3a7a52" fill-opacity="1.0"/>
<line x1="454.90" y1="22.64" x2="454.90" y2="26.18" stroke="#3a7a52" stroke-width="0.6" stroke-opacity="0.6"/>
<path d="M454.90,22.81L456.18,24.41L454.90,26.01L453.62,24.41Z" fill="#3a7a52" fill-opacity="1.0"/>
<path d="M470.15,30.03L471.43,31.63L470.15,33.23L468.87,31.63Z" fill="#3a7a52" fill-opacity="1.0"/>
<line x1="469.23" y1="19.97" x2="469.23" y2="25.62" stroke="#3a7a52" stroke-width="0.6" stroke-opacity="0.6"/>
<path d="M469.23,21.19L470.51,22.79L469.23,24.39L467.95,22.79Z" fill="#3a7a52" fill-opacity="1.0"/>
<line x1="503.47" y1="30.67" x2="503.47" y2="34.43" stroke="#3a7a52" stroke-width="0.6" stroke-opacity="0.6"/>
<path d="M503.47,30.95L504.75,32.55L503.47,34.15L502.19,32.55Z" fill="#3a7a52" fill-opacity="1.0"/>
<path d="M461.01,28.78L462.29,30.38L461.01,31.98L459.73,30.38Z" fill="#3a7a52" fill-opacity="1.0"/>
<line x1="507.29" y1="27.82" x2="507.29" y2="36.42" stroke="#3a7a52" stroke-width="0.6" stroke-opacity="0.6"/>
<path d="M507.29,30.52L508.57,32.12L507.29,33.72L506.01,32.12Z" fill="#3a7a52" fill-opacity="1.0"/>
<line x1="450.94" y1="21.28" x2="450.94" y2="24.82" stroke="#3a7a52" stroke-width="0.6" stroke-opacity="0.6"/>
<path d="M450.94,21.45L452.22,23.05L450.94,24.65L449.66,23.05Z" fill="#3a7a52" fill-opacity="1.0"/>
<line x1="455.69" y1="27.01" x2="455.69" y2="29.40" stroke="#3a7a52" stroke-width="0.6" stroke-opacity="0.6"/>
<path d="M455.69,26.61L456.97,28.21L455.69,29.81L454.41,28.21Z" fill="#3a7a52" fill-opacity="1.0"/>
<path d="M507.67,30.71L508.95,32.31L507.67,33.91L506.39,32.31Z" fill="#3a7a52" fill-opacity="1.0"/>
<path d="M479.18,29.62L480.46,31.22L479.18,32.82L477.90,31.22Z" fill="#3a7a52" fill-opacity="1.0"/>
<path d="M460.81,24.84L462.09,26.44L460.81,28.04L459.53,26.44Z" fill="#3a7a52" fill-opacity="1.0"/>
<line x1="473.01" y1="24.76" x2="473.01" y2="27.07" stroke="#3a7a52" stroke-width="0.6" stroke-opacity="0.6"/>
<path d="M473.01,24.31L474.29,25.91L473.01,27.51L471.73,25.91Z" fill="#3a7a52" fill-opacity="1.0"/>
<line x1="459.68" y1="24.65" x2="459.68" y2="27.64" stroke="#3a7a52" stroke-width="0.6" stroke-opacity="0.6"/>
<path d="M459.68,24.54L460.96,26.14L459.68,27.74L458.40,26.14Z" fill="#3a7a52" fill-opacity="1.0"/>
<line x1="504.25" y1="31.04" x2="504.25" y2="32.99" stroke="#3a7a52" stroke-width="0.6" stroke-opacity="0.6"/>
<path d="M504.25,30.41L505.53,32.01L504.25,33.61L502.97,32.01Z" fill="#3a7a52" fill-opacity="1.0"/>
<line x1="464.88" y1="24.08" x2="464.88" y2="30.28" stroke="#3a7a52" stroke-width="0.6" stroke-opacity="0.6"/>
<path d="M464.88,25.58L466.16,27.18L464.88,28.78L463.60,27.18Z" fill="#3a7a52" fill-opacity="1.0"/>
<line x1="480.04" y1="23.22" x2="480.04" y2="28.47" stroke="#3a7a52" stroke-width="0.6" stroke-opacity="0.6"/>
<path d="M480.04,24.24L481.32,25.84L480.04,27.44L478.76,25.84Z" fill="#3a7a52" fill-opacity="1.0"/>
<line x1="466.49" y1="25.99" x2="466.49" y2="29.55" stroke="#3a7a52" stroke-width="0.6" stroke-opacity="0.6"/>
<path d="M466.49,26.17L467.77,27.77L466.49,29.37L465.21,27.77Z" fill="#3a7a52" fill-opacity="1.0"/>
<path d="M465.71,27.65L466.99,29.25L465.71,30.85L464.43,29.25Z" fill="#3a7a52" fill-opacity="1.0"/>
<line x1="497.06" y1="24.82" x2="497.06" y2="27.75" stroke="#3a7a52" stroke-width="0.6" stroke-opacity="0.6"/>
<path d="M497.06,24.69L498.34,26.29L497.06,27.89L495.78,26.29Z" fill="#3a7a52" fill-opacity="1.0"/>
<line x1="523.16" y1="36.99" x2="523.16" y2="42.68" stroke="#3a7a52" stroke-width="0.6" stroke-opacity="0.6"/>
<path d="M523.16,38.24L524.44,39.84L523.16,41.44L521.88,39.84Z" fill="#3a7a52" fill-opacity="1.0"/>
<line x1="518.88" y1="36.13" x2="518.88" y2="42.10" stroke="#3a7a52" stroke-width="0.6" stroke-opacity="0.6"/>
<path d="M518.88,37.51L520.16,39.11L518.88,40.71L517.60,39.11Z" fill="#3a7a52" fill-opacity="1.0"/>
<line x1="499.79" y1="38.41" x2="499.79" y2="40.65" stroke="#3a7a52" stroke-width="0.6" stroke-opacity="0.6"/>
<path d="M499.79,37.93L501.07,39.53L499.79,41.13L498.51,39.53Z" fill="#3a7a52" fill-opacity="1.0"/>
<path d="M467.14,26.11L468.42,27.71L467.14,29.31L465.86,27.71Z" fill="#3a7a52" fill-opacity="1.0"/>
<path d="M481.73,28.79L483.01,30.39L481.73,31.99L480.45,30.39Z" fill="#3a7a52" fill-opacity="1.0"/>
<line x1="478.38" y1="26.92" x2="478.38" y2="31.06" stroke="#3a7a52" stroke-width="0.6" stroke-opacity="0.6"/>
<path d="M478.38,27.39L479.66,28.99L478.38,30.59L477.10,28.99Z" fill="#3a7a52" fill-opacity="1.0"/>
<line x1="470.55" y1="29.72" x2="470.55" y2="33.13" stroke="#3a7a52" stroke-width="0.6" stroke-opacity="0.6"/>
<path d="M470.55,29.82L471.83,31.42L470.55,33.02L469.27,31.42Z" fill="#3a7a52" fill-opacity="1.0"/>
<line x1="485.33" y1="31.64" x2="485.33" y2="36.76" stroke="#3a7a52" stroke-width="0.6" stroke-opacity="0.6"/>
<path d="M485.33,32.60L486.61,34.20L485.33,35.80L484.05,34.20Z" fill="#3a7a52" fill-opacity="1.0"/>
<line x1="467.53" y1="30.58" x2="467.53" y2="32.60" stroke="#3a7a52" stroke-width="0.6" stroke-opacity="0.6"/>
<path d="M467.53,29.99L468.81,31.59L467.53,33.19L466.25,31.59Z" fill="#3a7a52" fill-opacity="1.0"/>
<line x1="481.33" y1="31.99" x2="481.33" y2="36.28" stroke="#3a7a52" stroke-width="0.6" stroke-opacity="0.6"/>
<path d="M481.33,32.54L482.61,34.14L481.33,35.74L480.05,34.14Z" fill="#3a7a52" fill-opacity="1.0"/>
<line x1="502.42" y1="26.55" x2="502.42" y2="28.58" stroke="#3a7a52" stroke-width="0.6" stroke-opacity="0.6"/>
<path d="M502.42,25.96L503.70,27.56L502.42,29.16L501.14,27.56Z" fill="#3a7a52" fill-opacity="1.0"/>
<line x1="451.14" y1="20.80" x2="451.14" y2="23.20" stroke="#3a7a52" stroke-width="0.6" stroke-opacity="0.6"/>
<path d="M451.14,20.40L452.42,22.00L451.14,23.60L449.86,22.00Z" fill="#3a7a52" fill-opacity="1.0"/>
<path d="M454.16,22.85L455.44,24.45L454.16,26.05L452.88,24.45Z" fill="#3a7a52" fill-opacity="1.0"/>
<line x1="486.86" y1="26.98" x2="486.86" y2="29.29" stroke="#3a7a52" stroke-width="0.6" stroke-opacity="0.6"/>
<path d="M486.86,26.53L488.14,28.13L486.86,29.73L485.58,28.13Z" fill="#3a7a52" fill-opacity="1.0"/>
<path d="M474.01,28.50L475.29,30.10L474.01,31.70L472.73,30.10Z" fill="#3a7a52" fill-opacity="1.0"/>
<line x1="475.64" y1="32.43" x2="475.64" y2="35.68" stroke="#3a7a52" stroke-width="0.6" stroke-opacity="0.6"/>
<path d="M475.64,32.46L476.92,34.06L475.64,35.66L474.36,34.06Z" fill="#3a7a52" fill-opacity="1.0"/>
<line x1="469.20" y1="26.92" x2="469.20" y2="29.15" stroke="#3a7a52" stroke-width="0.6" stroke-opacity="0.6"/>
<path d="M469.20,26.43L470.48,28.03L469.20,29.63L467.92,28.03Z" fill="#3a7a52" fill-opacity="1.0"/>
<line x1="484.88" y1="21.52" x2="484.88" y2="28.11" stroke="#3a7a52" stroke-width="0.6" stroke-opacity="0.6"/>
<path d="M484.88,23.21L486.16,24.81L484.88,26.41L483.60,24.81Z" fill="#3a7a52" fill-opacity="1.0"/>
<line x1="476.81" y1="20.84" x2="476.81" y2="25.24" stroke="#3a7a52" stroke-width="0.6" stroke-opacity="0.6"/>
<path d="M476.81,21.44L478.09,23.04L476.81,24.64L475.53,23.04Z" fill="#3a7a52" fill-opacity="1.0"/>
<line x1="507.72" y1="28.04" x2="507.72" y2="32.03" stroke="#3a7a52" stroke-width="0.6" stroke-opacity="0.6"/>
<path d="M507.72,28.44L509.00,30.04L507.72,31.64L506.44,30.04Z" fill="#3a7a52" fill-opacity="1.0"/>
<line x1="480.47" y1="28.01" x2="480.47" y2="29.64" stroke="#3a7a52" stroke-width="0.6" stroke-opacity="0.6"/>
<path d="M480.47,27.22L481.75,28.82L480.47,30.42L479.19,28.82Z" fill="#3a7a52" fill-opacity="1.0"/>
<line x1="512.12" y1="35.84" x2="512.12" y2="38.53" stroke="#3a7a52" stroke-width="0.6" stroke-opacity="0.6"/>
<path d="M512.12,35.58L513.40,37.18L512.12,38.78L510.84,37.18Z" fill="#3a7a52" fill-opacity="1.0"/>
<path d="M518.17,37.77L519.45,39.37L518.17,40.97L516.89,39.37Z" fill="#3a7a52" fill-opacity="1.0"/>
<line x1="487.74" y1="28.66" x2="487.74" y2="32.19" stroke="#3a7a52" stroke-width="0.6" stroke-opacity="0.6"/>
<path d="M487.74,28.82L489.02,30.42L487.74,32.02L486.46,30.42Z" fill="#3a7a52" fill-opacity="1.0"/>
<line x1="523.26" y1="41.85" x2="523.26" y2="43.96" stroke="#3a7a52" stroke-width="0.6" stroke-opacity="0.6"/>
<path d="M523.26,41.31L524.54,42.91L523.26,44.51L521.98,42.91Z" fill="#3a7a52" fill-opacity="1.0"/>
<line x1="466.67" y1="26.23" x2="466.67" y2="28.88" stroke="#3a7a52" stroke-width="0.6" stroke-opacity="0.6"/>
<path d="M466.67,25.95L467.95,27.55L466.67,29.15L465.39,27.55Z" fill="#3a7a52" fill-opacity="1.0"/>
<path d="M449.47,19.15L450.75,20.75L449.47,22.35L448.19,20.75Z" fill="#3a7a52" fill-opacity="1.0"/>
<path d="M467.49,22.02L468.77,23.62L467.49,25.22L466.21,23.62Z" fill="#3a7a52" fill-opacity="1.0"/>
<line x1="490.84" y1="26.70" x2="490.84" y2="30.31" stroke="#3a7a52" stroke-width="0.6" stroke-opacity="0.6"/>
<path d="M490.84,26.91L492.12,28.51L490.84,30.11L489.56,28.51Z" fill="#3a7a52" fill-opacity="1.0"/>
<path d="M512.23,36.22L513.51,37.82L512.23,39.42L510.95,37.82Z" fill="#3a7a52" fill-opacity="1.0"/>
<line x1="475.61" y1="31.66" x2="475.61" y2="33.93" stroke="#3a7a52" stroke-width="0.6" stroke-opacity="0.6"/>
<path d="M475.61,31.19L476.89,32.79L475.61,34.39L474.33,32.79Z" fill="#3a7a52" fill-opacity="1.0"/>
<line x1="503.53" y1="28.24" x2="503.53" y2="33.98" stroke="#3a7a52" stroke-width="0.6" stroke-opacity="0.6"/>
<path d="M503.53,29.51L504.81,31.11L503.53,32.71L502.25,31.11Z" fill="#3a7a52" fill-opacity="1.0"/>
<line x1="522.27" y1="40.59" x2="522.27" y2="42.69" stroke="#3a7a52" stroke-width="0.6" stroke-opacity="0.6"/>
<path d="M522.27,40.04L523.55,41.64L522.27,43.24L520.99,41.64Z" fill="#3a7a52" fill-opacity="1.0"/>
<path d="M496.39,25.98L497.67,27.58L496.39,29.18L495.11,27.58Z" fill="#3a7a52" fill-opacity="1.0"/>
<line x1="477.34" y1="26.20" x2="477.34" y2="32.68" stroke="#3a7a52" stroke-width="0.6" stroke-opacity="0.6"/>
<path d="M477.34,27.84L478.62,29.44L477.34,31.04L476.06,29.44Z" fill="#3a7a52" fill-opacity="1.0"/>
<line x1="489.77" y1="30.45" x2="489.77" y2="33.47" stroke="#3a7a52" stroke-width="0.6" stroke-opacity="0.6"/>
<path d="M489.77,30.36L491.05,31.96L489.77,33.56L488.49,31.96Z" fill="#3a7a52" fill-opacity="1.0"/>
<line x1="473.97" y1="29.85" x2="473.97" y2="34.16" stroke="#3a7a52" stroke-width="0.6" stroke-opacity="0.6"/>
<path d="M473.97,30.41L475.25,32.01L473.97,33.61L472.69,32.01Z" fill="#3a7a52" fill-opacity="1.0"/>
<path d="M458.93,26.35L460.21,27.95L458.93,29.55L457.65,27.95Z" fill="#3a7a52" fill-opacity="1.0"/>
<line x1="457.13" y1="24.79" x2="457.13" y2="26.67" stroke="#3a7a52" stroke-width="0.6" stroke-opacity="0.6"/>
<path d="M457.13,24.13L458.41,25.73L457.13,27.33L455.85,25.73Z" fill="#3a7a52" fill-opacity="1.0"/>
<line x1="483.54" y1="29.76" x2="483.54" y2="34.30" stroke="#3a7a52" stroke-width="0.6" stroke-opacity="0.6"/>
<path d="M483.54,30.43L484.82,32.03L483.54,33.63L482.26,32.03Z" fill="#3a7a52" fill-opacity="1.0"/>
<line x1="461.69" y1="29.27" x2="461.69" y2="35.28" stroke="#3a7a52" stroke-width="0.6" stroke-opacity="0.6"/>
<path d="M461.69,30.67L462.97,32.27L461.69,33.87L460.41,32.27Z" fill="#3a7a52" fill-opacity="1.0"/>
<line x1="453.44" y1="22.77" x2="453.44" y2="27.53" stroke="#3a7a52" stroke-width="0.6" stroke-opacity="0.6"/>
<path d="M453.44,23.55L454.72,25.15L453.44,26.75L452.16,25.15Z" fill="#3a7a52" fill-opacity="1.0"/>
<line x1="509.61" y1="27.55" x2="509.61" y2="31.53" stroke="#3a7a52" stroke-width="0.6" stroke-opacity="0.6"/>
<path d="M509.61,27.94L510.89,29.54L509.61,31.14L508.33,29.54Z" fill="#3a7a52" fill-opacity="1.0"/>
<line x1="468.44" y1="26.60" x2="468.44" y2="30.07" stroke="#3a7a52" stroke-width="0.6" stroke-opacity="0.6"/>
<path d="M468.44,26.74L469.72,28.34L468.44,29.94L467.16,28.34Z" fill="#3a7a52" fill-opacity="1.0"/>
<line x1="474.64" y1="26.81" x2="474.64" y2="34.49" stroke="#3a7a52" stroke-width="0.6" stroke-opacity="0.6"/>
<path d="M474.64,29.05L475.92,30.65L474.64,32.25L473.36,30.65Z" fill="#3a7a52" fill-opacity="1.0"/>
<line x1="512.04" y1="30.31" x2="512.04" y2="32.02" stroke="#3a7a52" stroke-width="0.6" stroke-opacity="0.6"/>
<path d="M512.04,29.57L513.32,31.17L512.04,32.77L510.76,31.17Z" fill="#3a7a52" fill-opacity="1.0"/>
<line x1="502.84" y1="25.39" x2="502.84" y2="30.66" stroke="#3a7a52" stroke-width="0.6" stroke-opacity="0.6"/>
<path d="M502.84,26.43L504.12,28.03L502.84,29.63L501.56,28.03Z" fill="#3a7a52" fill-opacity="1.0"/>
<line x1="509.97" y1="35.18" x2="509.97" y2="37.93" stroke="#3a7a52" stroke-width="0.6" stroke-opacity="0.6"/>
<path d="M509.97,34.96L511.25,36.56L509.97,38.16L508.69,36.56Z" fill="#3a7a52" fill-opacity="1.0"/>
<line x1="500.00" y1="31.59" x2="500.00" y2="34.13" stroke="#3a7a52" stroke-width="0.6" stroke-opacity="0.6"/>
<path d="M500.00,31.26L501.28,32.86L500.00,34.46L498.72,32.86Z" fill="#3a7a52" fill-opacity="1.0"/>
<line x1="450.44" y1="14.68" x2="450.44" y2="19.55" stroke="#3a7a52" stroke-width="0.6" stroke-opacity="0.6"/>
<path d="M450.44,15.51L451.72,17.11L450.44,18.71L449.16,17.11Z" fill="#3a7a52" fill-opacity="1.0"/>
<line x1="522.76" y1="42.49" x2="522.76" y2="47.04" stroke="#3a7a52" stroke-width="0.6" stroke-opacity="0.6"/>
<path d="M522.76,43.17L524.04,44.77L522.76,46.37L521.48,44.77Z" fill="#3a7a52" fill-opacity="1.0"/>
<line x1="481.10" y1="27.42" x2="481.10" y2="30.37" stroke="#3a7a52" stroke-width="0.6" stroke-opacity="0.6"/>
<path d="M481.10,27.30L482.38,28.90L481.10,30.50L479.82,28.90Z" fill="#3a7a52" fill-opacity="1.0"/>
<path d="M519.96,38.26L521.24,39.86L519.96,41.46L518.68,39.86Z" fill="#3a7a52" fill-opacity="1.0"/>
<path d="M503.32,32.12L504.60,33.72L503.32,35.32L502.04,33.72Z" fill="#3a7a52" fill-opacity="1.0"/>
<line x1="471.02" y1="21.87" x2="471.02" y2="34.50" stroke="#3a7a52" stroke-width="0.6" stroke-opacity="0.6"/>
<path d="M471.02,26.58L472.30,28.18L471.02,29.78L469.74,28.18Z" fill="#3a7a52" fill-opacity="1.0"/>
<path d="M458.48,24.58L459.76,26.18L458.48,27.78L457.20,26.18Z" fill="#3a7a52" fill-opacity="1.0"/>
<path d="M490.42,26.71L491.70,28.31L490.42,29.91L489.14,28.31Z" fill="#3a7a52" fill-opacity="1.0"/>
<line x1="472.78" y1="28.39" x2="472.78" y2="35.65" stroke="#3a7a52" stroke-width="0.6" stroke-opacity="0.6"/>
<path d="M472.78,30.42L474.06,32.02L472.78,33.62L471.50,32.02Z" fill="#3a7a52" fill-opacity="1.0"/>
<line x1="470.85" y1="23.87" x2="470.85" y2="27.36" stroke="#3a7a52" stroke-width="0.6" stroke-opacity="0.6"/>
<path d="M470.85,24.02L472.13,25.62L470.85,27.22L469.57,25.62Z" fill="#3a7a52" fill-opacity="1.0"/>
<path d="M507.26,35.36L508.54,36.96L507.26,38.56L505.98,36.96Z" fill="#3a7a52" fill-opacity="1.0"/>
<line x1="501.87" y1="25.57" x2="501.87" y2="27.61" stroke="#3a7a52" stroke-width="0.6" stroke-opacity="0.6"/>
<path d="M501.87,24.99L503.15,26.59L501.87,28.19L500.59,26.59Z" fill="#3a7a52" fill-opacity="1.0"/>
<line x1="460.51" y1="27.04" x2="460.51" y2="28.74" stroke="#3a7a52" stroke-width="0.6" stroke-opacity="0.6"/>
<path d="M460.51,26.29L461.79,27.89L460.51,29.49L459.23,27.89Z" fill="#3a7a52" fill-opacity="1.0"/>
<line x1="519.98" y1="36.38" x2="519.98" y2="41.01" stroke="#3a7a52" stroke-width="0.6" stroke-opacity="0.6"/>
<path d="M519.98,37.10L521.26,38.70L519.98,40.30L518.70,38.70Z" fill="#3a7a52" fill-opacity="1.0"/>
<path d="M458.50,24.67L459.78,26.27L458.50,27.87L457.22,26.27Z" fill="#3a7a52" fill-opacity="1.0"/>
<line x1="492.18" y1="32.77" x2="492.18" y2="37.17" stroke="#3a7a52" stroke-width="0.6" stroke-opacity="0.6"/>
<path d="M492.18,33.37L493.46,34.97L492.18,36.57L490.90,34.97Z" fill="#3a7a52" fill-opacity="1.0"/>
<line x1="470.12" y1="27.66" x2="470.12" y2="32.20" stroke="#3a7a52" stroke-width="0.6" stroke-opacity="0.6"/>
<path d="M470.12,28.33L471.40,29.93L470.12,31.53L468.84,29.93Z" fill="#3a7a52" fill-opacity="1.0"/>
<path d="M477.06,29.05L478.34,30.65L477.06,32.25L475.78,30.65Z" fill="#3a7a52" fill-opacity="1.0"/>
<line x1="454.27" y1="26.82" x2="454.27" y2="28.97" stroke="#3a7a52" stroke-width="0.6" stroke-opacity="0.6"/>
<path d="M454.27,26.30L455.55,27.90L454.27,29.50L452.99,27.90Z" fill="#3a7a52" fill-opacity="1.0"/>
<line x1="455.33" y1="25.36" x2="455.33" y2="29.55" stroke="#3a7a52" stroke-width="0.6" stroke-opacity="0.6"/>
<path d="M455.33,25.86L456.61,27.46L455.33,29.06L454.05,27.46Z" fill="#3a7a52" fill-opacity="1.0"/>
<line x1="524.79" y1="41.12" x2="524.79" y2="48.80" stroke="#3a7a52" stroke-width="0.6" stroke-opacity="0.6"/>
<path d="M524.79,43.36L526.07,44.96L524.79,46.56L523.51,44.96Z" fill="#3a7a52" fill-opacity="1.0"/>
<line x1="486.01" y1="24.10" x2="486.01" y2="27.81" stroke="#3a7a52" stroke-width="0.6" stroke-opacity="0.6"/>
<path d="M486.01,24.36L487.29,25.96L486.01,27.56L484.73,25.96Z" fill="#3a7a52" fill-opacity="1.0"/>
<line x1="479.33" y1="34.53" x2="479.33" y2="36.32" stroke="#3a7a52" stroke-width="0.6" stroke-opacity="0.6"/>
<path d="M479.33,33.83L480.61,35.43L479.33,37.03L478.05,35.43Z" fill="#3a7a52" fill-opacity="1.0"/>
<line x1="499.06" y1="29.29" x2="499.06" y2="31.54" stroke="#3a7a52" stroke-width="0.6" stroke-opacity="0.6"/>
<path d="M499.06,28.82L500.34,30.42L499.06,32.02L497.78,30.42Z" fill="#3a7a52" fill-opacity="1.0"/>
<line x1="520.38" y1="41.87" x2="520.38" y2="51.54" stroke="#3a7a52" stroke-width="0.6" stroke-opacity="0.6"/>
<path d="M520.38,45.11L521.66,46.71L520.38,48.31L519.10,46.71Z" fill="#3a7a52" fill-opacity="1.0"/>
<line x1="482.91" y1="31.56" x2="482.91" y2="37.11" stroke="#3a7a52" stroke-width="0.6" stroke-opacity="0.6"/>
<path d="M482.91,32.73L484.19,34.33L482.91,35.93L481.63,34.33Z" fill="#3a7a52" fill-opacity="1.0"/>
<path d="M462.69,28.24L463.97,29.84L462.69,31.44L461.41,29.84Z" fill="#3a7a52" fill-opacity="1.0"/>
<line x1="458.38" y1="28.73" x2="458.38" y2="30.44" stroke="#3a7a52" stroke-width="0.6" stroke-opacity="0.6"/>
<path d="M458.38,27.98L459.66,29.58L458.38,31.18L457.10,29.58Z" fill="#3a7a52" fill-opacity="1.0"/>
<line x1="506.37" y1="29.43" x2="506.37" y2="33.90" stroke="#3a7a52" stroke-width="0.6" stroke-opacity="0.6"/>
<path d="M506.37,30.06L507.65,31.66L506.37,33.26L505.09,31.66Z" fill="#3a7a52" fill-opacity="1.0"/>
<line x1="450.19" y1="21.76" x2="450.19" y2="31.57" stroke="#3a7a52" stroke-width="0.6" stroke-opacity="0.6"/>
<path d="M450.19,25.06L451.47,26.66L450.19,28.26L448.91,26.66Z" fill="#3a7a52" fill-opacity="1.0"/>
<path d="M450.23,16.35L451.51,17.95L450.23,19.55L448.95,17.95Z" fill="#3a7a52" fill-opacity="1.0"/>
<line x1="509.30" y1="31.57" x2="509.30" y2="35.59" stroke="#3a7a52" stroke-width="0.6" stroke-opacity="0.6"/>
<path d="M509.30,31.98L510.58,33.58L509.30,35.18L508.02,33.58Z" fill="#3a7a52" fill-opacity="1.0"/>
<line x1="510.11" y1="33.98" x2="510.11" y2="40.02" stroke="#3a7a52" stroke-width="0.6" stroke-opacity="0.6"/>
<path d="M510.11,35.40L511.39,37.00L510.11,38.60L508.83,37.00Z" fill="#3a7a52" fill-opacity="1.0"/>
<line x1="523.94" y1="46.31" x2="523.94" y2="52.11" stroke="#3a7a52" stroke-width="0.6" stroke-opacity="0.6"/>
<path d="M523.94,47.61L525.22,49.21L523.94,50.81L522.66,49.21Z" fill="#3a7a52" fill-opacity="1.0"/>
<line x1="479.81" y1="29.05" x2="479.81" y2="31.96" stroke="#3a7a52" stroke-width="0.6" stroke-opacity="0.6"/>
<path d="M479.81,28.90L481.09,30.50L479.81,32.10L478.53,30.50Z" fill="#3a7a52" fill-opacity="1.0"/>
<path d="M518.17,40.55L519.45,42.15L518.17,43.75L516.89,42.15Z" fill="#3a7a52" fill-opacity="1.0"/>
<line x1="466.58" y1="24.77" x2="466.58" y2="27.25" stroke="#3a7a52" stroke-width="0.6" stroke-opacity="0.6"/>
<path d="M466.58,24.41L467.86,26.01L466.58,27.61L465.30,26.01Z" fill="#3a7a52" fill-opacity="1.0"/>
<line x1="499.07" y1="32.00" x2="499.07" y2="35.54" stroke="#3a7a52" stroke-width="0.6" stroke-opacity="0.6"/>
<path d="M499.07,32.17L500.35,33.77L499.07,35.37L497.79,33.77Z" fill="#3a7a52" fill-opacity="1.0"/>
<line x1="497.63" y1="29.29" x2="497.63" y2="31.86" stroke="#3a7a52" stroke-width="0.6" stroke-opacity="0.6"/>
<path d="M497.63,28.97L498.91,30.57L497.63,32.17L496.35,30.57Z" fill="#3a7a52" fill-opacity="1.0"/>
<line x1="517.83" y1="35.76" x2="517.83" y2="37.36" stroke="#3a7a52" stroke-width="0.6" stroke-opacity="0.6"/>
<path d="M517.83,34.96L519.11,36.56L517.83,38.16L516.55,36.56Z" fill="#3a7a52" fill-opacity="1.0"/>
<line x1="474.71" y1="28.75" x2="474.71" y2="31.50" stroke="#3a7a52" stroke-width="0.6" stroke-opacity="0.6"/>
<path d="M474.71,28.53L475.99,30.13L474.71,31.73L473.43,30.13Z" fill="#3a7a52" fill-opacity="1.0"/>
<line x1="505.59" y1="27.10" x2="505.59" y2="28.83" stroke="#3a7a52" stroke-width="0.6" stroke-opacity="0.6"/>
<path d="M505.59,26.36L506.87,27.96L505.59,29.56L504.31,27.96Z" fill="#3a7a52" fill-opacity="1.0"/>
<path d="M462.80,27.69L464.08,29.29L462.80,30.89L461.52,29.29Z" fill="#3a7a52" fill-opacity="1.0"/>
<path d="M475.89,28.44L477.17,30.04L475.89,31.64L474.61,30.04Z" fill="#3a7a52" fill-opacity="1.0"/>
<line x1="487.39" y1="28.02" x2="487.39" y2="30.03" stroke="#3a7a52" stroke-width="0.6" stroke-opacity="0.6"/>
<path d="M487.39,27.43L488.67,29.03L487.39,30.63L486.11,29.03Z" fill="#3a7a52" fill-opacity="1.0"/>
<path d="M490.01,32.48L491.29,34.08L490.01,35.68L488.73,34.08Z" fill="#3a7a52" fill-opacity="1.0"/>
<line x1="515.96" y1="30.39" x2="515.96" y2="36.43" stroke="#3a7a52" stroke-width="0.6" stroke-opacity="0.6"/>
<path d="M515.96,31.81L517.24,33.41L515.96,35.01L514.68,33.41Z" fill="#3a7a52" fill-opacity="1.0"/>
<path d="M457.59,28.55L458.87,30.15L457.59,31.75L456.31,30.15Z" fill="#3a7a52" fill-opacity="1.0"/>
<line x1="522.18" y1="39.29" x2="522.18" y2="43.31" stroke="#3a7a52" stroke-width="0.6" stroke-opacity="0.6"/>
<path d="M522.18,39.70L523.46,41.30L522.18,42.90L520.90,41.30Z" fill="#3a7a52" fill-opacity="1.0"/>
<line x1="502.78" y1="32.70" x2="502.78" y2="35.58" stroke="#3a7a52" stroke-width="0.6" stroke-opacity="0.6"/>
<path d="M502.78,32.54L504.06,34.14L502.78,35.74L501.50,34.14Z" fill="#3a7a52" fill-opacity="1.0"/>
<path d="M500.60,34.06L501.88,35.66L500.60,37.26L499.32,35.66Z" fill="#3a7a52" fill-opacity="1.0"/>
<line x1="463.27" y1="16.34" x2="463.27" y2="25.78" stroke="#3a7a52" stroke-width="0.6" stroke-opacity="0.6"/>
<path d="M463.27,19.46L464.55,21.06L463.27,22.66L461.99,21.06Z" fill="#3a7a52" fill-opacity="1.0"/>
<line x1="460.60" y1="23.35" x2="460.60" y2="26.27" stroke="#3a7a52" stroke-width="0.6" stroke-opacity="0.6"/>
<path d="M460.60,23.21L461.88,24.81L460.60,26.41L459.32,24.81Z" fill="#3a7a52" fill-opacity="1.0"/>
<line x1="498.08" y1="30.87" x2="498.08" y2="36.25" stroke="#3a7a52" stroke-width="0.6" stroke-opacity="0.6"/>
<path d="M498.08,31.96L499.36,33.56L498.08,35.16L496.80,33.56Z" fill="#3a7a52" fill-opacity="1.0"/>
<line x1="516.50" y1="37.30" x2="516.50" y2="41.72" stroke="#3a7a52" stroke-width="0.6" stroke-opacity="0.6"/>
<path d="M516.50,37.91L517.78,39.51L516.50,41.11L515.22,39.51Z" fill="#3a7a52" fill-opacity="1.0"/>
<path d="M487.57,28.42L488.85,30.02L487.57,31.62L486.29,30.02Z" fill="#3a7a52" fill-opacity="1.0"/>
<line x1="512.71" y1="31.26" x2="512.71" y2="35.34" stroke="#3a7a52" stroke-width="0.6" stroke-opacity="0.6"/>
<path d="M512.71,31.70L513.99,33.30L512.71,34.90L511.43,33.30Z" fill="#3a7a52" fill-opacity="1.0"/>
<line x1="499.71" y1="28.50" x2="499.71" y2="30.41" stroke="#3a7a52" stroke-width="0.6" stroke-opacity="0.6"/>
<path d="M499.71,27.86L500.99,29.46L499.71,31.06L498.43,29.46Z" fill="#3a7a52" fill-opacity="1.0"/>
<line x1="466.79" y1="23.37" x2="466.79" y2="26.45" stroke="#3a7a52" stroke-width="0.6" stroke-opacity="0.6"/>
<path d="M466.79,23.31L468.07,24.91L466.79,26.51L465.51,24.91Z" fill="#3a7a52" fill-opacity="1.0"/>
<path d="M488.35,35.03L489.63,36.63L488.35,38.23L487.07,36.63Z" fill="#3a7a52" fill-opacity="1.0"/>
<line x1="483.18" y1="25.93" x2="483.18" y2="28.90" stroke="#3a7a52" stroke-width="0.6" stroke-opacity="0.6"/>
<path d="M483.18,25.81L484.46,27.41L483.18,29.01L481.90,27.41Z" fill="#3a7a52" fill-opacity="1.0"/>
<line x1="519.83" y1="39.11" x2="519.83" y2="42.79" stroke="#3a7a52" stroke-width="0.6" stroke-opacity="0.6"/>
<path d="M519.83,39.35L521.11,40.95L519.83,42.55L518.55,40.95Z" fill="#3a7a52" fill-opacity="1.0"/>
<line x1="524.46" y1="40.58" x2="524.46" y2="44.04" stroke="#3a7a52" stroke-width="0.6" stroke-opacity="0.6"/>
<path d="M524.46,40.71L525.74,42.31L524.46,43.91L523.18,42.31Z" fill="#3a7a52" fill-opacity="1.0"/>
<path d="M505.10,35.17L506.38,36.77L505.10,38.37L503.82,36.77Z" fill="#3a7a52" fill-opacity="1.0"/>
<line x1="514.98" y1="38.66" x2="514.98" y2="47.34" stroke="#3a7a52" stroke-width="0.6" stroke-opacity="0.6"/>
<path d="M514.98,41.40L516.26,43.00L514.98,44.60L513.70,43.00Z" fill="#3a7a52" fill-opacity="1.0"/>
<line x1="486.53" y1="28.47" x2="486.53" y2="36.09" stroke="#3a7a52" stroke-width="0.6" stroke-opacity="0.6"/>
<path d="M486.53,30.68L487.81,32.28L486.53,33.88L485.25,32.28Z" fill="#3a7a52" fill-opacity="1.0"/>
<line x1="498.48" y1="37.25" x2="498.48" y2="40.12" stroke="#3a7a52" stroke-width="0.6" stroke-opacity="0.6"/>
<path d="M498.48,37.09L499.76,38.69L498.48,40.29L497.20,38.69Z" fill="#3a7a52" fill-opacity="1.0"/>
<path d="M551.91,63.45L553.11,64.95L551.91,66.45L550.71,64.95Z" fill="#3a7a52" fill-opacity="1.0"/>
<line x1="522.59" y1="45.02" x2="522.59" y2="49.62" stroke="#3a7a52" stroke-width="0.6" stroke-opacity="0.6"/>
<path d="M522.59,45.82L523.79,47.32L522.59,48.82L521.39,47.32Z" fill="#3a7a52" fill-opacity="1.0"/>
<line x1="530.03" y1="48.45" x2="530.03" y2="52.57" stroke="#3a7a52" stroke-width="0.6" stroke-opacity="0.6"/>
<path d="M530.03,49.01L531.23,50.51L530.03,52.01L528.83,50.51Z" fill="#3a7a52" fill-opacity="1.0"/>
<line x1="541.45" y1="60.49" x2="541.45" y2="62.47" stroke="#3a7a52" stroke-width="0.6" stroke-opacity="0.6"/>
<path d="M541.45,59.98L542.65,61.48L541.45,62.98L540.25,61.48Z" fill="#3a7a52" fill-opacity="1.0"/>
<path d="M531.18,47.27L532.38,48.77L531.18,50.27L529.98,48.77Z" fill="#3a7a52" fill-opacity="1.0"/>
<line x1="542.20" y1="59.13" x2="542.20" y2="63.65" stroke="#3a7a52" stroke-width="0.6" stroke-opacity="0.6"/>
<path d="M542.20,59.89L543.40,61.39L542.20,62.89L541.00,61.39Z" fill="#3a7a52" fill-opacity="1.0"/>
<line x1="529.67" y1="47.46" x2="529.67" y2="54.94" stroke="#3a7a52" stroke-width="0.6" stroke-opacity="0.6"/>
<path d="M529.67,49.70L530.87,51.20L529.67,52.70L528.47,51.20Z" fill="#3a7a52" fill-opacity="1.0"/>
<line x1="550.83" y1="65.55" x2="550.83" y2="68.20" stroke="#3a7a52" stroke-width="0.6" stroke-opacity="0.6"/>
<path d="M550.83,65.38L552.03,66.88L550.83,68.38L549.63,66.88Z" fill="#3a7a52" fill-opacity="1.0"/>
<line x1="551.87" y1="80.06" x2="551.87" y2="83.18" stroke="#3a7a52" stroke-width="0.6" stroke-opacity="0.6"/>
<path d="M551.87,80.12L553.07,81.62L551.87,83.12L550.67,81.62Z" fill="#3a7a52" fill-opacity="1.0"/>
<path d="M524.01,46.20L525.21,47.70L524.01,49.20L522.81,47.70Z" fill="#3a7a52" fill-opacity="1.0"/>
<line x1="554.59" y1="87.55" x2="554.59" y2="89.28" stroke="#3a7a52" stroke-width="0.6" stroke-opacity="0.6"/>
<path d="M554.59,86.91L555.79,88.41L554.59,89.91L553.39,88.41Z" fill="#3a7a52" fill-opacity="1.0"/>
<line x1="527.27" y1="37.22" x2="527.27" y2="42.23" stroke="#3a7a52" stroke-width="0.6" stroke-opacity="0.6"/>
<path d="M527.27,38.23L528.47,39.73L527.27,41.23L526.07,39.73Z" fill="#3a7a52" fill-opacity="1.0"/>
<path d="M544.68,62.33L545.88,63.83L544.68,65.33L543.48,63.83Z" fill="#3a7a52" fill-opacity="1.0"/>
<line x1="559.51" y1="88.99" x2="559.51" y2="94.42" stroke="#3a7a52" stroke-width="0.6" stroke-opacity="0.6"/>
<path d="M559.51,90.20L560.71,91.70L559.51,93.20L558.31,91.70Z" fill="#3a7a52" fill-opacity="1.0"/>
<line x1="555.06" y1="86.96" x2="555.06" y2="89.58" stroke="#3a7a52" stroke-width="0.6" stroke-opacity="0.6"/>
<path d="M555.06,86.77L556.26,88.27L555.06,89.77L553.86,88.27Z" fill="#3a7a52" fill-opacity="1.0"/>
<path d="M546.74,64.08L547.94,65.58L546.74,67.08L545.54,65.58Z" fill="#3a7a52" fill-opacity="1.0"/>
<line x1="533.58" y1="47.07" x2="533.58" y2="52.24" stroke="#3a7a52" stroke-width="0.6" stroke-opacity="0.6"/>
<path d="M533.58,48.15L534.78,49.65L533.58,51.15L532.38,49.65Z" fill="#3a7a52" fill-opacity="1.0"/>
<line x1="531.14" y1="42.43" x2="531.14" y2="46.15" stroke="#3a7a52" stroke-width="0.6" stroke-opacity="0.6"/>
<path d="M531.14,42.79L532.34,44.29L531.14,45.79L529.94,44.29Z" fill="#3a7a52" fill-opacity="1.0"/>
<line x1="527.23" y1="48.98" x2="527.23" y2="53.41" stroke="#3a7a52" stroke-width="0.6" stroke-opacity="0.6"/>
<path d="M527.23,49.69L528.43,51.19L527.23,52.69L526.03,51.19Z" fill="#3a7a52" fill-opacity="1.0"/>
<path d="M538.66,57.03L539.86,58.53L538.66,60.03L537.46,58.53Z" fill="#3a7a52" fill-opacity="1.0"/>
<line x1="557.64" y1="85.54" x2="557.64" y2="87.94" stroke="#3a7a52" stroke-width="0.6" stroke-opacity="0.6"/>
<path d="M557.64,85.24L558.84,86.74L557.64,88.24L556.44,86.74Z" fill="#3a7a52" fill-opacity="1.0"/>
<path d="M527.85,52.32L529.05,53.82L527.85,55.32L526.65,53.82Z" fill="#3a7a52" fill-opacity="1.0"/>
<line x1="549.45" y1="68.47" x2="549.45" y2="71.12" stroke="#3a7a52" stroke-width="0.6" stroke-opacity="0.6"/>
<path d="M549.45,68.30L550.65,69.80L549.45,71.30L548.25,69.80Z" fill="#3a7a52" fill-opacity="1.0"/>
<line x1="536.33" y1="56.46" x2="536.33" y2="60.95" stroke="#3a7a52" stroke-width="0.6" stroke-opacity="0.6"/>
<path d="M536.33,57.21L537.53,58.71L536.33,60.21L535.13,58.71Z" fill="#3a7a52" fill-opacity="1.0"/>
<line x1="536.99" y1="55.60" x2="536.99" y2="59.31" stroke="#3a7a52" stroke-width="0.6" stroke-opacity="0.6"/>
<path d="M536.99,55.96L538.19,57.46L536.99,58.96L535.79,57.46Z" fill="#3a7a52" fill-opacity="1.0"/>
<path d="M538.27,44.43L539.47,45.93L538.27,47.43L537.07,45.93Z" fill="#3a7a52" fill-opacity="1.0"/>
<line x1="533.85" y1="50.10" x2="533.85" y2="52.90" stroke="#3a7a52" stroke-width="0.6" stroke-opacity="0.6"/>
<path d="M533.85,50.00L535.05,51.50L533.85,53.00L532.65,51.50Z" fill="#3a7a52" fill-opacity="1.0"/>
<line x1="543.17" y1="55.10" x2="543.17" y2="63.03" stroke="#3a7a52" stroke-width="0.6" stroke-opacity="0.6"/>
<path d="M543.17,57.57L544.37,59.07L543.17,60.57L541.97,59.07Z" fill="#3a7a52" fill-opacity="1.0"/>
<line x1="531.46" y1="51.87" x2="531.46" y2="56.63" stroke="#3a7a52" stroke-width="0.6" stroke-opacity="0.6"/>
<path d="M531.46,52.75L532.66,54.25L531.46,55.75L530.26,54.25Z" fill="#3a7a52" fill-opacity="1.0"/>
<line x1="538.20" y1="59.85" x2="538.20" y2="61.45" stroke="#3a7a52" stroke-width="0.6" stroke-opacity="0.6"/>
<path d="M538.20,59.15L539.40,60.65L538.20,62.15L537.00,60.65Z" fill="#3a7a52" fill-opacity="1.0"/>
<line x1="549.73" y1="67.83" x2="549.73" y2="70.42" stroke="#3a7a52" stroke-width="0.6" stroke-opacity="0.6"/>
<path d="M549.73,67.62L550.93,69.12L549.73,70.62L548.53,69.12Z" fill="#3a7a52" fill-opacity="1.0"/>
<path d="M522.57,37.74L523.77,39.24L522.57,40.74L521.37,39.24Z" fill="#3a7a52" fill-opacity="1.0"/>
<path d="M537.64,58.17L538.84,59.67L537.64,61.17L536.44,59.67Z" fill="#3a7a52" fill-opacity="1.0"/>
<line x1="547.80" y1="65.59" x2="547.80" y2="68.24" stroke="#3a7a52" stroke-width="0.6" stroke-opacity="0.6"/>
<path d="M547.80,65.42L549.00,66.92L547.80,68.42L546.60,66.92Z" fill="#3a7a52" fill-opacity="1.0"/>
<line x1="536.46" y1="58.29" x2="536.46" y2="64.56" stroke="#3a7a52" stroke-width="0.6" stroke-opacity="0.6"/>
<path d="M536.46,59.93L537.66,61.43L536.46,62.93L535.26,61.43Z" fill="#3a7a52" fill-opacity="1.0"/>
<line x1="530.07" y1="44.31" x2="530.07" y2="46.06" stroke="#3a7a52" stroke-width="0.6" stroke-opacity="0.6"/>
<path d="M530.07,43.69L531.27,45.19L530.07,46.69L528.87,45.19Z" fill="#3a7a52" fill-opacity="1.0"/>
<line x1="552.82" y1="83.35" x2="552.82" y2="87.67" stroke="#3a7a52" stroke-width="0.6" stroke-opacity="0.6"/>
<path d="M552.82,84.01L554.02,85.51L552.82,87.01L551.62,85.51Z" fill="#3a7a52" fill-opacity="1.0"/>
<line x1="541.84" y1="65.14" x2="541.84" y2="70.12" stroke="#3a7a52" stroke-width="0.6" stroke-opacity="0.6"/>
<path d="M541.84,66.13L543.04,67.63L541.84,69.13L540.64,67.63Z" fill="#3a7a52" fill-opacity="1.0"/>
<line x1="523.54" y1="38.94" x2="523.54" y2="41.87" stroke="#3a7a52" stroke-width="0.6" stroke-opacity="0.6"/>
<path d="M523.54,38.90L524.74,40.40L523.54,41.90L522.34,40.40Z" fill="#3a7a52" fill-opacity="1.0"/>
<line x1="548.92" y1="67.23" x2="548.92" y2="70.44" stroke="#3a7a52" stroke-width="0.6" stroke-opacity="0.6"/>
<path d="M548.92,67.33L550.12,68.83L548.92,70.33L547.72,68.83Z" fill="#3a7a52" fill-opacity="1.0"/>
<path d="M555.92,89.43L557.12,90.93L555.92,92.43L554.72,90.93Z" fill="#3a7a52" fill-opacity="1.0"/>
<path d="M545.32,57.68L546.52,59.18L545.32,60.68L544.12,59.18Z" fill="#3a7a52" fill-opacity="1.0"/>
<line x1="538.59" y1="51.50" x2="538.59" y2="56.96" stroke="#3a7a52" stroke-width="0.6" stroke-opacity="0.6"/>
<path d="M538.59,52.73L539.79,54.23L538.59,55.73L537.39,54.23Z" fill="#3a7a52" fill-opacity="1.0"/>
<line x1="544.22" y1="73.10" x2="544.22" y2="75.12" stroke="#3a7a52" stroke-width="0.6" stroke-opacity="0.6"/>
<path d="M544.22,72.61L545.42,74.11L544.22,75.61L543.02,74.11Z" fill="#3a7a52" fill-opacity="1.0"/>
<line x1="559.70" y1="81.02" x2="559.70" y2="85.62" stroke="#3a7a52" stroke-width="0.6" stroke-opacity="0.6"/>
<path d="M559.70,81.82L560.90,83.32L559.70,84.82L558.50,83.32Z" fill="#3a7a52" fill-opacity="1.0"/>
<line x1="470.00" y1="19.86" x2="470.00" y2="23.86" stroke="#3a7a52" stroke-width="0.7" stroke-opacity="0.6"/>
<path d="M470.00,20.36L471.20,21.86L470.00,23.36L468.80,21.86Z" fill="#3a7a52" fill-opacity="1.0"/>
<line x1="475.80" y1="19.98" x2="475.80" y2="23.98" stroke="#3a7a52" stroke-width="0.7" stroke-opacity="0.6"/>
<path d="M475.80,20.48L477.00,21.98L475.80,23.48L474.60,21.98Z" fill="#3a7a52" fill-opacity="1.0"/>
<line x1="483.40" y1="20.69" x2="483.40" y2="24.69" stroke="#3a7a52" stroke-width="0.7" stroke-opacity="0.6"/>
<path d="M483.40,21.19L484.60,22.69L483.40,24.19L482.20,22.69Z" fill="#3a7a52" fill-opacity="1.0"/>
<line x1="489.30" y1="18.46" x2="489.30" y2="22.46" stroke="#3a7a52" stroke-width="0.7" stroke-opacity="0.6"/>
<path d="M489.30,18.96L490.50,20.46L489.30,21.96L488.10,20.46Z" fill="#3a7a52" fill-opacity="1.0"/>
<line x1="494.30" y1="19.41" x2="494.30" y2="23.41" stroke="#3a7a52" stroke-width="0.7" stroke-opacity="0.6"/>
<path d="M494.30,19.91L495.50,21.41L494.30,22.91L493.10,21.41Z" fill="#3a7a52" fill-opacity="1.0"/>
<line x1="498.50" y1="19.26" x2="498.50" y2="23.26" stroke="#3a7a52" stroke-width="0.7" stroke-opacity="0.6"/>
<path d="M498.50,19.76L499.70,21.26L498.50,22.76L497.30,21.26Z" fill="#3a7a52" fill-opacity="1.0"/>
<line x1="505.00" y1="19.87" x2="505.00" y2="23.87" stroke="#3a7a52" stroke-width="0.7" stroke-opacity="0.6"/>
<path d="M505.00,20.37L506.20,21.87L505.00,23.37L503.80,21.87Z" fill="#3a7a52" fill-opacity="1.0"/>
<line x1="512.00" y1="18.82" x2="512.00" y2="22.82" stroke="#3a7a52" stroke-width="0.7" stroke-opacity="0.6"/>
<path d="M512.00,19.32L513.20,20.82L512.00,22.32L510.80,20.82Z" fill="#3a7a52" fill-opacity="1.0"/>
<line x1="559.39" y1="89.14" x2="559.39" y2="91.93" stroke="#6a42b4" stroke-width="0.6" stroke-opacity="0.6"/>
<path d="M559.39,89.03L560.59,90.53L559.39,92.03L558.19,90.53Z" fill="#6a42b4" fill-opacity="1.0"/>
<line x1="508.58" y1="58.02" x2="508.58" y2="61.05" stroke="#6a42b4" stroke-width="0.6" stroke-opacity="0.6"/>
<path d="M508.58,58.03L509.78,59.53L508.58,61.03L507.38,59.53Z" fill="#6a42b4" fill-opacity="1.0"/>
<line x1="505.01" y1="60.04" x2="505.01" y2="63.80" stroke="#6a42b4" stroke-width="0.6" stroke-opacity="0.6"/>
<path d="M505.01,60.42L506.21,61.92L505.01,63.42L503.81,61.92Z" fill="#6a42b4" fill-opacity="1.0"/>
<line x1="537.38" y1="73.10" x2="537.38" y2="75.39" stroke="#6a42b4" stroke-width="0.6" stroke-opacity="0.6"/>
<path d="M537.38,72.75L538.58,74.25L537.38,75.75L536.18,74.25Z" fill="#6a42b4" fill-opacity="1.0"/>
<line x1="548.67" y1="74.88" x2="548.67" y2="80.04" stroke="#6a42b4" stroke-width="0.6" stroke-opacity="0.6"/>
<path d="M548.67,75.96L549.87,77.46L548.67,78.96L547.47,77.46Z" fill="#6a42b4" fill-opacity="1.0"/>
<path d="M507.18,59.75L508.38,61.25L507.18,62.75L505.98,61.25Z" fill="#6a42b4" fill-opacity="1.0"/>
<line x1="551.58" y1="84.34" x2="551.58" y2="86.52" stroke="#6a42b4" stroke-width="0.6" stroke-opacity="0.6"/>
<path d="M551.58,83.93L552.78,85.43L551.58,86.93L550.38,85.43Z" fill="#6a42b4" fill-opacity="1.0"/>
<line x1="501.45" y1="55.09" x2="501.45" y2="58.09" stroke="#6a42b4" stroke-width="0.6" stroke-opacity="0.6"/>
<path d="M501.45,55.09L502.65,56.59L501.45,58.09L500.25,56.59Z" fill="#6a42b4" fill-opacity="1.0"/>
<line x1="532.02" y1="74.21" x2="532.02" y2="77.62" stroke="#6a42b4" stroke-width="0.6" stroke-opacity="0.6"/>
<path d="M532.02,74.42L533.22,75.92L532.02,77.42L530.82,75.92Z" fill="#6a42b4" fill-opacity="1.0"/>
<path d="M518.09,64.49L519.29,65.99L518.09,67.49L516.89,65.99Z" fill="#6a42b4" fill-opacity="1.0"/>
<path d="M534.07,72.62L535.27,74.12L534.07,75.62L532.87,74.12Z" fill="#6a42b4" fill-opacity="1.0"/>
<line x1="530.73" y1="69.07" x2="530.73" y2="74.07" stroke="#6a42b4" stroke-width="0.6" stroke-opacity="0.6"/>
<path d="M530.73,70.07L531.93,71.57L530.73,73.07L529.53,71.57Z" fill="#6a42b4" fill-opacity="1.0"/>
<path d="M514.81,63.37L516.01,64.87L514.81,66.37L513.61,64.87Z" fill="#6a42b4" fill-opacity="1.0"/>
<path d="M513.06,60.45L514.26,61.95L513.06,63.45L511.86,61.95Z" fill="#6a42b4" fill-opacity="1.0"/>
<path d="M527.56,70.50L528.76,72.00L527.56,73.50L526.36,72.00Z" fill="#6a42b4" fill-opacity="1.0"/>
<line x1="551.01" y1="80.11" x2="551.01" y2="86.68" stroke="#6a42b4" stroke-width="0.6" stroke-opacity="0.6"/>
<path d="M551.01,81.89L552.21,83.39L551.01,84.89L549.81,83.39Z" fill="#6a42b4" fill-opacity="1.0"/>
<line x1="531.50" y1="69.14" x2="531.50" y2="71.43" stroke="#6a42b4" stroke-width="0.6" stroke-opacity="0.6"/>
<path d="M531.50,68.79L532.70,70.29L531.50,71.79L530.30,70.29Z" fill="#6a42b4" fill-opacity="1.0"/>
<path d="M551.83,82.14L553.03,83.64L551.83,85.14L550.63,83.64Z" fill="#6a42b4" fill-opacity="1.0"/>
<line x1="500.64" y1="57.76" x2="500.64" y2="62.31" stroke="#6a42b4" stroke-width="0.6" stroke-opacity="0.6"/>
<path d="M500.64,58.53L501.84,60.03L500.64,61.53L499.44,60.03Z" fill="#6a42b4" fill-opacity="1.0"/>
<line x1="544.07" y1="74.91" x2="544.07" y2="76.61" stroke="#6a42b4" stroke-width="0.6" stroke-opacity="0.6"/>
<path d="M544.07,74.26L545.27,75.76L544.07,77.26L542.87,75.76Z" fill="#6a42b4" fill-opacity="1.0"/>
<path d="M531.86,72.45L533.06,73.95L531.86,75.45L530.66,73.95Z" fill="#6a42b4" fill-opacity="1.0"/>
<path d="M518.05,68.69L519.25,70.19L518.05,71.69L516.85,70.19Z" fill="#6a42b4" fill-opacity="1.0"/>
<path d="M550.86,80.56L552.06,82.06L550.86,83.56L549.66,82.06Z" fill="#6a42b4" fill-opacity="1.0"/>
<path d="M504.70,58.58L505.90,60.08L504.70,61.58L503.50,60.08Z" fill="#6a42b4" fill-opacity="1.0"/>
<line x1="555.13" y1="85.00" x2="555.13" y2="88.05" stroke="#6a42b4" stroke-width="0.6" stroke-opacity="0.6"/>
<path d="M555.13,85.03L556.33,86.53L555.13,88.03L553.93,86.53Z" fill="#6a42b4" fill-opacity="1.0"/>
<line x1="539.24" y1="76.47" x2="539.24" y2="81.21" stroke="#6a42b4" stroke-width="0.6" stroke-opacity="0.6"/>
<path d="M539.24,77.34L540.44,78.84L539.24,80.34L538.04,78.84Z" fill="#6a42b4" fill-opacity="1.0"/>
<path d="M534.07,67.21L535.27,68.71L534.07,70.21L532.87,68.71Z" fill="#6a42b4" fill-opacity="1.0"/>
<line x1="523.67" y1="66.37" x2="523.67" y2="71.05" stroke="#6a42b4" stroke-width="0.6" stroke-opacity="0.6"/>
<path d="M523.67,67.21L524.87,68.71L523.67,70.21L522.47,68.71Z" fill="#6a42b4" fill-opacity="1.0"/>
<line x1="515.50" y1="63.10" x2="515.50" y2="65.45" stroke="#6a42b4" stroke-width="0.6" stroke-opacity="0.6"/>
<path d="M515.50,62.77L516.70,64.27L515.50,65.77L514.30,64.27Z" fill="#6a42b4" fill-opacity="1.0"/>
<line x1="528.61" y1="69.11" x2="528.61" y2="71.58" stroke="#6a42b4" stroke-width="0.6" stroke-opacity="0.6"/>
<path d="M528.61,68.85L529.81,70.35L528.61,71.85L527.41,70.35Z" fill="#6a42b4" fill-opacity="1.0"/>
<line x1="527.05" y1="74.29" x2="527.05" y2="76.04" stroke="#6a42b4" stroke-width="0.6" stroke-opacity="0.6"/>
<path d="M527.05,73.66L528.25,75.16L527.05,76.66L525.85,75.16Z" fill="#6a42b4" fill-opacity="1.0"/>
<path d="M503.70,55.32L504.90,56.82L503.70,58.32L502.50,56.82Z" fill="#6a42b4" fill-opacity="1.0"/>
<path d="M523.98,68.61L525.18,70.11L523.98,71.61L522.78,70.11Z" fill="#6a42b4" fill-opacity="1.0"/>
<line x1="522.32" y1="66.63" x2="522.32" y2="69.80" stroke="#6a42b4" stroke-width="0.6" stroke-opacity="0.6"/>
<path d="M522.32,66.72L523.52,68.22L522.32,69.72L521.12,68.22Z" fill="#6a42b4" fill-opacity="1.0"/>
<line x1="513.82" y1="63.27" x2="513.82" y2="66.73" stroke="#6a42b4" stroke-width="0.6" stroke-opacity="0.6"/>
<path d="M513.82,63.50L515.02,65.00L513.82,66.50L512.62,65.00Z" fill="#6a42b4" fill-opacity="1.0"/>
<line x1="500.54" y1="50.73" x2="500.54" y2="55.05" stroke="#6a42b4" stroke-width="0.6" stroke-opacity="0.6"/>
<path d="M500.54,51.39L501.74,52.89L500.54,54.39L499.34,52.89Z" fill="#6a42b4" fill-opacity="1.0"/>
<line x1="500.42" y1="50.82" x2="500.42" y2="55.04" stroke="#6a42b4" stroke-width="0.6" stroke-opacity="0.6"/>
<path d="M500.42,51.43L501.62,52.93L500.42,54.43L499.22,52.93Z" fill="#6a42b4" fill-opacity="1.0"/>
<line x1="521.94" y1="66.47" x2="521.94" y2="68.13" stroke="#6a42b4" stroke-width="0.6" stroke-opacity="0.6"/>
<path d="M521.94,65.80L523.14,67.30L521.94,68.80L520.74,67.30Z" fill="#6a42b4" fill-opacity="1.0"/>
<line x1="518.07" y1="63.58" x2="518.07" y2="66.11" stroke="#6a42b4" stroke-width="0.6" stroke-opacity="0.6"/>
<path d="M518.07,63.35L519.27,64.85L518.07,66.35L516.87,64.85Z" fill="#6a42b4" fill-opacity="1.0"/>
<path d="M518.91,63.38L520.11,64.88L518.91,66.38L517.71,64.88Z" fill="#6a42b4" fill-opacity="1.0"/>
<path d="M545.23,75.82L546.43,77.32L545.23,78.82L544.03,77.32Z" fill="#6a42b4" fill-opacity="1.0"/>
<line x1="515.12" y1="62.51" x2="515.12" y2="67.82" stroke="#6a42b4" stroke-width="0.6" stroke-opacity="0.6"/>
<path d="M515.12,63.66L516.32,65.16L515.12,66.66L513.92,65.16Z" fill="#6a42b4" fill-opacity="1.0"/>
<line x1="525.53" y1="70.82" x2="525.53" y2="73.16" stroke="#6a42b4" stroke-width="0.6" stroke-opacity="0.6"/>
<path d="M525.53,70.49L526.73,71.99L525.53,73.49L524.33,71.99Z" fill="#6a42b4" fill-opacity="1.0"/>
<path d="M517.15,64.76L518.35,66.26L517.15,67.76L515.95,66.26Z" fill="#6a42b4" fill-opacity="1.0"/>
<line x1="559.05" y1="89.80" x2="559.05" y2="92.13" stroke="#6a42b4" stroke-width="0.6" stroke-opacity="0.6"/>
<path d="M559.05,89.46L560.25,90.96L559.05,92.46L557.85,90.96Z" fill="#6a42b4" fill-opacity="1.0"/>
<line x1="481.96" y1="41.40" x2="481.96" y2="46.19" stroke="#d42a2a" stroke-width="0.6" stroke-opacity="0.6"/>
<path d="M480.46,43.79H483.46M481.96,42.29V45.29" stroke="#d42a2a" stroke-width="0.9"/>
<line x1="515.30" y1="62.04" x2="515.30" y2="63.82" stroke="#d42a2a" stroke-width="0.6" stroke-opacity="0.6"/>
<path d="M513.80,62.93H516.80M515.30,61.43V64.43" stroke="#d42a2a" stroke-width="0.9"/>
<line x1="454.32" y1="23.85" x2="454.32" y2="26.54" stroke="#d42a2a" stroke-width="0.6" stroke-opacity="0.6"/>
<path d="M452.82,25.20H455.82M454.32,23.70V26.70" stroke="#d42a2a" stroke-width="0.9"/>
<path d="M543.04,73.62H546.04M544.54,72.12V75.12" stroke="#d42a2a" stroke-width="0.9"/>
<line x1="545.26" y1="72.64" x2="545.26" y2="76.59" stroke="#d42a2a" stroke-width="0.6" stroke-opacity="0.6"/>
<path d="M543.76,74.61H546.76M545.26,73.11V76.11" stroke="#d42a2a" stroke-width="0.9"/>
<line x1="449.97" y1="24.14" x2="449.97" y2="27.25" stroke="#d42a2a" stroke-width="0.6" stroke-opacity="0.6"/>
<path d="M448.47,25.70H451.47M449.97,24.20V27.20" stroke="#d42a2a" stroke-width="0.9"/>
<path d="M517.63,66.92H520.63M519.13,65.42V68.42" stroke="#d42a2a" stroke-width="0.9"/>
<line x1="457.09" y1="28.17" x2="457.09" y2="31.34" stroke="#d42a2a" stroke-width="0.6" stroke-opacity="0.6"/>
<path d="M455.59,29.76H458.59M457.09,28.26V31.26" stroke="#d42a2a" stroke-width="0.9"/>
<line x1="526.51" y1="60.83" x2="526.51" y2="63.10" stroke="#d42a2a" stroke-width="0.6" stroke-opacity="0.6"/>
<path d="M525.01,61.96H528.01M526.51,60.46V63.46" stroke="#d42a2a" stroke-width="0.9"/>
<line x1="494.22" y1="48.21" x2="494.22" y2="49.99" stroke="#d42a2a" stroke-width="0.6" stroke-opacity="0.6"/>
<path d="M492.72,49.10H495.72M494.22,47.60V50.60" stroke="#d42a2a" stroke-width="0.9"/>
<path d="M523.28,64.71H526.28M524.78,63.21V66.21" stroke="#d42a2a" stroke-width="0.9"/>
<line x1="534.97" y1="65.01" x2="534.97" y2="68.28" stroke="#d42a2a" stroke-width="0.6" stroke-opacity="0.6"/>
<path d="M533.47,66.65H536.47M534.97,65.15V68.15" stroke="#d42a2a" stroke-width="0.9"/>
<line x1="461.02" y1="31.90" x2="461.02" y2="33.65" stroke="#d42a2a" stroke-width="0.6" stroke-opacity="0.6"/>
<path d="M459.52,32.77H462.52M461.02,31.27V34.27" stroke="#d42a2a" stroke-width="0.9"/>
<line x1="547.27" y1="69.12" x2="547.27" y2="71.62" stroke="#d42a2a" stroke-width="0.6" stroke-opacity="0.6"/>
<path d="M545.77,70.37H548.77M547.27,68.87V71.87" stroke="#d42a2a" stroke-width="0.9"/>
<line x1="471.06" y1="31.75" x2="471.06" y2="33.65" stroke="#d42a2a" stroke-width="0.6" stroke-opacity="0.6"/>
<path d="M469.56,32.70H472.56M471.06,31.20V34.20" stroke="#d42a2a" stroke-width="0.9"/>
<line x1="535.51" y1="71.02" x2="535.51" y2="75.29" stroke="#d42a2a" stroke-width="0.6" stroke-opacity="0.6"/>
<path d="M534.01,73.16H537.01M535.51,71.66V74.66" stroke="#d42a2a" stroke-width="0.9"/>
<path d="M496.37,51.92H499.37M497.87,50.42V53.42" stroke="#d42a2a" stroke-width="0.9"/>
<line x1="488.13" y1="38.20" x2="488.13" y2="44.32" stroke="#d42a2a" stroke-width="0.6" stroke-opacity="0.6"/>
<path d="M486.63,41.26H489.63M488.13,39.76V42.76" stroke="#d42a2a" stroke-width="0.9"/>
<line x1="500.05" y1="47.29" x2="500.05" y2="50.05" stroke="#d42a2a" stroke-width="0.6" stroke-opacity="0.6"/>
<path d="M498.55,48.67H501.55M500.05,47.17V50.17" stroke="#d42a2a" stroke-width="0.9"/>
<line x1="529.28" y1="68.22" x2="529.28" y2="71.26" stroke="#d42a2a" stroke-width="0.6" stroke-opacity="0.6"/>
<path d="M527.78,69.74H530.78M529.28,68.24V71.24" stroke="#d42a2a" stroke-width="0.9"/>
<path d="M464.98,31.65H467.98M466.48,30.15V33.15" stroke="#d42a2a" stroke-width="0.9"/>
<line x1="484.93" y1="43.21" x2="484.93" y2="45.59" stroke="#d42a2a" stroke-width="0.6" stroke-opacity="0.6"/>
<path d="M483.43,44.40H486.43M484.93,42.90V45.90" stroke="#d42a2a" stroke-width="0.9"/>
<path d="M508.58,52.33H511.58M510.08,50.83V53.83" stroke="#d42a2a" stroke-width="0.9"/>
<line x1="508.32" y1="54.68" x2="508.32" y2="57.05" stroke="#d42a2a" stroke-width="0.6" stroke-opacity="0.6"/>
<path d="M506.82,55.87H509.82M508.32,54.37V57.37" stroke="#d42a2a" stroke-width="0.9"/>
<path d="M507.80,46.50H510.80M509.30,45.00V48.00" stroke="#d42a2a" stroke-width="0.9"/>
<line x1="483.06" y1="40.34" x2="483.06" y2="42.41" stroke="#d42a2a" stroke-width="0.6" stroke-opacity="0.6"/>
<path d="M481.56,41.37H484.56M483.06,39.87V42.87" stroke="#d42a2a" stroke-width="0.9"/>
<line x1="476.21" y1="36.30" x2="476.21" y2="40.20" stroke="#d42a2a" stroke-width="0.6" stroke-opacity="0.6"/>
<path d="M474.71,38.25H477.71M476.21,36.75V39.75" stroke="#d42a2a" stroke-width="0.9"/>
<line x1="475.77" y1="42.55" x2="475.77" y2="44.74" stroke="#d42a2a" stroke-width="0.6" stroke-opacity="0.6"/>
<path d="M474.27,43.64H477.27M475.77,42.14V45.14" stroke="#d42a2a" stroke-width="0.9"/>
<line x1="488.14" y1="42.18" x2="488.14" y2="45.31" stroke="#d42a2a" stroke-width="0.6" stroke-opacity="0.6"/>
<path d="M486.64,43.75H489.64M488.14,42.25V45.25" stroke="#d42a2a" stroke-width="0.9"/>
<line x1="512.77" y1="47.65" x2="512.77" y2="50.64" stroke="#d42a2a" stroke-width="0.6" stroke-opacity="0.6"/>
<path d="M511.27,49.15H514.27M512.77,47.65V50.65" stroke="#d42a2a" stroke-width="0.9"/>
<line x1="453.10" y1="17.60" x2="453.10" y2="24.60" stroke="#d42a2a" stroke-width="0.7" stroke-opacity="0.8"/>
<path d="M453.10,19.80L454.54,21.60L453.10,23.40L451.66,21.60Z" fill="#6a42b4" fill-opacity="1.0"/>
<line x1="461.90" y1="21.20" x2="461.90" y2="28.20" stroke="#d42a2a" stroke-width="0.7" stroke-opacity="0.8"/>
<path d="M461.90,23.40L463.34,25.20L461.90,27.00L460.46,25.20Z" fill="#6a42b4" fill-opacity="1.0"/>
<path d="M467.50,30.40H471.50M469.50,28.40V32.40" stroke="#d42a2a" stroke-width="1.0"/>
<path d="M481.60,41.60H485.60M483.60,39.60V43.60" stroke="#d42a2a" stroke-width="1.0"/>
<polyline points="497.49,48.54 500.10,49.80 502.62,51.10 505.13,52.46 507.65,53.86 510.17,55.28 512.68,56.70 515.20,58.10 517.78,59.53 520.42,61.00 523.07,62.48 525.64,63.91 528.08,65.23 530.30,66.40 532.30,67.38 534.15,68.21 535.85,68.94 537.43,69.61 538.91,70.28 540.30,71.00 541.59,71.73 542.77,72.43 543.84,73.13 544.83,73.86 545.74,74.64 546.60,75.50 547.39,76.48 548.11,77.57 548.76,78.72 549.34,79.87 549.85,80.98 550.30,82.00 550.67,82.94 550.94,83.85 551.16,84.72 551.32,85.54 551.46,86.30 551.60,87.00 551.72,87.65 551.81,88.26 551.88,88.81 551.93,89.30 551.97,89.70 552.00,90.00" fill="none" stroke="#d42a2a" stroke-width="1.3" stroke-linejoin="round" stroke-linecap="round" />
<polyline points="449.40,25.70 450.56,26.33 452.17,27.20 454.07,28.22 456.12,29.34 458.15,30.45 460.00,31.50 461.73,32.51 463.47,33.54 465.19,34.58 466.87,35.60 468.48,36.58 470.00,37.50 471.41,38.33 472.72,39.10 473.96,39.82 475.17,40.53 476.37,41.25 477.60,42.00 478.84,42.77 480.07,43.54 481.29,44.33 482.52,45.12 483.75,45.94 485.00,46.80 486.27,47.71 487.56,48.66 488.85,49.64 490.14,50.63 491.43,51.59 492.70,52.50 493.95,53.37 495.18,54.20 496.40,55.02 497.62,55.82 498.85,56.61 500.10,57.40 501.37,58.19 502.66,58.99 503.95,59.77 505.24,60.54 506.53,61.29 507.80,62.00 509.05,62.67 510.28,63.30 511.50,63.90 512.72,64.49 513.95,65.09 515.20,65.70 516.47,66.34 517.76,66.99 519.05,67.64 520.34,68.29 521.63,68.91 522.90,69.50 524.07,70.04 525.12,70.53 526.16,71.00 527.30,71.47 528.65,71.96 530.30,72.50 532.44,73.11 535.02,73.77 537.80,74.45 540.55,75.12 543.03,75.75 545.00,76.30 546.42,76.73 547.46,77.06 548.23,77.34 548.84,77.63 549.39,78.00 550.00,78.50 550.62,79.15 551.17,79.90 551.66,80.72 552.12,81.59 552.56,82.46 553.00,83.30 553.46,84.16 553.91,85.07 554.35,85.99 554.76,86.87 555.11,87.66 555.40,88.30 555.61,88.79 555.76,89.17 555.85,89.46 555.91,89.68 555.96,89.85 556.00,90.00" fill="none" stroke="#6a42b4" stroke-width="1.3" stroke-linejoin="round" stroke-linecap="round" />
<polyline points="449.40,25.70 451.21,26.19 453.73,26.87 456.71,27.68 459.89,28.52 463.00,29.32 465.80,30.00 468.30,30.58 470.73,31.13 473.09,31.63 475.41,32.09 477.71,32.48 480.00,32.80 482.28,33.02 484.53,33.13 486.75,33.19 488.96,33.22 491.18,33.28 493.40,33.40 495.69,33.58 498.06,33.79 500.43,34.01 502.73,34.26 504.87,34.52 506.80,34.80 508.49,35.08 510.01,35.38 511.39,35.69 512.64,36.02 513.80,36.39 514.90,36.80 515.89,37.25 516.73,37.73 517.47,38.24 518.19,38.79 518.91,39.38 519.70,40.00 520.55,40.67 521.43,41.40 522.32,42.17 523.21,42.95 524.11,43.73 525.00,44.50 525.87,45.23 526.71,45.93 527.56,46.62 528.43,47.35 529.34,48.13 530.30,49.00 531.32,49.96 532.38,50.99 533.48,52.08 534.62,53.21 535.79,54.35 537.00,55.50 538.30,56.65 539.72,57.81 541.17,58.99 542.58,60.19 543.88,61.43 545.00,62.70 545.91,64.02 546.67,65.38 547.31,66.77 547.89,68.18 548.44,69.59 549.00,71.00 549.56,72.42 550.09,73.86 550.59,75.30 551.07,76.73 551.54,78.14 552.00,79.50 552.46,80.86 552.93,82.24 553.38,83.59 553.80,84.87 554.18,86.02 554.50,87.00 554.77,87.80 554.98,88.44 555.16,88.97 555.30,89.39 555.41,89.73 555.50,90.00" fill="none" stroke="#3a7a52" stroke-width="1.3" stroke-linejoin="round" stroke-linecap="round" />
</g>
<g clip-path="url(#cTc)">
<polyline points="327.00,166.40 335.50,164.80 345.00,160.60 350.60,143.20 353.60,147.30 356.50,150.30 364.00,154.20 373.50,155.30 383.00,156.50 393.50,159.90 401.10,161.40 409.30,165.30 420.50,164.90 431.10,165.80 436.50,165.80" fill="none" stroke="#3a7a52" stroke-width="0.8" stroke-linejoin="round" stroke-linecap="round" stroke-dasharray="2,1.5"/>
<polyline points="344.00,165.80 351.30,162.70 360.80,161.60 371.40,163.70 377.70,164.30 387.60,165.30 395.30,165.80 403.50,166.50 414.00,166.50 424.00,166.70 434.00,167.00" fill="none" stroke="#6a42b4" stroke-width="0.8" stroke-linejoin="round" stroke-linecap="round" stroke-dasharray="2,1.5"/>
<polyline points="329.00,168.00 335.00,167.00 340.80,164.80 347.00,166.20 353.50,165.50 359.80,163.70 363.50,165.80 370.30,164.80 377.00,166.20 384.00,166.80 391.00,167.20 399.00,167.50 408.00,167.60 417.00,167.80 426.00,167.80 436.00,167.90" fill="none" stroke="#d42a2a" stroke-width="0.8" stroke-linejoin="round" stroke-linecap="round" stroke-dasharray="2,1.5"/>
<circle cx="327.0" cy="166.4" r="3.0" fill="#3a7a52"/>
<circle cx="335.5" cy="164.8" r="3.0" fill="#3a7a52"/>
<circle cx="345.0" cy="160.6" r="3.0" fill="#3a7a52"/>
<line x1="345.00" y1="154.50" x2="345.00" y2="160.00" stroke="#3a7a52" stroke-width="0.8" stroke-opacity="0.9"/>
<circle cx="329.00" cy="168.00" r="1.95" fill="#d42a2a"/>
<path d="M325.75,168.00H332.25M329.00,164.75V171.25" stroke="#d42a2a" stroke-width="0.9"/>
<circle cx="335.00" cy="167.00" r="1.95" fill="#d42a2a"/>
<path d="M331.75,167.00H338.25M335.00,163.75V170.25" stroke="#d42a2a" stroke-width="0.9"/>
<circle cx="340.80" cy="164.80" r="1.95" fill="#d42a2a"/>
<path d="M337.55,164.80H344.05M340.80,161.55V168.05" stroke="#d42a2a" stroke-width="0.9"/>
<circle cx="347.00" cy="166.20" r="1.95" fill="#d42a2a"/>
<path d="M343.75,166.20H350.25M347.00,162.95V169.45" stroke="#d42a2a" stroke-width="0.9"/>
<circle cx="353.50" cy="165.50" r="1.95" fill="#d42a2a"/>
<path d="M350.25,165.50H356.75M353.50,162.25V168.75" stroke="#d42a2a" stroke-width="0.9"/>
<circle cx="359.80" cy="163.70" r="1.95" fill="#d42a2a"/>
<path d="M356.55,163.70H363.05M359.80,160.45V166.95" stroke="#d42a2a" stroke-width="0.9"/>
<circle cx="363.50" cy="165.80" r="1.95" fill="#d42a2a"/>
<path d="M360.25,165.80H366.75M363.50,162.55V169.05" stroke="#d42a2a" stroke-width="0.9"/>
<circle cx="370.30" cy="164.80" r="1.95" fill="#d42a2a"/>
<path d="M367.05,164.80H373.55M370.30,161.55V168.05" stroke="#d42a2a" stroke-width="0.9"/>
<circle cx="344.0" cy="165.8" r="3.1" fill="#6a42b4"/>
<circle cx="351.3" cy="162.7" r="3.1" fill="#6a42b4"/>
<circle cx="360.8" cy="161.6" r="3.1" fill="#6a42b4"/>
<circle cx="371.4" cy="163.7" r="3.1" fill="#6a42b4"/>
<circle cx="377.7" cy="164.3" r="3.1" fill="#6a42b4"/>
<circle cx="387.6" cy="165.3" r="3.1" fill="#6a42b4"/>
<circle cx="395.3" cy="165.8" r="3.1" fill="#6a42b4"/>
<circle cx="403.5" cy="166.5" r="3.1" fill="#6a42b4"/>
<circle cx="414" cy="166.5" r="3.1" fill="#6a42b4"/>
<circle cx="424" cy="166.7" r="3.1" fill="#6a42b4"/>
<circle cx="434" cy="167" r="3.1" fill="#6a42b4"/>
<circle cx="377.00" cy="166.20" r="1.72" fill="#d42a2a"/>
<path d="M374.12,166.20H379.88M377.00,163.32V169.07" stroke="#d42a2a" stroke-width="0.9"/>
<circle cx="384.00" cy="166.80" r="1.72" fill="#d42a2a"/>
<path d="M381.12,166.80H386.88M384.00,163.93V169.68" stroke="#d42a2a" stroke-width="0.9"/>
<circle cx="391.00" cy="167.20" r="1.72" fill="#d42a2a"/>
<path d="M388.12,167.20H393.88M391.00,164.32V170.07" stroke="#d42a2a" stroke-width="0.9"/>
<circle cx="399.00" cy="167.50" r="1.72" fill="#d42a2a"/>
<path d="M396.12,167.50H401.88M399.00,164.62V170.38" stroke="#d42a2a" stroke-width="0.9"/>
<circle cx="408.00" cy="167.60" r="1.72" fill="#d42a2a"/>
<path d="M405.12,167.60H410.88M408.00,164.72V170.47" stroke="#d42a2a" stroke-width="0.9"/>
<circle cx="417.00" cy="167.80" r="1.72" fill="#d42a2a"/>
<path d="M414.12,167.80H419.88M417.00,164.93V170.68" stroke="#d42a2a" stroke-width="0.9"/>
<circle cx="426.00" cy="167.80" r="1.72" fill="#d42a2a"/>
<path d="M423.12,167.80H428.88M426.00,164.93V170.68" stroke="#d42a2a" stroke-width="0.9"/>
<circle cx="436.00" cy="167.90" r="1.72" fill="#d42a2a"/>
<path d="M433.12,167.90H438.88M436.00,165.03V170.78" stroke="#d42a2a" stroke-width="0.9"/>
<circle cx="350.6" cy="143.2" r="2.0" fill="#3a7a52"/>
<circle cx="353.6" cy="147.3" r="3.1" fill="#3a7a52"/>
<circle cx="356.5" cy="150.3" r="3.1" fill="#3a7a52"/>
<circle cx="364.0" cy="154.2" r="3.1" fill="#3a7a52"/>
<circle cx="373.5" cy="155.3" r="3.1" fill="#3a7a52"/>
<circle cx="383.0" cy="156.5" r="3.1" fill="#3a7a52"/>
<circle cx="393.5" cy="159.9" r="3.1" fill="#3a7a52"/>
<circle cx="401.1" cy="161.4" r="3.1" fill="#3a7a52"/>
<circle cx="409.3" cy="165.3" r="3.1" fill="#3a7a52"/>
<circle cx="420.5" cy="164.9" r="3.1" fill="#3a7a52"/>
<circle cx="431.1" cy="165.8" r="3.1" fill="#3a7a52"/>
<circle cx="436.5" cy="165.8" r="3.1" fill="#3a7a52"/>
<line x1="350.00" y1="152.00" x2="350.00" y2="163.00" stroke="#6a42b4" stroke-width="0.8" stroke-opacity="0.8"/>
<circle cx="350" cy="157.9" r="1.6" fill="#fff" stroke="#6a42b4" stroke-width="0.9"/>
<path d="M346.00,147.30L346.96,148.50L346.00,149.70L345.04,148.50Z" fill="#3a7a52" fill-opacity="1.0"/>
<line x1="346.00" y1="145.00" x2="346.00" y2="157.00" stroke="#3a7a52" stroke-width="0.7" stroke-opacity="0.7"/>
</g>
<g clip-path="url(#cTd)">
<line x1="470.80" y1="94.50" x2="470.80" y2="166.00" stroke="#b4a6e0" stroke-width="2.0" stroke-opacity="1.0"/>
<rect x="554.28" y="159.67" width="1.0" height="1.0" fill="#d42a2a"/>
<rect x="471.63" y="153.79" width="1.6" height="1.6" fill="#3a7a52"/>
<rect x="464.93" y="158.56" width="1.3" height="1.3" fill="#6a42b4"/>
<line x1="465.58" y1="157.41" x2="465.58" y2="162.62" stroke="#6a42b4" stroke-width="0.6" stroke-opacity="0.7"/>
<rect x="539.50" y="157.53" width="1.0" height="1.0" fill="#3a7a52"/>
<line x1="540.00" y1="156.22" x2="540.00" y2="161.50" stroke="#3a7a52" stroke-width="0.6" stroke-opacity="0.7"/>
<rect x="549.34" y="155.56" width="1.0" height="1.0" fill="#6a42b4"/>
<line x1="549.84" y1="152.76" x2="549.84" y2="159.41" stroke="#6a42b4" stroke-width="0.6" stroke-opacity="0.7"/>
<rect x="531.81" y="151.50" width="1.0" height="1.0" fill="#3a7a52"/>
<rect x="534.64" y="146.43" width="1.3" height="1.3" fill="#3a7a52"/>
<line x1="535.29" y1="144.87" x2="535.29" y2="148.93" stroke="#3a7a52" stroke-width="0.6" stroke-opacity="0.7"/>
<rect x="552.06" y="152.05" width="1.3" height="1.3" fill="#6a42b4"/>
<line x1="552.71" y1="150.08" x2="552.71" y2="154.72" stroke="#6a42b4" stroke-width="0.6" stroke-opacity="0.7"/>
<rect x="468.93" y="154.63" width="1.6" height="1.6" fill="#3a7a52"/>
<line x1="469.73" y1="153.15" x2="469.73" y2="158.57" stroke="#3a7a52" stroke-width="0.6" stroke-opacity="0.7"/>
<rect x="516.73" y="149.90" width="1.6" height="1.6" fill="#3a7a52"/>
<line x1="517.53" y1="147.60" x2="517.53" y2="152.53" stroke="#3a7a52" stroke-width="0.6" stroke-opacity="0.7"/>
<rect x="537.89" y="162.18" width="1.3" height="1.3" fill="#6a42b4"/>
<line x1="538.54" y1="160.47" x2="538.54" y2="165.89" stroke="#6a42b4" stroke-width="0.6" stroke-opacity="0.7"/>
<rect x="527.99" y="150.55" width="1.0" height="1.0" fill="#d42a2a"/>
<line x1="528.49" y1="148.17" x2="528.49" y2="153.24" stroke="#d42a2a" stroke-width="0.6" stroke-opacity="0.7"/>
<rect x="483.40" y="134.66" width="1.3" height="1.3" fill="#6a42b4"/>
<rect x="469.19" y="158.62" width="1.0" height="1.0" fill="#d42a2a"/>
<line x1="469.69" y1="155.77" x2="469.69" y2="162.11" stroke="#d42a2a" stroke-width="0.6" stroke-opacity="0.7"/>
<rect x="492.34" y="143.67" width="1.0" height="1.0" fill="#3a7a52"/>
<line x1="492.84" y1="141.94" x2="492.84" y2="146.38" stroke="#3a7a52" stroke-width="0.6" stroke-opacity="0.7"/>
<rect x="475.57" y="151.10" width="1.6" height="1.6" fill="#6a42b4"/>
<line x1="476.37" y1="150.34" x2="476.37" y2="154.54" stroke="#6a42b4" stroke-width="0.6" stroke-opacity="0.7"/>
<rect x="555.31" y="159.59" width="1.0" height="1.0" fill="#d42a2a"/>
<line x1="555.81" y1="157.23" x2="555.81" y2="161.76" stroke="#d42a2a" stroke-width="0.6" stroke-opacity="0.7"/>
<rect x="532.05" y="152.64" width="1.6" height="1.6" fill="#d42a2a"/>
<line x1="532.85" y1="151.66" x2="532.85" y2="155.33" stroke="#d42a2a" stroke-width="0.6" stroke-opacity="0.7"/>
<rect x="531.94" y="152.95" width="1.6" height="1.6" fill="#3a7a52"/>
<rect x="553.00" y="160.97" width="1.3" height="1.3" fill="#3a7a52"/>
<line x1="553.65" y1="159.57" x2="553.65" y2="163.42" stroke="#3a7a52" stroke-width="0.6" stroke-opacity="0.7"/>
<rect x="516.55" y="149.12" width="1.3" height="1.3" fill="#3a7a52"/>
<rect x="519.63" y="134.34" width="1.3" height="1.3" fill="#d42a2a"/>
<rect x="470.31" y="163.57" width="1.0" height="1.0" fill="#d42a2a"/>
<line x1="470.81" y1="160.83" x2="470.81" y2="167.49" stroke="#d42a2a" stroke-width="0.6" stroke-opacity="0.7"/>
<rect x="476.41" y="143.90" width="1.6" height="1.6" fill="#3a7a52"/>
<rect x="529.93" y="147.00" width="1.0" height="1.0" fill="#3a7a52"/>
<line x1="530.43" y1="144.09" x2="530.43" y2="149.44" stroke="#3a7a52" stroke-width="0.6" stroke-opacity="0.7"/>
<rect x="501.68" y="135.50" width="1.3" height="1.3" fill="#3a7a52"/>
<line x1="502.33" y1="132.86" x2="502.33" y2="138.14" stroke="#3a7a52" stroke-width="0.6" stroke-opacity="0.7"/>
<rect x="466.08" y="161.19" width="1.6" height="1.6" fill="#3a7a52"/>
<rect x="514.51" y="141.42" width="1.3" height="1.3" fill="#3a7a52"/>
<line x1="515.16" y1="140.27" x2="515.16" y2="144.08" stroke="#3a7a52" stroke-width="0.6" stroke-opacity="0.7"/>
<rect x="510.36" y="143.95" width="1.0" height="1.0" fill="#3a7a52"/>
<line x1="510.86" y1="141.64" x2="510.86" y2="146.47" stroke="#3a7a52" stroke-width="0.6" stroke-opacity="0.7"/>
<rect x="514.67" y="144.06" width="1.3" height="1.3" fill="#3a7a52"/>
<line x1="515.32" y1="142.61" x2="515.32" y2="146.87" stroke="#3a7a52" stroke-width="0.6" stroke-opacity="0.7"/>
<rect x="535.60" y="153.65" width="1.0" height="1.0" fill="#6a42b4"/>
<rect x="516.44" y="143.53" width="1.3" height="1.3" fill="#3a7a52"/>
<line x1="517.09" y1="141.86" x2="517.09" y2="147.66" stroke="#3a7a52" stroke-width="0.6" stroke-opacity="0.7"/>
<rect x="499.31" y="133.07" width="1.0" height="1.0" fill="#3a7a52"/>
<rect x="529.74" y="152.45" width="1.3" height="1.3" fill="#3a7a52"/>
<rect x="482.61" y="130.83" width="1.0" height="1.0" fill="#3a7a52"/>
<line x1="483.11" y1="128.19" x2="483.11" y2="132.86" stroke="#3a7a52" stroke-width="0.6" stroke-opacity="0.7"/>
<rect x="512.40" y="142.37" width="1.0" height="1.0" fill="#d42a2a"/>
<line x1="512.90" y1="141.06" x2="512.90" y2="144.51" stroke="#d42a2a" stroke-width="0.6" stroke-opacity="0.7"/>
<rect x="477.65" y="159.36" width="1.3" height="1.3" fill="#d42a2a"/>
<line x1="478.30" y1="158.24" x2="478.30" y2="163.12" stroke="#d42a2a" stroke-width="0.6" stroke-opacity="0.7"/>
<rect x="494.09" y="135.66" width="1.0" height="1.0" fill="#3a7a52"/>
<line x1="494.59" y1="133.25" x2="494.59" y2="138.13" stroke="#3a7a52" stroke-width="0.6" stroke-opacity="0.7"/>
<rect x="548.11" y="152.64" width="1.0" height="1.0" fill="#6a42b4"/>
<rect x="476.44" y="148.21" width="1.0" height="1.0" fill="#3a7a52"/>
<rect x="530.49" y="151.65" width="1.0" height="1.0" fill="#3a7a52"/>
<line x1="530.99" y1="149.61" x2="530.99" y2="155.28" stroke="#3a7a52" stroke-width="0.6" stroke-opacity="0.7"/>
<rect x="506.48" y="147.18" width="1.3" height="1.3" fill="#d42a2a"/>
<rect x="469.51" y="166.03" width="1.6" height="1.6" fill="#3a7a52"/>
<line x1="470.31" y1="165.01" x2="470.31" y2="169.00" stroke="#3a7a52" stroke-width="0.6" stroke-opacity="0.7"/>
<rect x="519.33" y="148.51" width="1.3" height="1.3" fill="#3a7a52"/>
<rect x="560.55" y="152.61" width="1.3" height="1.3" fill="#d42a2a"/>
<line x1="561.20" y1="151.38" x2="561.20" y2="156.65" stroke="#d42a2a" stroke-width="0.6" stroke-opacity="0.7"/>
<rect x="506.27" y="142.88" width="1.0" height="1.0" fill="#d42a2a"/>
<line x1="506.77" y1="141.08" x2="506.77" y2="146.53" stroke="#d42a2a" stroke-width="0.6" stroke-opacity="0.7"/>
<rect x="559.54" y="160.62" width="1.0" height="1.0" fill="#3a7a52"/>
<line x1="560.04" y1="157.70" x2="560.04" y2="163.85" stroke="#3a7a52" stroke-width="0.6" stroke-opacity="0.7"/>
<rect x="467.79" y="157.46" width="1.3" height="1.3" fill="#3a7a52"/>
<rect x="495.53" y="142.00" width="1.6" height="1.6" fill="#d42a2a"/>
<line x1="496.33" y1="140.35" x2="496.33" y2="145.55" stroke="#d42a2a" stroke-width="0.6" stroke-opacity="0.7"/>
<rect x="493.54" y="142.28" width="1.6" height="1.6" fill="#3a7a52"/>
<line x1="494.34" y1="140.50" x2="494.34" y2="145.50" stroke="#3a7a52" stroke-width="0.6" stroke-opacity="0.7"/>
<rect x="495.41" y="146.67" width="1.0" height="1.0" fill="#d42a2a"/>
<rect x="524.78" y="153.18" width="1.3" height="1.3" fill="#6a42b4"/>
<rect x="556.75" y="164.17" width="1.0" height="1.0" fill="#3a7a52"/>
<line x1="557.25" y1="162.36" x2="557.25" y2="167.57" stroke="#3a7a52" stroke-width="0.6" stroke-opacity="0.7"/>
<rect x="496.00" y="144.60" width="1.3" height="1.3" fill="#6a42b4"/>
<line x1="496.65" y1="143.53" x2="496.65" y2="148.24" stroke="#6a42b4" stroke-width="0.6" stroke-opacity="0.7"/>
<rect x="543.00" y="160.35" width="1.3" height="1.3" fill="#6a42b4"/>
<rect x="528.80" y="154.22" width="1.6" height="1.6" fill="#d42a2a"/>
<line x1="529.60" y1="153.41" x2="529.60" y2="157.16" stroke="#d42a2a" stroke-width="0.6" stroke-opacity="0.7"/>
<rect x="526.40" y="157.29" width="1.6" height="1.6" fill="#3a7a52"/>
<line x1="527.20" y1="156.53" x2="527.20" y2="160.66" stroke="#3a7a52" stroke-width="0.6" stroke-opacity="0.7"/>
<rect x="466.48" y="159.71" width="1.3" height="1.3" fill="#3a7a52"/>
<rect x="487.17" y="134.74" width="1.6" height="1.6" fill="#6a42b4"/>
<line x1="487.97" y1="133.34" x2="487.97" y2="137.16" stroke="#6a42b4" stroke-width="0.6" stroke-opacity="0.7"/>
<rect x="468.59" y="161.41" width="1.6" height="1.6" fill="#d42a2a"/>
<line x1="469.39" y1="160.03" x2="469.39" y2="164.11" stroke="#d42a2a" stroke-width="0.6" stroke-opacity="0.7"/>
<rect x="483.30" y="147.74" width="1.3" height="1.3" fill="#d42a2a"/>
<rect x="554.89" y="158.73" width="1.3" height="1.3" fill="#6a42b4"/>
<rect x="543.23" y="164.24" width="1.0" height="1.0" fill="#3a7a52"/>
<rect x="492.14" y="146.95" width="1.6" height="1.6" fill="#3a7a52"/>
<rect x="509.23" y="144.71" width="1.6" height="1.6" fill="#6a42b4"/>
<rect x="502.28" y="148.69" width="1.0" height="1.0" fill="#6a42b4"/>
<line x1="502.78" y1="145.73" x2="502.78" y2="152.43" stroke="#6a42b4" stroke-width="0.6" stroke-opacity="0.7"/>
<rect x="492.88" y="127.96" width="1.6" height="1.6" fill="#3a7a52"/>
<rect x="538.53" y="152.83" width="1.6" height="1.6" fill="#6a42b4"/>
<rect x="505.84" y="142.14" width="1.3" height="1.3" fill="#d42a2a"/>
<rect x="550.46" y="160.11" width="1.3" height="1.3" fill="#d42a2a"/>
<line x1="551.11" y1="157.83" x2="551.11" y2="162.33" stroke="#d42a2a" stroke-width="0.6" stroke-opacity="0.7"/>
<rect x="551.63" y="166.81" width="1.0" height="1.0" fill="#d42a2a"/>
<line x1="552.13" y1="164.57" x2="552.13" y2="169.05" stroke="#d42a2a" stroke-width="0.6" stroke-opacity="0.7"/>
<rect x="477.14" y="147.35" width="1.0" height="1.0" fill="#d42a2a"/>
<line x1="477.64" y1="145.81" x2="477.64" y2="150.89" stroke="#d42a2a" stroke-width="0.6" stroke-opacity="0.7"/>
<rect x="472.03" y="155.99" width="1.0" height="1.0" fill="#3a7a52"/>
<rect x="491.14" y="132.12" width="1.0" height="1.0" fill="#d42a2a"/>
<line x1="491.64" y1="130.56" x2="491.64" y2="135.17" stroke="#d42a2a" stroke-width="0.6" stroke-opacity="0.7"/>
<rect x="511.26" y="134.64" width="1.0" height="1.0" fill="#3a7a52"/>
<rect x="515.97" y="148.91" width="1.3" height="1.3" fill="#d42a2a"/>
<line x1="516.62" y1="146.90" x2="516.62" y2="151.54" stroke="#d42a2a" stroke-width="0.6" stroke-opacity="0.7"/>
<rect x="494.76" y="132.24" width="1.3" height="1.3" fill="#3a7a52"/>
<line x1="495.41" y1="130.68" x2="495.41" y2="135.45" stroke="#3a7a52" stroke-width="0.6" stroke-opacity="0.7"/>
<rect x="558.29" y="155.99" width="1.0" height="1.0" fill="#6a42b4"/>
<rect x="554.99" y="158.02" width="1.0" height="1.0" fill="#3a7a52"/>
<line x1="555.49" y1="156.07" x2="555.49" y2="160.85" stroke="#3a7a52" stroke-width="0.6" stroke-opacity="0.7"/>
<rect x="525.53" y="155.68" width="1.3" height="1.3" fill="#6a42b4"/>
<line x1="526.18" y1="153.99" x2="526.18" y2="157.86" stroke="#6a42b4" stroke-width="0.6" stroke-opacity="0.7"/>
<rect x="470.40" y="151.69" width="1.0" height="1.0" fill="#3a7a52"/>
<rect x="480.08" y="144.97" width="1.3" height="1.3" fill="#3a7a52"/>
<line x1="480.73" y1="142.53" x2="480.73" y2="147.20" stroke="#3a7a52" stroke-width="0.6" stroke-opacity="0.7"/>
<rect x="467.26" y="151.25" width="1.3" height="1.3" fill="#3a7a52"/>
<rect x="467.22" y="155.12" width="1.0" height="1.0" fill="#3a7a52"/>
<line x1="467.72" y1="152.73" x2="467.72" y2="158.00" stroke="#3a7a52" stroke-width="0.6" stroke-opacity="0.7"/>
<rect x="474.54" y="143.44" width="1.0" height="1.0" fill="#d42a2a"/>
<line x1="475.04" y1="141.14" x2="475.04" y2="146.80" stroke="#d42a2a" stroke-width="0.6" stroke-opacity="0.7"/>
<rect x="524.30" y="150.00" width="1.0" height="1.0" fill="#3a7a52"/>
<rect x="474.46" y="144.37" width="1.3" height="1.3" fill="#3a7a52"/>
<line x1="475.11" y1="142.74" x2="475.11" y2="147.46" stroke="#3a7a52" stroke-width="0.6" stroke-opacity="0.7"/>
<rect x="471.97" y="149.56" width="1.6" height="1.6" fill="#3a7a52"/>
<line x1="472.77" y1="147.69" x2="472.77" y2="152.50" stroke="#3a7a52" stroke-width="0.6" stroke-opacity="0.7"/>
<rect x="561.53" y="159.31" width="1.6" height="1.6" fill="#3a7a52"/>
<line x1="562.33" y1="157.79" x2="562.33" y2="162.41" stroke="#3a7a52" stroke-width="0.6" stroke-opacity="0.7"/>
<rect x="551.98" y="158.98" width="1.0" height="1.0" fill="#3a7a52"/>
<rect x="533.72" y="158.59" width="1.0" height="1.0" fill="#d42a2a"/>
<line x1="534.22" y1="156.96" x2="534.22" y2="161.84" stroke="#d42a2a" stroke-width="0.6" stroke-opacity="0.7"/>
<rect x="503.14" y="146.88" width="1.6" height="1.6" fill="#3a7a52"/>
<rect x="507.62" y="140.11" width="1.6" height="1.6" fill="#d42a2a"/>
<line x1="508.42" y1="137.62" x2="508.42" y2="144.37" stroke="#d42a2a" stroke-width="0.6" stroke-opacity="0.7"/>
<rect x="541.34" y="153.95" width="1.6" height="1.6" fill="#d42a2a"/>
<line x1="542.14" y1="152.80" x2="542.14" y2="156.71" stroke="#d42a2a" stroke-width="0.6" stroke-opacity="0.7"/>
<rect x="522.98" y="148.01" width="1.3" height="1.3" fill="#d42a2a"/>
<line x1="523.63" y1="146.57" x2="523.63" y2="151.37" stroke="#d42a2a" stroke-width="0.6" stroke-opacity="0.7"/>
<rect x="469.88" y="151.18" width="1.6" height="1.6" fill="#d42a2a"/>
<line x1="470.68" y1="149.06" x2="470.68" y2="153.51" stroke="#d42a2a" stroke-width="0.6" stroke-opacity="0.7"/>
<rect x="503.95" y="142.87" width="1.0" height="1.0" fill="#d42a2a"/>
<rect x="491.77" y="145.08" width="1.6" height="1.6" fill="#3a7a52"/>
<rect x="467.30" y="163.64" width="1.6" height="1.6" fill="#d42a2a"/>
<line x1="468.10" y1="161.76" x2="468.10" y2="167.37" stroke="#d42a2a" stroke-width="0.6" stroke-opacity="0.7"/>
<rect x="539.04" y="156.04" width="1.3" height="1.3" fill="#6a42b4"/>
<line x1="539.69" y1="154.69" x2="539.69" y2="159.61" stroke="#6a42b4" stroke-width="0.6" stroke-opacity="0.7"/>
<rect x="518.45" y="150.45" width="1.6" height="1.6" fill="#d42a2a"/>
<line x1="519.25" y1="148.30" x2="519.25" y2="154.65" stroke="#d42a2a" stroke-width="0.6" stroke-opacity="0.7"/>
<rect x="489.34" y="142.29" width="1.3" height="1.3" fill="#d42a2a"/>
<line x1="489.99" y1="140.45" x2="489.99" y2="144.78" stroke="#d42a2a" stroke-width="0.6" stroke-opacity="0.7"/>
<rect x="525.15" y="151.11" width="1.3" height="1.3" fill="#d42a2a"/>
<rect x="471.36" y="149.31" width="1.3" height="1.3" fill="#3a7a52"/>
<line x1="472.01" y1="147.35" x2="472.01" y2="152.34" stroke="#3a7a52" stroke-width="0.6" stroke-opacity="0.7"/>
<rect x="463.80" y="156.84" width="1.0" height="1.0" fill="#3a7a52"/>
<line x1="464.30" y1="154.75" x2="464.30" y2="159.18" stroke="#3a7a52" stroke-width="0.6" stroke-opacity="0.7"/>
<rect x="498.42" y="145.09" width="1.3" height="1.3" fill="#3a7a52"/>
<rect x="476.29" y="148.60" width="1.3" height="1.3" fill="#d42a2a"/>
<line x1="476.94" y1="146.94" x2="476.94" y2="152.33" stroke="#d42a2a" stroke-width="0.6" stroke-opacity="0.7"/>
<rect x="525.39" y="153.19" width="1.0" height="1.0" fill="#d42a2a"/>
<line x1="525.89" y1="152.14" x2="525.89" y2="157.01" stroke="#d42a2a" stroke-width="0.6" stroke-opacity="0.7"/>
<rect x="526.32" y="150.57" width="1.3" height="1.3" fill="#3a7a52"/>
<line x1="526.97" y1="148.55" x2="526.97" y2="154.05" stroke="#3a7a52" stroke-width="0.6" stroke-opacity="0.7"/>
<rect x="491.21" y="134.59" width="1.0" height="1.0" fill="#3a7a52"/>
<rect x="498.46" y="133.16" width="1.0" height="1.0" fill="#3a7a52"/>
<rect x="532.88" y="162.06" width="1.3" height="1.3" fill="#3a7a52"/>
<rect x="541.89" y="144.41" width="1.0" height="1.0" fill="#3a7a52"/>
<line x1="542.39" y1="142.20" x2="542.39" y2="147.05" stroke="#3a7a52" stroke-width="0.6" stroke-opacity="0.7"/>
<rect x="527.39" y="142.03" width="1.3" height="1.3" fill="#3a7a52"/>
<rect x="479.41" y="150.64" width="1.0" height="1.0" fill="#3a7a52"/>
<line x1="479.91" y1="148.43" x2="479.91" y2="153.34" stroke="#3a7a52" stroke-width="0.6" stroke-opacity="0.7"/>
<rect x="540.03" y="151.49" width="1.0" height="1.0" fill="#3a7a52"/>
<line x1="540.53" y1="150.38" x2="540.53" y2="154.48" stroke="#3a7a52" stroke-width="0.6" stroke-opacity="0.7"/>
<rect x="529.42" y="152.02" width="1.6" height="1.6" fill="#6a42b4"/>
<line x1="530.22" y1="150.15" x2="530.22" y2="154.51" stroke="#6a42b4" stroke-width="0.6" stroke-opacity="0.7"/>
<rect x="465.86" y="150.75" width="1.3" height="1.3" fill="#3a7a52"/>
<rect x="549.15" y="158.63" width="1.6" height="1.6" fill="#3a7a52"/>
<rect x="517.68" y="141.43" width="1.6" height="1.6" fill="#3a7a52"/>
<line x1="518.48" y1="139.37" x2="518.48" y2="143.84" stroke="#3a7a52" stroke-width="0.6" stroke-opacity="0.7"/>
<rect x="540.86" y="151.07" width="1.3" height="1.3" fill="#3a7a52"/>
<line x1="541.51" y1="148.38" x2="541.51" y2="153.82" stroke="#3a7a52" stroke-width="0.6" stroke-opacity="0.7"/>
<rect x="462.88" y="160.87" width="1.3" height="1.3" fill="#3a7a52"/>
<line x1="463.53" y1="159.67" x2="463.53" y2="163.36" stroke="#3a7a52" stroke-width="0.6" stroke-opacity="0.7"/>
<rect x="477.92" y="139.07" width="1.3" height="1.3" fill="#3a7a52"/>
<line x1="478.57" y1="136.46" x2="478.57" y2="142.97" stroke="#3a7a52" stroke-width="0.6" stroke-opacity="0.7"/>
<rect x="542.76" y="159.97" width="1.6" height="1.6" fill="#d42a2a"/>
<rect x="486.26" y="139.57" width="1.3" height="1.3" fill="#d42a2a"/>
<line x1="486.91" y1="137.65" x2="486.91" y2="143.30" stroke="#d42a2a" stroke-width="0.6" stroke-opacity="0.7"/>
<rect x="552.39" y="161.03" width="1.3" height="1.3" fill="#3a7a52"/>
<line x1="553.04" y1="159.58" x2="553.04" y2="163.25" stroke="#3a7a52" stroke-width="0.6" stroke-opacity="0.7"/>
<rect x="542.58" y="153.03" width="1.3" height="1.3" fill="#d42a2a"/>
<rect x="546.63" y="158.48" width="1.3" height="1.3" fill="#6a42b4"/>
<rect x="537.44" y="162.59" width="1.0" height="1.0" fill="#d42a2a"/>
<rect x="562.62" y="163.49" width="1.0" height="1.0" fill="#3a7a52"/>
<line x1="563.12" y1="161.42" x2="563.12" y2="166.16" stroke="#3a7a52" stroke-width="0.6" stroke-opacity="0.7"/>
<rect x="504.71" y="139.75" width="1.6" height="1.6" fill="#d42a2a"/>
<line x1="505.51" y1="137.14" x2="505.51" y2="143.12" stroke="#d42a2a" stroke-width="0.6" stroke-opacity="0.7"/>
<rect x="472.84" y="160.24" width="1.3" height="1.3" fill="#3a7a52"/>
<rect x="537.93" y="146.70" width="1.3" height="1.3" fill="#d42a2a"/>
<line x1="538.58" y1="144.76" x2="538.58" y2="148.96" stroke="#d42a2a" stroke-width="0.6" stroke-opacity="0.7"/>
<rect x="533.73" y="148.99" width="1.3" height="1.3" fill="#3a7a52"/>
<rect x="485.91" y="143.23" width="1.6" height="1.6" fill="#d42a2a"/>
<rect x="562.15" y="165.30" width="1.6" height="1.6" fill="#6a42b4"/>
<line x1="562.95" y1="164.16" x2="562.95" y2="168.92" stroke="#6a42b4" stroke-width="0.6" stroke-opacity="0.7"/>
<rect x="483.36" y="141.59" width="1.0" height="1.0" fill="#3a7a52"/>
<rect x="518.19" y="151.01" width="1.6" height="1.6" fill="#3a7a52"/>
<line x1="518.99" y1="149.93" x2="518.99" y2="154.90" stroke="#3a7a52" stroke-width="0.6" stroke-opacity="0.7"/>
<rect x="484.03" y="141.66" width="1.6" height="1.6" fill="#3a7a52"/>
<line x1="484.83" y1="140.55" x2="484.83" y2="144.02" stroke="#3a7a52" stroke-width="0.6" stroke-opacity="0.7"/>
<rect x="477.88" y="148.19" width="1.6" height="1.6" fill="#d42a2a"/>
<rect x="494.12" y="145.05" width="1.3" height="1.3" fill="#3a7a52"/>
<rect x="524.25" y="145.09" width="1.0" height="1.0" fill="#6a42b4"/>
<rect x="492.51" y="138.39" width="1.0" height="1.0" fill="#6a42b4"/>
<line x1="493.01" y1="136.08" x2="493.01" y2="140.46" stroke="#6a42b4" stroke-width="0.6" stroke-opacity="0.7"/>
<rect x="521.77" y="156.56" width="1.0" height="1.0" fill="#3a7a52"/>
<rect x="467.92" y="154.98" width="1.6" height="1.6" fill="#3a7a52"/>
<rect x="561.13" y="155.16" width="1.6" height="1.6" fill="#6a42b4"/>
<rect x="500.43" y="138.53" width="1.3" height="1.3" fill="#6a42b4"/>
<line x1="501.08" y1="136.91" x2="501.08" y2="141.74" stroke="#6a42b4" stroke-width="0.6" stroke-opacity="0.7"/>
<rect x="466.32" y="159.30" width="1.3" height="1.3" fill="#3a7a52"/>
<rect x="499.07" y="129.01" width="1.6" height="1.6" fill="#3a7a52"/>
<rect x="479.90" y="154.49" width="1.0" height="1.0" fill="#d42a2a"/>
<line x1="480.40" y1="151.96" x2="480.40" y2="157.62" stroke="#d42a2a" stroke-width="0.6" stroke-opacity="0.7"/>
<rect x="485.57" y="137.87" width="1.6" height="1.6" fill="#3a7a52"/>
<rect x="464.76" y="160.66" width="1.3" height="1.3" fill="#3a7a52"/>
<line x1="465.41" y1="158.12" x2="465.41" y2="164.04" stroke="#3a7a52" stroke-width="0.6" stroke-opacity="0.7"/>
<rect x="537.57" y="154.37" width="1.0" height="1.0" fill="#3a7a52"/>
<line x1="538.07" y1="153.05" x2="538.07" y2="156.45" stroke="#3a7a52" stroke-width="0.6" stroke-opacity="0.7"/>
<rect x="464.25" y="159.49" width="1.3" height="1.3" fill="#6a42b4"/>
<line x1="464.90" y1="157.21" x2="464.90" y2="161.92" stroke="#6a42b4" stroke-width="0.6" stroke-opacity="0.7"/>
<rect x="496.40" y="135.48" width="1.0" height="1.0" fill="#3a7a52"/>
<line x1="496.90" y1="134.26" x2="496.90" y2="137.88" stroke="#3a7a52" stroke-width="0.6" stroke-opacity="0.7"/>
<rect x="526.82" y="149.17" width="1.0" height="1.0" fill="#3a7a52"/>
<line x1="527.32" y1="147.10" x2="527.32" y2="151.92" stroke="#3a7a52" stroke-width="0.6" stroke-opacity="0.7"/>
<rect x="476.76" y="149.38" width="1.0" height="1.0" fill="#d42a2a"/>
<line x1="477.26" y1="148.30" x2="477.26" y2="152.61" stroke="#d42a2a" stroke-width="0.6" stroke-opacity="0.7"/>
<rect x="481.22" y="140.64" width="1.0" height="1.0" fill="#3a7a52"/>
<line x1="481.72" y1="138.06" x2="481.72" y2="144.35" stroke="#3a7a52" stroke-width="0.6" stroke-opacity="0.7"/>
<rect x="490.90" y="140.82" width="1.3" height="1.3" fill="#3a7a52"/>
<rect x="551.41" y="156.97" width="1.0" height="1.0" fill="#6a42b4"/>
<rect x="465.67" y="158.72" width="1.0" height="1.0" fill="#3a7a52"/>
<rect x="555.52" y="162.17" width="1.6" height="1.6" fill="#3a7a52"/>
<line x1="556.32" y1="159.76" x2="556.32" y2="166.00" stroke="#3a7a52" stroke-width="0.6" stroke-opacity="0.7"/>
<rect x="472.84" y="150.38" width="1.3" height="1.3" fill="#3a7a52"/>
<line x1="473.49" y1="148.18" x2="473.49" y2="153.69" stroke="#3a7a52" stroke-width="0.6" stroke-opacity="0.7"/>
<rect x="551.31" y="147.93" width="1.0" height="1.0" fill="#3a7a52"/>
<polyline points="458.00,167.50 466.00,165.00 471.20,122.20" fill="none" stroke="#6a42b4" stroke-width="0.8" stroke-linejoin="round" stroke-linecap="round" stroke-dasharray="2,1.5"/>
<polyline points="461.00,167.50 468.00,160.00 479.00,128.00 482.90,130.90" fill="none" stroke="#6a42b4" stroke-width="0.8" stroke-linejoin="round" stroke-linecap="round" stroke-dasharray="2,1.5"/>
<polyline points="462.90,166.50 471.20,122.20 482.90,130.90 494.70,137.60 505.80,147.90 512.40,150.10 524.70,154.50 539.50,160.50 549.80,162.70 560.20,164.90" fill="none" stroke="#6a42b4" stroke-width="0.8" stroke-linejoin="round" stroke-linecap="round" stroke-dasharray="2,1.5"/>
<polyline points="452.00,167.50 462.90,165.80 470.40,159.50 475.50,151.60 482.20,147.20 488.80,141.50 496.20,142.40 502.80,141.50 508.70,144.20 516.10,150.10 522.50,147.90 529.10,153.10 536.50,156.00 543.20,156.80 549.80,159.00 555.70,160.50 560.90,161.20" fill="none" stroke="#3a7a52" stroke-width="0.8" stroke-linejoin="round" stroke-linecap="round" stroke-dasharray="2,1.5"/>
<polyline points="466.00,165.50 471.80,143.50 476.20,147.20 483.00,150.50 491.80,152.30 505.80,155.30 517.60,157.50 532.10,159.70 546.10,161.90 555.00,164.10 563.00,165.00" fill="none" stroke="#d42a2a" stroke-width="0.8" stroke-linejoin="round" stroke-linecap="round" stroke-dasharray="2,1.5"/>
<circle cx="466.00" cy="165.50" r="2.17" fill="#d42a2a"/>
<path d="M462.38,165.50H469.62M466.00,161.88V169.12" stroke="#d42a2a" stroke-width="0.9"/>
<circle cx="471.80" cy="143.50" r="1.20" fill="#d42a2a"/>
<path d="M469.80,143.50H473.80M471.80,141.50V145.50" stroke="#d42a2a" stroke-width="0.9"/>
<circle cx="476.20" cy="147.20" r="2.17" fill="#d42a2a"/>
<path d="M472.57,147.20H479.82M476.20,143.57V150.82" stroke="#d42a2a" stroke-width="0.9"/>
<circle cx="483.00" cy="150.50" r="2.17" fill="#d42a2a"/>
<path d="M479.38,150.50H486.62M483.00,146.88V154.12" stroke="#d42a2a" stroke-width="0.9"/>
<circle cx="491.80" cy="152.30" r="2.17" fill="#d42a2a"/>
<path d="M488.18,152.30H495.43M491.80,148.68V155.93" stroke="#d42a2a" stroke-width="0.9"/>
<circle cx="505.80" cy="155.30" r="2.17" fill="#d42a2a"/>
<path d="M502.18,155.30H509.43M505.80,151.68V158.93" stroke="#d42a2a" stroke-width="0.9"/>
<circle cx="517.60" cy="157.50" r="2.17" fill="#d42a2a"/>
<path d="M513.98,157.50H521.23M517.60,153.88V161.12" stroke="#d42a2a" stroke-width="0.9"/>
<circle cx="532.10" cy="159.70" r="2.17" fill="#d42a2a"/>
<path d="M528.48,159.70H535.73M532.10,156.07V163.32" stroke="#d42a2a" stroke-width="0.9"/>
<circle cx="546.10" cy="161.90" r="2.17" fill="#d42a2a"/>
<path d="M542.48,161.90H549.73M546.10,158.28V165.53" stroke="#d42a2a" stroke-width="0.9"/>
<circle cx="555.00" cy="164.10" r="2.17" fill="#d42a2a"/>
<path d="M551.38,164.10H558.62M555.00,160.47V167.72" stroke="#d42a2a" stroke-width="0.9"/>
<circle cx="563.00" cy="165.00" r="2.17" fill="#d42a2a"/>
<path d="M559.38,165.00H566.62M563.00,161.38V168.62" stroke="#d42a2a" stroke-width="0.9"/>
<circle cx="494.7" cy="137.6" r="3.0" fill="#6a42b4"/>
<circle cx="505.8" cy="147.9" r="3.0" fill="#6a42b4"/>
<circle cx="512.4" cy="150.1" r="3.0" fill="#6a42b4"/>
<circle cx="524.7" cy="154.5" r="3.0" fill="#6a42b4"/>
<circle cx="539.5" cy="160.5" r="3.0" fill="#6a42b4"/>
<circle cx="549.8" cy="162.7" r="3.0" fill="#6a42b4"/>
<circle cx="560.2" cy="164.9" r="3.0" fill="#6a42b4"/>
<circle cx="471.2" cy="122.2" r="3.1" fill="#6a42b4"/>
<circle cx="482.9" cy="130.9" r="2.2" fill="#6a42b4"/>
<path d="M478.90,130.90H486.90M482.90,126.90V134.90" stroke="#6a42b4" stroke-width="1.0"/>
<circle cx="452" cy="167.5" r="3.0" fill="#3a7a52"/>
<circle cx="462.9" cy="165.8" r="3.0" fill="#3a7a52"/>
<circle cx="470.4" cy="159.5" r="3.0" fill="#3a7a52"/>
<circle cx="475.5" cy="151.6" r="3.0" fill="#3a7a52"/>
<circle cx="482.2" cy="147.2" r="3.0" fill="#3a7a52"/>
<circle cx="488.8" cy="141.5" r="3.0" fill="#3a7a52"/>
<circle cx="496.2" cy="142.4" r="3.0" fill="#3a7a52"/>
<circle cx="502.8" cy="141.5" r="3.0" fill="#3a7a52"/>
<circle cx="508.7" cy="144.2" r="3.0" fill="#3a7a52"/>
<circle cx="516.1" cy="150.1" r="3.0" fill="#3a7a52"/>
<circle cx="522.5" cy="147.9" r="3.0" fill="#3a7a52"/>
<circle cx="529.1" cy="153.1" r="3.0" fill="#3a7a52"/>
<circle cx="536.5" cy="156" r="3.0" fill="#3a7a52"/>
<circle cx="543.2" cy="156.8" r="3.0" fill="#3a7a52"/>
<circle cx="549.8" cy="159" r="3.0" fill="#3a7a52"/>
<circle cx="555.7" cy="160.5" r="3.0" fill="#3a7a52"/>
<circle cx="560.9" cy="161.2" r="3.0" fill="#3a7a52"/>
</g>
<g clip-path="url(#cTe)">
<polygon points="348.4,173.7 350.6,173.7 351.0,195 351.6,212 353,219 357,224.5 363,230 362.5,232.5 357,230 352,231 350.2,235.5 348.6,232" fill="#3a7a52"/>
<polyline points="350.50,190.00 352.00,212.00 356.00,222.00 364.00,231.00" fill="none" stroke="#3a7a52" stroke-width="0.6" stroke-linejoin="round" stroke-linecap="round" stroke-opacity="0.6"/>
<polyline points="350.50,195.00 352.50,214.00 356.30,223.00 364.00,231.00" fill="none" stroke="#3a7a52" stroke-width="0.6" stroke-linejoin="round" stroke-linecap="round" stroke-opacity="0.6"/>
<polyline points="350.50,200.00 353.00,216.00 356.60,224.00 364.00,231.00" fill="none" stroke="#3a7a52" stroke-width="0.6" stroke-linejoin="round" stroke-linecap="round" stroke-opacity="0.6"/>
<polyline points="350.50,205.00 353.50,218.00 356.90,225.00 364.00,231.00" fill="none" stroke="#3a7a52" stroke-width="0.6" stroke-linejoin="round" stroke-linecap="round" stroke-opacity="0.6"/>
<polyline points="350.50,210.00 354.00,220.00 357.20,226.00 364.00,231.00" fill="none" stroke="#3a7a52" stroke-width="0.6" stroke-linejoin="round" stroke-linecap="round" stroke-opacity="0.6"/>
<polyline points="352.80,226.10 356.60,229.90 361.10,232.10 364.90,229.10 367.90,222.30 371.70,214.80 376.20,211.30 380.70,210.70 384.50,211.80 388.30,214.80 393.50,213.30 398.80,212.20 404.90,210.70 410.00,216.30 414.00,221.00 419.10,226.60 426.80,221.50" fill="none" stroke="#3a7a52" stroke-width="0.8" stroke-linejoin="round" stroke-linecap="round" />
<circle cx="352.8" cy="226.1" r="1.35" fill="#3a7a52"/>
<circle cx="356.6" cy="229.9" r="1.35" fill="#3a7a52"/>
<circle cx="361.1" cy="232.1" r="1.35" fill="#3a7a52"/>
<circle cx="364.9" cy="229.1" r="1.35" fill="#3a7a52"/>
<circle cx="367.9" cy="222.3" r="1.35" fill="#3a7a52"/>
<circle cx="371.7" cy="214.8" r="1.35" fill="#3a7a52"/>
<circle cx="376.2" cy="211.3" r="1.35" fill="#3a7a52"/>
<circle cx="380.7" cy="210.7" r="1.35" fill="#3a7a52"/>
<circle cx="384.5" cy="211.8" r="1.35" fill="#3a7a52"/>
<circle cx="388.3" cy="214.8" r="1.35" fill="#3a7a52"/>
<circle cx="393.5" cy="213.3" r="1.35" fill="#3a7a52"/>
<circle cx="398.8" cy="212.2" r="1.35" fill="#3a7a52"/>
<circle cx="404.9" cy="210.7" r="1.35" fill="#3a7a52"/>
<circle cx="410" cy="216.3" r="1.35" fill="#3a7a52"/>
<circle cx="414" cy="221" r="1.35" fill="#3a7a52"/>
<circle cx="419.1" cy="226.6" r="1.35" fill="#3a7a52"/>
<circle cx="426.8" cy="221.5" r="1.35" fill="#3a7a52"/>
<polygon points="348.6,219 352,218.5 353.6,222 353.5,226 350,227.5 348.6,226" fill="#6a42b4"/>
<polyline points="349.50,220.00 351.50,224.60 355.80,223.10 358.90,216.30 360.00,222.00 361.90,227.60 364.90,232.10 369.40,231.40 372.40,236.70 375.40,240.90 380.70,240.90 385.20,240.90 389.80,239.70 394.60,235.90 400.30,241.20 404.90,248.40" fill="none" stroke="#6a42b4" stroke-width="0.9" stroke-linejoin="round" stroke-linecap="round" />
<circle cx="349.5" cy="220" r="1.35" fill="#6a42b4"/>
<circle cx="351.5" cy="224.6" r="1.35" fill="#6a42b4"/>
<circle cx="355.8" cy="223.1" r="1.35" fill="#6a42b4"/>
<circle cx="358.9" cy="216.3" r="1.35" fill="#6a42b4"/>
<circle cx="360" cy="222" r="1.35" fill="#6a42b4"/>
<circle cx="361.9" cy="227.6" r="1.35" fill="#6a42b4"/>
<circle cx="364.9" cy="232.1" r="1.35" fill="#6a42b4"/>
<circle cx="369.4" cy="231.4" r="1.35" fill="#6a42b4"/>
<circle cx="372.4" cy="236.7" r="1.35" fill="#6a42b4"/>
<circle cx="375.4" cy="240.9" r="1.35" fill="#6a42b4"/>
<circle cx="380.7" cy="240.9" r="1.35" fill="#6a42b4"/>
<circle cx="385.2" cy="240.9" r="1.35" fill="#6a42b4"/>
<circle cx="389.8" cy="239.7" r="1.35" fill="#6a42b4"/>
<circle cx="394.6" cy="235.9" r="1.35" fill="#6a42b4"/>
<circle cx="400.3" cy="241.2" r="1.35" fill="#6a42b4"/>
<polyline points="344.50,236.70 345.30,240.40 349.00,243.50 353.60,245.40 359.60,244.50 365.60,245.40 370.20,244.50 374.00,246.50 375.40,248.70" fill="none" stroke="#d42a2a" stroke-width="1.5" stroke-linejoin="round" stroke-linecap="round" />
<circle cx="344.5" cy="236.7" r="1.5" fill="#d42a2a"/>
<circle cx="345.3" cy="240.4" r="1.5" fill="#d42a2a"/>
<circle cx="349" cy="243.5" r="1.5" fill="#d42a2a"/>
<circle cx="353.6" cy="245.4" r="1.5" fill="#d42a2a"/>
<circle cx="359.6" cy="244.5" r="1.5" fill="#d42a2a"/>
<circle cx="365.6" cy="245.4" r="1.5" fill="#d42a2a"/>
<circle cx="370.2" cy="244.5" r="1.5" fill="#d42a2a"/>
<circle cx="374" cy="246.5" r="1.5" fill="#d42a2a"/>
<circle cx="375.4" cy="248.7" r="1.5" fill="#d42a2a"/>
<polyline points="380.00,248.70 385.20,243.50 389.80,237.90" fill="none" stroke="#d42a2a" stroke-width="0.6" stroke-linejoin="round" stroke-linecap="round" />
<circle cx="389.8" cy="237.9" r="1.0" fill="#d42a2a"/>
</g>
<g clip-path="url(#cTf)">
<polygon points="463.9,173.7 467.8,173.7 467.5,200 465.5,206.2 464,204" fill="#6a42b4"/>
<polyline points="467.00,198.00 469.00,198.50 474.10,198.50 479.20,196.00 485.60,190.90 493.30,196.00 499.60,199.80 505.00,202.30 506.40,204.90 516.60,204.90 523.00,210.00 530.60,208.70" fill="none" stroke="#6a42b4" stroke-width="0.9" stroke-linejoin="round" stroke-linecap="round" />
<circle cx="469" cy="198.5" r="1.35" fill="#6a42b4"/>
<circle cx="474.1" cy="198.5" r="1.35" fill="#6a42b4"/>
<circle cx="479.2" cy="196" r="1.35" fill="#6a42b4"/>
<circle cx="485.6" cy="190.9" r="1.35" fill="#6a42b4"/>
<circle cx="493.3" cy="196" r="1.35" fill="#6a42b4"/>
<circle cx="499.6" cy="199.8" r="1.35" fill="#6a42b4"/>
<circle cx="505" cy="202.3" r="1.35" fill="#6a42b4"/>
<circle cx="506.4" cy="204.9" r="1.35" fill="#6a42b4"/>
<circle cx="516.6" cy="204.9" r="1.35" fill="#6a42b4"/>
<circle cx="523" cy="210" r="1.35" fill="#6a42b4"/>
<circle cx="530.6" cy="208.7" r="1.35" fill="#6a42b4"/>
<line x1="477.46" y1="184.94" x2="477.46" y2="219.83" stroke="#3a7a52" stroke-width="0.7" stroke-opacity="0.75"/>
<line x1="467.73" y1="210.81" x2="467.73" y2="230.11" stroke="#3a7a52" stroke-width="0.7" stroke-opacity="0.75"/>
<line x1="475.72" y1="206.42" x2="475.72" y2="218.11" stroke="#3a7a52" stroke-width="0.7" stroke-opacity="0.75"/>
<line x1="479.83" y1="184.07" x2="479.83" y2="193.81" stroke="#3a7a52" stroke-width="0.7" stroke-opacity="0.75"/>
<line x1="476.95" y1="197.39" x2="476.95" y2="213.22" stroke="#3a7a52" stroke-width="0.7" stroke-opacity="0.75"/>
<line x1="471.13" y1="211.65" x2="471.13" y2="236.65" stroke="#3a7a52" stroke-width="0.7" stroke-opacity="0.75"/>
<line x1="468.64" y1="212.01" x2="468.64" y2="232.54" stroke="#3a7a52" stroke-width="0.7" stroke-opacity="0.75"/>
<line x1="481.29" y1="168.90" x2="481.29" y2="204.53" stroke="#3a7a52" stroke-width="0.7" stroke-opacity="0.75"/>
<line x1="469.99" y1="215.86" x2="469.99" y2="234.10" stroke="#3a7a52" stroke-width="0.7" stroke-opacity="0.75"/>
<line x1="478.18" y1="191.65" x2="478.18" y2="204.96" stroke="#3a7a52" stroke-width="0.7" stroke-opacity="0.75"/>
<line x1="481.13" y1="180.09" x2="481.13" y2="193.65" stroke="#3a7a52" stroke-width="0.7" stroke-opacity="0.75"/>
<line x1="475.58" y1="204.31" x2="475.58" y2="221.81" stroke="#3a7a52" stroke-width="0.7" stroke-opacity="0.75"/>
<line x1="465.02" y1="211.03" x2="465.02" y2="219.06" stroke="#3a7a52" stroke-width="0.7" stroke-opacity="0.75"/>
<line x1="465.04" y1="206.48" x2="465.04" y2="223.67" stroke="#3a7a52" stroke-width="0.7" stroke-opacity="0.75"/>
<line x1="470.23" y1="206.95" x2="470.23" y2="242.71" stroke="#3a7a52" stroke-width="0.7" stroke-opacity="0.75"/>
<line x1="477.12" y1="199.43" x2="477.12" y2="209.26" stroke="#3a7a52" stroke-width="0.7" stroke-opacity="0.75"/>
<line x1="478.60" y1="188.65" x2="478.60" y2="203.16" stroke="#3a7a52" stroke-width="0.7" stroke-opacity="0.75"/>
<line x1="474.15" y1="207.04" x2="474.15" y2="235.27" stroke="#3a7a52" stroke-width="0.7" stroke-opacity="0.75"/>
<line x1="481.28" y1="169.63" x2="481.28" y2="203.82" stroke="#3a7a52" stroke-width="0.7" stroke-opacity="0.75"/>
<line x1="473.00" y1="214.30" x2="473.00" y2="231.20" stroke="#3a7a52" stroke-width="0.7" stroke-opacity="0.75"/>
<line x1="472.55" y1="214.71" x2="472.55" y2="231.46" stroke="#3a7a52" stroke-width="0.7" stroke-opacity="0.75"/>
<line x1="479.09" y1="182.67" x2="479.09" y2="203.63" stroke="#3a7a52" stroke-width="0.7" stroke-opacity="0.75"/>
<line x1="478.02" y1="193.07" x2="478.02" y2="205.32" stroke="#3a7a52" stroke-width="0.7" stroke-opacity="0.75"/>
<line x1="479.87" y1="171.18" x2="479.87" y2="206.25" stroke="#3a7a52" stroke-width="0.7" stroke-opacity="0.75"/>
<line x1="468.86" y1="210.08" x2="468.86" y2="235.35" stroke="#3a7a52" stroke-width="0.7" stroke-opacity="0.75"/>
<line x1="468.08" y1="216.66" x2="468.08" y2="225.65" stroke="#3a7a52" stroke-width="0.7" stroke-opacity="0.75"/>
<line x1="472.87" y1="216.29" x2="472.87" y2="229.42" stroke="#3a7a52" stroke-width="0.7" stroke-opacity="0.75"/>
<line x1="478.88" y1="182.31" x2="478.88" y2="206.34" stroke="#3a7a52" stroke-width="0.7" stroke-opacity="0.75"/>
<line x1="477.82" y1="182.82" x2="477.82" y2="217.93" stroke="#3a7a52" stroke-width="0.7" stroke-opacity="0.75"/>
<line x1="466.11" y1="211.84" x2="466.11" y2="222.59" stroke="#3a7a52" stroke-width="0.7" stroke-opacity="0.75"/>
<line x1="465.68" y1="205.93" x2="465.68" y2="226.79" stroke="#3a7a52" stroke-width="0.7" stroke-opacity="0.75"/>
<line x1="480.67" y1="173.76" x2="480.67" y2="200.91" stroke="#3a7a52" stroke-width="0.7" stroke-opacity="0.75"/>
<line x1="475.41" y1="198.03" x2="475.41" y2="230.00" stroke="#3a7a52" stroke-width="0.7" stroke-opacity="0.75"/>
<line x1="472.07" y1="217.87" x2="472.07" y2="229.03" stroke="#3a7a52" stroke-width="0.7" stroke-opacity="0.75"/>
<line x1="477.19" y1="199.56" x2="477.19" y2="208.28" stroke="#3a7a52" stroke-width="0.7" stroke-opacity="0.75"/>
<line x1="469.36" y1="219.30" x2="469.36" y2="228.13" stroke="#3a7a52" stroke-width="0.7" stroke-opacity="0.75"/>
<line x1="468.07" y1="216.25" x2="468.07" y2="226.04" stroke="#3a7a52" stroke-width="0.7" stroke-opacity="0.75"/>
<line x1="475.10" y1="209.98" x2="475.10" y2="221.56" stroke="#3a7a52" stroke-width="0.7" stroke-opacity="0.75"/>
<line x1="476.47" y1="192.49" x2="476.47" y2="223.57" stroke="#3a7a52" stroke-width="0.7" stroke-opacity="0.75"/>
<line x1="471.54" y1="218.16" x2="471.54" y2="229.53" stroke="#3a7a52" stroke-width="0.7" stroke-opacity="0.75"/>
<line x1="467.30" y1="205.00" x2="467.30" y2="248.40" stroke="#3a7a52" stroke-width="1.0" stroke-opacity="1.0"/>
<polyline points="467.20,211.30 469.00,217.60 470.30,229.10 471.60,239.30 474.10,224.00 476.70,206.20 479.20,188.30 481.80,183.20 485.60,184.50 489.40,184.50 495.80,192.10 500.00,194.70 507.70,197.20 512.80,199.30 519.20,193.40 524.80,189.60 531.90,192.90 538.80,199.30" fill="none" stroke="#3a7a52" stroke-width="0.9" stroke-linejoin="round" stroke-linecap="round" />
<circle cx="467.2" cy="211.3" r="1.35" fill="#3a7a52"/>
<circle cx="469" cy="217.6" r="1.35" fill="#3a7a52"/>
<circle cx="470.3" cy="229.1" r="1.35" fill="#3a7a52"/>
<circle cx="471.6" cy="239.3" r="1.35" fill="#3a7a52"/>
<circle cx="474.1" cy="224" r="1.35" fill="#3a7a52"/>
<circle cx="476.7" cy="206.2" r="1.35" fill="#3a7a52"/>
<circle cx="479.2" cy="188.3" r="1.35" fill="#3a7a52"/>
<circle cx="481.8" cy="183.2" r="1.35" fill="#3a7a52"/>
<circle cx="485.6" cy="184.5" r="1.35" fill="#3a7a52"/>
<circle cx="489.4" cy="184.5" r="1.35" fill="#3a7a52"/>
<circle cx="495.8" cy="192.1" r="1.35" fill="#3a7a52"/>
<circle cx="500" cy="194.7" r="1.35" fill="#3a7a52"/>
<circle cx="507.7" cy="197.2" r="1.35" fill="#3a7a52"/>
<circle cx="512.8" cy="199.3" r="1.35" fill="#3a7a52"/>
<circle cx="519.2" cy="193.4" r="1.35" fill="#3a7a52"/>
<circle cx="524.8" cy="189.6" r="1.35" fill="#3a7a52"/>
<circle cx="531.9" cy="192.9" r="1.35" fill="#3a7a52"/>
<circle cx="538.8" cy="199.3" r="1.35" fill="#3a7a52"/>
<line x1="481.80" y1="179.00" x2="481.80" y2="190.00" stroke="#3a7a52" stroke-width="0.7" stroke-opacity="0.8"/>
<line x1="485.60" y1="179.00" x2="485.60" y2="190.00" stroke="#3a7a52" stroke-width="0.7" stroke-opacity="0.8"/>
<line x1="489.40" y1="179.00" x2="489.40" y2="190.00" stroke="#3a7a52" stroke-width="0.7" stroke-opacity="0.8"/>
<line x1="519.20" y1="188.90" x2="519.20" y2="197.90" stroke="#3a7a52" stroke-width="0.7" stroke-opacity="0.8"/>
<line x1="531.90" y1="189.40" x2="531.90" y2="196.40" stroke="#3a7a52" stroke-width="0.7" stroke-opacity="0.8"/>
<polyline points="463.90,211.30 466.50,215.10 469.00,217.60 472.90,213.80 476.70,208.70 480.50,210.00 485.60,211.80 493.30,212.50 499.60,215.10 505.00,218.90 507.70,221.00 514.80,219.70" fill="none" stroke="#d42a2a" stroke-width="1.2" stroke-linejoin="round" stroke-linecap="round" />
<circle cx="463.9" cy="211.3" r="1.5" fill="#d42a2a"/>
<circle cx="466.5" cy="215.1" r="1.5" fill="#d42a2a"/>
<circle cx="469" cy="217.6" r="1.5" fill="#d42a2a"/>
<circle cx="472.9" cy="213.8" r="1.5" fill="#d42a2a"/>
<circle cx="476.7" cy="208.7" r="1.5" fill="#d42a2a"/>
<circle cx="480.5" cy="210" r="1.5" fill="#d42a2a"/>
<circle cx="485.6" cy="211.8" r="1.5" fill="#d42a2a"/>
<circle cx="493.3" cy="212.5" r="1.5" fill="#d42a2a"/>
<circle cx="499.6" cy="215.1" r="1.5" fill="#d42a2a"/>
<circle cx="505" cy="218.9" r="1.5" fill="#d42a2a"/>
<circle cx="507.7" cy="221" r="1.5" fill="#d42a2a"/>
<circle cx="514.8" cy="219.7" r="1.5" fill="#d42a2a"/>
</g>
<text font-size="6.3" fill="#d42a2a" stroke="#d42a2a" stroke-width="0.12" class="lg"><tspan x="356.10" y="104.90">I</tspan><tspan font-size="4.54" y="106.29">p</tspan><tspan x="362.00" y="104.90">=</tspan><tspan x="367.40" y="104.90">0.19</tspan><tspan x="381.70" y="104.90">MA</tspan><tspan x="393.80" y="104.90">n</tspan><tspan font-size="4.54" y="102.63">s</tspan><tspan font-size="4.54" x="397.30" y="106.54">e</tspan><tspan x="399.20" y="104.90">/n</tspan><tspan font-size="4.54" y="106.29">G</tspan><tspan x="411.00" y="104.90">=</tspan><tspan x="416.80" y="104.90">0.17</tspan></text>
<text font-size="6.3" fill="#6a42b4" stroke="#6a42b4" stroke-width="0.12" class="lg"><tspan x="356.10" y="112.30">I</tspan><tspan font-size="4.54" y="113.69">p</tspan><tspan x="362.00" y="112.30">=</tspan><tspan x="367.40" y="112.30">0.25</tspan><tspan x="381.70" y="112.30">MA</tspan><tspan x="393.80" y="112.30">n</tspan><tspan font-size="4.54" y="110.03">s</tspan><tspan font-size="4.54" x="397.30" y="113.94">e</tspan><tspan x="399.20" y="112.30">/n</tspan><tspan font-size="4.54" y="113.69">G</tspan><tspan x="411.00" y="112.30">=</tspan><tspan x="416.80" y="112.30">0.16</tspan></text>
<text font-size="6.3" fill="#3a7a52" stroke="#3a7a52" stroke-width="0.12" class="lg"><tspan x="356.10" y="119.60">I</tspan><tspan font-size="4.54" y="120.99">p</tspan><tspan x="362.00" y="119.60">=</tspan><tspan x="367.40" y="119.60">0.33</tspan><tspan x="381.70" y="119.60">MA</tspan><tspan x="393.80" y="119.60">n</tspan><tspan font-size="4.54" y="117.33">s</tspan><tspan font-size="4.54" x="397.30" y="121.24">e</tspan><tspan x="399.20" y="119.60">/n</tspan><tspan font-size="4.54" y="120.99">G</tspan><tspan x="411.00" y="119.60">=</tspan><tspan x="416.80" y="119.60">0.14</tspan></text>
<text font-size="6.3" fill="#d42a2a" stroke="#d42a2a" stroke-width="0.12" class="lg"><tspan x="478.60" y="104.90">I</tspan><tspan font-size="4.54" y="106.29">p</tspan><tspan x="484.50" y="104.90">=</tspan><tspan x="489.90" y="104.90">0.19</tspan><tspan x="504.20" y="104.90">MA</tspan><tspan x="516.30" y="104.90">n</tspan><tspan font-size="4.54" y="102.63">s</tspan><tspan font-size="4.54" x="519.80" y="106.54">e</tspan><tspan x="521.70" y="104.90">/n</tspan><tspan font-size="4.54" y="106.29">G</tspan><tspan x="533.50" y="104.90">=</tspan><tspan x="539.30" y="104.90">0.46</tspan></text>
<text font-size="6.3" fill="#6a42b4" stroke="#6a42b4" stroke-width="0.12" class="lg"><tspan x="478.60" y="112.30">I</tspan><tspan font-size="4.54" y="113.69">p</tspan><tspan x="484.50" y="112.30">=</tspan><tspan x="489.90" y="112.30">0.25</tspan><tspan x="504.20" y="112.30">MA</tspan><tspan x="516.30" y="112.30">n</tspan><tspan font-size="4.54" y="110.03">s</tspan><tspan font-size="4.54" x="519.80" y="113.94">e</tspan><tspan x="521.70" y="112.30">/n</tspan><tspan font-size="4.54" y="113.69">G</tspan><tspan x="533.50" y="112.30">=</tspan><tspan x="539.30" y="112.30">0.48</tspan></text>
<text font-size="6.3" fill="#3a7a52" stroke="#3a7a52" stroke-width="0.12" class="lg"><tspan x="478.60" y="119.60">I</tspan><tspan font-size="4.54" y="120.99">p</tspan><tspan x="484.50" y="119.60">=</tspan><tspan x="489.90" y="119.60">0.33</tspan><tspan x="504.20" y="119.60">MA</tspan><tspan x="516.30" y="119.60">n</tspan><tspan font-size="4.54" y="117.33">s</tspan><tspan font-size="4.54" x="519.80" y="121.24">e</tspan><tspan x="521.70" y="119.60">/n</tspan><tspan font-size="4.54" y="120.99">G</tspan><tspan x="533.50" y="119.60">=</tspan><tspan x="539.30" y="119.60">0.48</tspan></text>
<text class="cap" x="78.6" y="293.9" style="font-family:Liberation Serif,serif" font-size="13.5" fill="#2a2a2a" textLength="120.1" lengthAdjust="spacingAndGlyphs">(i) ASDEX Upgrade</text>
<text class="cap" x="403.9" y="294.2" style="font-family:Liberation Serif,serif" font-size="13.5" fill="#2a2a2a" textLength="51.4" lengthAdjust="spacingAndGlyphs">(ii) TCV</text>
</svg>
</body></html>
